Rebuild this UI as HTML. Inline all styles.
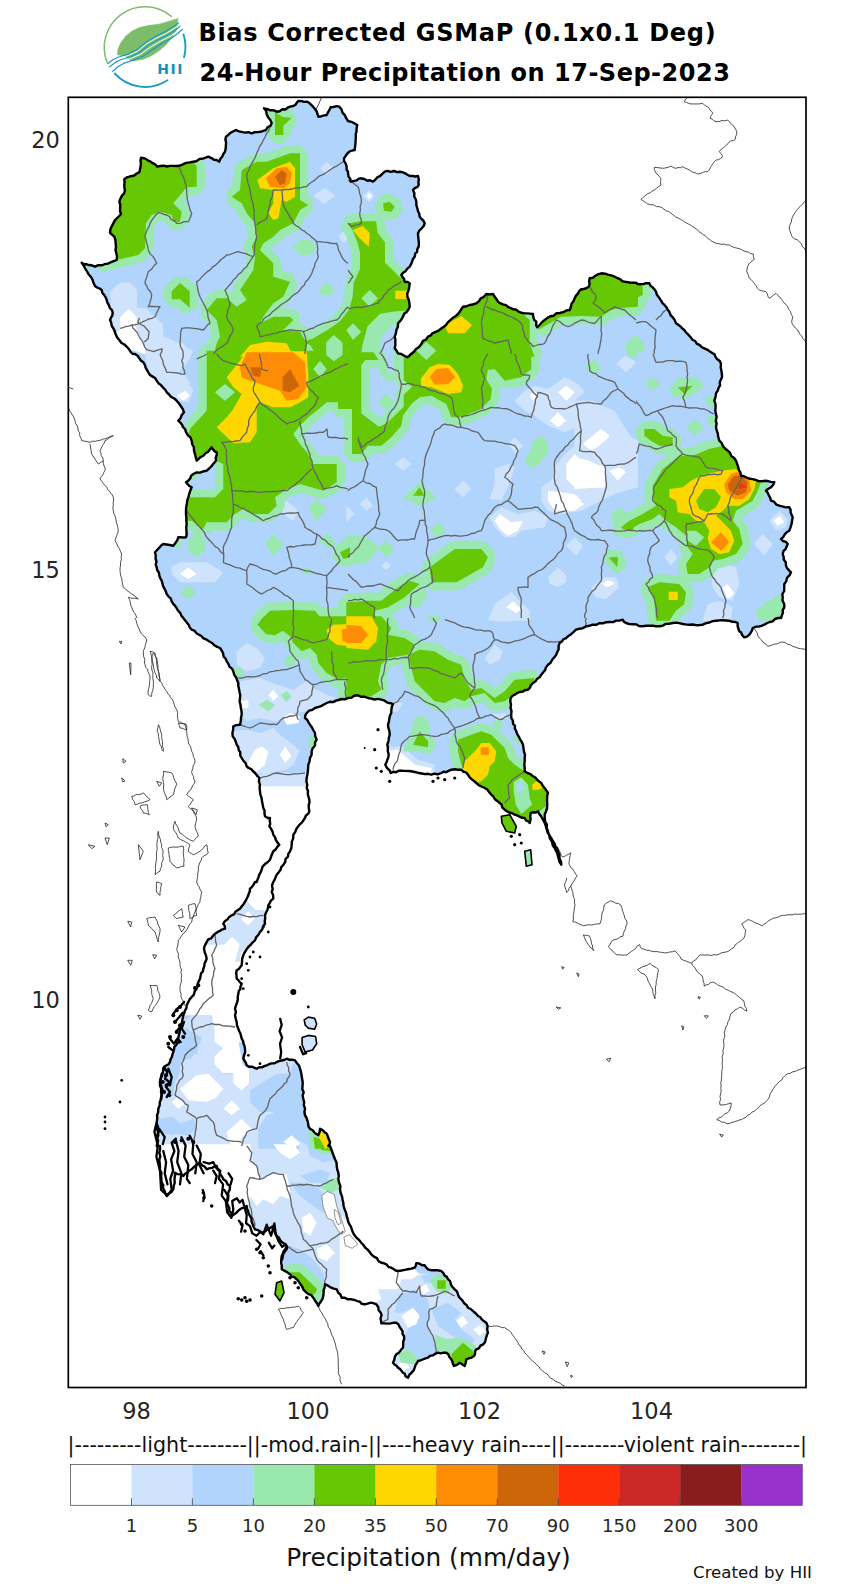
<!DOCTYPE html>
<html><head><meta charset="utf-8"><title>Bias Corrected GSMaP 24-Hour Precipitation</title>
<style>html,body{margin:0;padding:0;background:#fff}svg{display:block}</style></head>
<body>
<svg width="864" height="1584" viewBox="0 0 864 1584" font-family="'DejaVu Sans','Liberation Sans',sans-serif">
<rect width="864" height="1584" fill="#fff"/>
<g id="logo" fill="none" stroke-linecap="round" stroke-linejoin="round">
<path d="M 107.1 62.4 A 40.7 40.7 0 0 1 171.4 16.5" stroke="#7cbd6a" stroke-width="1.5"/>
<path d="M 114.8 73.5 A 40.7 40.7 0 0 0 167.5 80.2" stroke="#1d9cc4" stroke-width="1.9"/>
<path d="M 183.5 34.4 A 40.7 40.7 0 0 1 184.1 57.3" stroke="#1d9cc4" stroke-width="1.9"/>
<polygon points="177.7,18.5 170.1,21.0 158.7,24.2 148.5,25.5 139.6,27.4 131.9,31.2 125.6,36.3 120.5,43.3 117.9,49.6 117.3,54.7 124.3,56.0 129.4,59.6 133.2,60.9 143.4,59.2 151.0,56.0 158.7,50.9 166.3,44.6 170.1,39.7 171.4,38.2 176.5,29.9 177.5,24.2" fill="#7cbd6a" stroke="#7cbd6a" stroke-width="0.6"/>
<polyline points="117.3,58.6 128.1,55.5 137.6,51.2 146.6,43.8 156.1,38.2 166.3,33.4 175.2,27.8 179.0,24.8" stroke="#fff" stroke-width="1.0"/>
<polyline points="120.5,61.7 131.3,58.3 140.8,54.1 150.0,47.4 159.9,41.5 170.1,36.3 177.7,31.2 180.9,28.0" stroke="#fff" stroke-width="1.0"/>
<polyline points="107.7,63.7 112.8,59.8 117.9,57.3 128.1,54.1 137.0,49.6 145.9,42.0 154.8,36.9 165.0,31.8 173.9,26.1 178.4,22.9" stroke="#1d9cc4" stroke-width="1.2"/>
<polyline points="109.6,66.8 115.4,62.4 120.5,59.8 130.6,56.7 139.6,52.2 148.5,45.2 158.7,39.5 168.8,34.4 176.5,29.3 180.0,26.1" stroke="#1d9cc4" stroke-width="1.2"/>
<polyline points="112.8,71.3 117.9,66.8 123.0,63.7 133.2,60.1 143.4,56.0 152.3,49.9 161.2,43.9 171.4,38.2 177.7,33.4 182.2,29.5" stroke="#1d9cc4" stroke-width="1.3"/>
<text x="157.2" y="73.8" font-size="14" font-weight="bold" fill="#1d8fb5" stroke="none" style="letter-spacing:1.6px" font-family="'DejaVu Sans','Liberation Sans',sans-serif">HII</text>
</g>
<text x="198.4" y="40.6" font-size="24" font-weight="bold" fill="#000" style="letter-spacing:0.7px">Bias Corrected GSMaP (0.1x0.1 Deg)</text>
<text x="199.5" y="80.7" font-size="24" font-weight="bold" fill="#000" style="letter-spacing:0.5px">24-Hour Precipitation on 17-Sep-2023</text>
<defs><clipPath id="thai"><path d="M132.7 354.0 L126.7 346.7 L119.3 340.0 L113.3 328.3 L110.0 320.0 L112.7 312.7 L106.7 300.0 L101.7 290.0 L95.0 286.0 L90.7 276.7 L85.0 268.3 L81.7 262.7 L88.3 265.0 L95.0 266.7 L105.0 264.0 L116.7 260.0 L116.0 246.7 L114.3 236.7 L110.0 232.7 L113.3 223.3 L121.0 214.0 L119.3 201.7 L125.0 190.0 L124.3 179.3 L139.3 172.3 L141.0 157.7 L148.3 160.7 L157.3 166.7 L176.7 166.0 L193.3 161.7 L208.3 156.7 L219.3 161.7 L225.0 151.7 L226.0 136.7 L236.0 130.0 L251.7 133.3 L266.0 130.0 L271.7 123.3 L264.0 108.3 L276.7 111.7 L293.3 106.0 L298.3 101.0 L307.3 101.7 L315.0 109.0 L318.3 116.7 L326.7 115.0 L330.7 107.3 L339.3 106.7 L348.0 121.0 L348.0 121.0 L357.3 125.0 L354.7 150.0 L348.0 152.7 L344.0 158.3 L346.7 170.0 L348.0 173.3 L348.0 173.3 L350.7 181.7 L361.3 178.3 L373.0 181.7 L384.7 171.7 L399.7 171.7 L409.7 176.0 L418.0 176.0 L418.7 185.0 L413.0 190.0 L416.3 205.0 L419.7 216.7 L424.7 223.3 L418.0 233.3 L418.7 246.7 L414.7 256.7 L409.7 266.7 L401.3 275.0 L404.7 281.7 L409.7 283.3 L407.3 293.3 L409.7 306.7 L403.0 316.7 L398.0 323.3 L394.7 336.7 L394.7 348.3 L398.0 353.3 L401.3 354.0 L407.3 357.3 L410.7 354.0 L411.3 354.0 L428.0 336.7 L443.0 327.3 L458.0 314.0 L463.0 306.7 L476.3 303.3 L486.3 294.0 L493.0 294.0 L498.0 301.7 L511.3 308.3 L521.3 312.7 L533.0 314.0 L537.3 327.3 L544.7 320.0 L556.3 313.3 L569.7 310.0 L574.7 298.3 L581.3 289.3 L588.7 286.7 L589.7 278.3 L601.3 273.3 L614.7 276.7 L624.7 281.7 L636.0 282.7 L637.7 284.0 L649.3 283.3 L656.0 291.7 L662.7 303.3 L669.3 311.7 L676.0 323.3 L684.3 330.0 L692.7 340.0 L704.3 348.3 L712.7 353.3 L714.3 354.0 L721.0 364.0 L722.0 377.3 L717.7 390.7 L714.3 400.7 L716.0 414.0 L716.0 427.3 L719.3 440.7 L727.7 450.7 L736.0 460.7 L741.0 475.7 L756.0 480.0 L774.3 482.3 L771.0 487.3 L766.0 490.7 L771.0 500.7 L779.3 505.7 L789.3 507.3 L792.7 517.3 L789.3 530.7 L781.0 539.0 L787.7 544.0 L782.7 554.0 L786.0 565.7 L791.0 572.3 L784.3 584.0 L782.7 597.3 L784.3 607.3 L781.0 618.0 L777.7 618.0 L772.7 621.3 L762.7 625.3 L752.7 628.0 L749.3 634.7 L744.3 637.3 L739.3 631.3 L737.7 623.0 L729.3 620.7 L716.0 620.7 L702.7 624.7 L689.3 624.7 L672.7 623.0 L656.0 626.3 L642.7 626.3 L626.0 623.0 L622.7 619.7 L609.3 622.0 L592.7 624.7 L576.0 629.7 L568.0 636.3 L559.7 643.0 L556.3 654.7 L548.0 664.7 L541.3 674.7 L533.0 683.0 L528.0 689.7 L514.7 694.7 L510.7 698.0 L511.3 718.0 L516.3 731.3 L523.0 744.7 L524.7 758.0 L524.7 771.3 L533.0 776.3 L541.3 783.0 L548.0 793.0 L547.3 804.7 L544.7 818.0 L548.0 831.3 L553.0 841.3 L558.0 851.3 L561.3 864.7 L558.7 858.7 L554.7 848.0 L549.7 838.0 L546.3 828.0 L542.0 818.0 L538.0 811.3 L530.7 813.0 L529.7 823.0 L524.7 818.0 L514.7 814.7 L504.7 809.7 L499.7 803.0 L491.3 794.7 L484.7 788.0 L476.3 783.0 L468.0 774.7 L461.3 769.7 L451.3 769.7 L441.3 773.0 L431.3 774.7 L414.7 772.0 L401.3 770.7 L390.7 773.0 L385.3 764.7 L388.7 754.7 L387.3 744.7 L389.7 734.7 L388.0 724.7 L391.3 713.0 L393.0 704.0 L381.3 699.7 L368.0 698.0 L358.0 695.3 L348.0 698.0 L348.0 698.0 L326.7 703.0 L315.0 708.0 L306.7 713.0 L305.0 718.0 L310.0 724.7 L315.0 733.0 L316.7 739.7 L311.7 751.3 L308.3 764.7 L306.7 778.0 L306.7 788.0 L309.3 799.7 L309.3 811.3 L305.0 818.0 L298.3 826.3 L293.3 834.7 L291.7 844.7 L290.0 851.3 L283.3 864.7 L276.7 874.7 L273.3 882.0 L273.3 882.0 L271.7 892.0 L273.3 898.7 L268.3 905.3 L265.0 915.3 L265.0 923.7 L260.0 932.0 L255.0 940.3 L248.3 947.0 L243.3 955.3 L241.7 965.3 L236.7 970.3 L236.7 978.7 L241.7 983.7 L238.3 993.7 L236.0 1005.3 L235.0 1015.3 L238.3 1028.7 L241.7 1038.7 L245.0 1048.7 L243.3 1058.7 L246.7 1065.3 L256.7 1068.7 L266.7 1065.3 L276.7 1062.0 L286.7 1058.7 L295.0 1060.3 L300.0 1068.7 L302.7 1082.0 L303.3 1098.7 L305.0 1115.3 L310.0 1128.7 L318.3 1135.3 L320.0 1128.7 L326.7 1133.7 L330.0 1142.0 L328.3 1146.0 L330.0 1146.0 L335.0 1159.3 L338.3 1172.7 L340.0 1189.3 L343.3 1202.7 L346.7 1216.0 L348.0 1221.0 L348.0 1221.0 L353.0 1232.7 L361.3 1242.7 L371.3 1254.3 L381.3 1262.7 L391.3 1267.7 L398.0 1271.0 L414.7 1267.7 L416.3 1263.3 L424.7 1265.3 L428.0 1269.3 L441.3 1271.0 L448.0 1279.3 L454.7 1289.3 L461.3 1299.3 L468.0 1307.7 L478.0 1316.0 L486.3 1322.7 L488.0 1332.7 L484.7 1342.7 L476.3 1349.3 L474.0 1356.0 L466.3 1359.3 L464.7 1366.0 L459.7 1362.7 L454.0 1366.0 L451.3 1359.3 L446.3 1352.7 L438.0 1352.7 L428.0 1357.7 L418.0 1361.0 L414.7 1367.7 L408.0 1377.7 L403.0 1372.7 L398.0 1367.7 L393.0 1362.7 L396.3 1354.3 L403.0 1347.7 L404.0 1336.0 L401.3 1329.3 L396.3 1322.7 L381.3 1323.3 L380.7 1312.7 L376.3 1304.3 L371.3 1302.7 L364.7 1304.3 L354.7 1300.0 L348.0 1299.3 L348.0 1299.3 L341.7 1297.7 L336.7 1289.3 L325.0 1284.3 L323.3 1296.0 L318.3 1306.0 L313.3 1297.7 L303.3 1289.3 L296.7 1279.3 L290.0 1274.3 L281.7 1269.3 L281.7 1256.0 L286.7 1246.0 L276.7 1236.0 L273.3 1226.0 L263.3 1232.7 L255.0 1229.3 L250.0 1216.0 L246.7 1206.0 L240.0 1209.3 L231.7 1216.0 L226.7 1202.7 L230.0 1186.0 L223.3 1179.3 L216.7 1166.0 L206.7 1169.3 L200.0 1162.7 L191.7 1169.3 L183.3 1176.0 L175.0 1172.7 L173.3 1189.3 L166.7 1196.0 L161.7 1182.7 L160.0 1166.0 L160.0 1146.0 L156.7 1146.0 L158.3 1135.3 L156.7 1122.0 L158.3 1108.7 L161.7 1095.3 L160.0 1082.0 L163.3 1068.7 L170.0 1062.0 L173.3 1052.0 L176.7 1042.0 L180.0 1028.7 L183.3 1015.3 L186.7 1005.3 L191.7 997.0 L196.7 988.7 L200.0 978.7 L203.3 968.7 L206.7 958.7 L204.0 948.7 L206.7 942.0 L215.0 933.7 L225.0 928.7 L223.3 923.7 L231.7 915.3 L240.0 908.7 L246.7 898.7 L250.0 888.7 L255.0 882.0 L256.7 882.0 L259.3 874.7 L262.7 866.3 L270.0 859.7 L273.3 851.3 L279.3 844.7 L273.3 834.7 L269.3 826.3 L270.0 818.0 L265.0 816.3 L263.3 808.0 L260.0 791.3 L259.3 778.0 L255.0 773.0 L246.7 766.3 L241.7 758.0 L236.7 744.7 L232.7 736.3 L233.3 726.3 L240.0 724.7 L241.7 714.7 L240.0 698.0 L238.3 683.0 L233.3 671.3 L226.7 661.3 L220.0 648.0 L206.7 639.7 L191.7 629.7 L183.3 618.0 L183.3 618.0 L175.0 605.7 L166.7 594.0 L161.7 580.7 L156.7 567.3 L155.0 552.3 L163.3 544.0 L173.3 545.7 L178.3 537.3 L186.0 537.3 L186.7 524.0 L186.0 510.7 L188.3 497.3 L191.7 487.3 L186.0 482.3 L193.3 474.0 L206.7 470.7 L216.0 460.7 L216.7 452.3 L211.7 447.3 L203.3 455.7 L196.7 460.7 L195.0 454.0 L191.7 440.7 L185.0 429.0 L178.3 420.7 L184.0 412.3 L176.7 400.7 L166.7 392.3 L156.7 380.7 L148.3 372.3 L143.3 362.3 L135.0 354.0 Z"/>
<path d="M501.3 816.3 L509.7 814.7 L516.3 826.3 L514.7 833.0 L506.3 831.3 L502.0 823.0 Z"/>
<path d="M524.7 851.3 L530.7 849.7 L532.0 864.7 L526.3 866.3 Z"/>
<path d="M276.7 1282.7 L281.7 1281.0 L284.0 1292.7 L280.0 1301.0 L275.0 1294.3 Z"/>
<path d="M304.2 1019.8 L308.3 1017.1 L314.6 1018.3 L316.7 1024.0 L314.6 1029.2 L308.3 1028.1 L305.2 1025.0 Z"/>
<path d="M302.1 1037.5 L308.3 1035.4 L315.6 1036.5 L316.7 1043.8 L312.5 1050.0 L305.2 1052.1 L302.1 1044.8 Z"/>
</clipPath><clipPath id="rightcol"><rect x="636" y="90" width="230" height="1300"/></clipPath><clipPath id="frame"><rect x="68.3" y="97.3" width="737.7" height="1290.2"/></clipPath></defs>
<g clip-path="url(#frame)">
<g clip-path="url(#thai)">
<rect x="68" y="97" width="740" height="1292" fill="#b0d4fc"/>
<g fill="#ffffff"><path d="M256.7 783.7 L313.3 783.7 L313.3 884.7 L253.3 884.7 Z"/><path d="M153.3 880.3 L293.3 880.3 L293.3 1042.0 L216.7 1042.0 L211.7 1015.3 L183.3 1015.3 L153.3 1048.7 Z"/></g>
<g fill="#cfe3fd"><path d="M320.0 168.3 L326.7 161.7 L333.3 168.3 L326.7 175.0 Z"/><path d="M313.3 195.0 L325.0 188.3 L335.0 195.0 L325.0 203.3 Z"/><path d="M338.3 236.7 L345.0 230.0 L348.0 236.7 L345.0 243.3 Z"/><path d="M363.0 196.0 L369.0 190.0 L375.3 196.0 L369.0 202.0 Z"/><path d="M145.0 344.0 L166.7 337.3 L193.3 350.7 L186.7 364.0 L176.7 374.0 L186.7 380.7 L193.3 390.7 L188.3 402.3 L176.7 400.7 L166.7 392.3 L156.7 380.7 L148.3 372.3 Z"/><path d="M171.7 567.3 L180.0 562.3 L206.7 562.3 L223.3 572.3 L215.0 582.3 L180.0 582.3 L171.7 574.0 Z"/><path d="M278.3 505.7 L286.7 500.7 L298.3 510.7 L293.3 520.7 L286.7 517.3 Z"/><path d="M514.7 400.7 L524.7 390.7 L534.7 385.7 L548.0 389.0 L564.7 377.3 L578.0 384.0 L584.7 392.3 L574.7 400.7 L581.3 409.0 L581.3 425.7 L564.7 432.3 L548.0 425.7 L534.7 415.7 L524.7 410.7 Z"/><path d="M581.3 410.7 L598.0 404.0 L614.7 410.7 L624.7 427.3 L631.3 437.3 L638.0 440.7 L638.0 487.3 L614.7 494.0 L601.3 500.7 L581.3 510.7 L561.3 514.0 L548.0 510.7 L541.3 500.7 L541.3 487.3 L551.3 480.7 L554.7 467.3 L564.7 454.0 L581.3 440.7 L581.3 425.7 Z"/><path d="M616.3 364.0 L624.7 355.7 L634.7 364.0 L626.3 372.3 Z"/><path d="M489.7 517.3 L501.3 507.3 L518.0 514.0 L534.7 510.7 L548.0 517.3 L544.7 527.3 L521.3 530.7 L514.7 537.3 L504.7 537.3 L494.7 527.3 Z"/><path d="M489.7 499.0 L494.7 484.0 L494.7 469.0 L508.0 464.0 L514.7 467.3 L508.0 487.3 L501.3 500.7 Z"/><path d="M508.0 444.0 L514.7 437.3 L523.0 445.7 L516.3 454.0 Z"/><path d="M394.7 464.0 L403.0 457.3 L411.3 464.0 L403.0 470.7 Z"/><path d="M454.7 489.0 L463.0 480.7 L471.3 489.0 L463.0 497.3 Z"/><path d="M359.7 504.0 L366.3 497.3 L373.0 505.7 L366.3 510.7 Z"/><path d="M346.3 505.7 L354.7 514.0 L346.3 522.3 Z"/><path d="M381.3 565.7 L386.3 561.3 L390.7 565.7 L386.3 570.0 Z"/><path d="M548.0 577.3 L558.0 567.3 L566.3 575.7 L566.3 582.3 L558.0 587.3 L549.7 584.0 Z"/><path d="M566.3 545.7 L574.7 537.3 L583.0 545.7 L576.3 555.7 Z"/><path d="M591.3 587.3 L604.7 577.3 L618.0 580.7 L611.3 590.7 L598.0 597.3 Z"/><path d="M488.0 620.7 L494.7 604.0 L511.3 592.3 L521.3 602.3 L529.7 610.7 L529.7 620.7 Z"/><path d="M574.3 400.7 L592.7 400.7 L606.0 410.7 L616.0 420.7 L619.3 440.7 L626.0 454.0 L631.0 470.7 L626.0 487.3 L609.3 494.0 L592.7 500.7 L574.3 500.7 Z"/><path d="M617.7 362.3 L626.0 355.7 L636.0 362.3 L626.0 370.7 Z"/><path d="M574.3 385.7 L582.7 392.3 L574.3 399.0 Z"/><path d="M769.3 520.7 L779.3 510.7 L787.7 519.0 L786.0 527.3 L776.0 530.7 Z"/><path d="M754.3 544.0 L762.7 534.0 L772.7 544.0 L764.3 555.7 Z"/><path d="M664.3 557.3 L671.0 549.0 L677.7 557.3 L671.0 565.7 Z"/><path d="M711.0 570.7 L722.7 564.0 L736.0 567.3 L739.3 584.0 L732.7 600.7 L719.3 597.3 L712.7 587.3 Z"/><path d="M591.0 590.7 L602.7 577.3 L616.0 577.3 L619.3 587.3 L606.0 599.0 L596.0 597.3 Z"/><path d="M574.3 540.7 L582.7 547.3 L574.3 554.0 Z"/><path d="M702.7 620.7 L707.7 604.0 L719.3 600.7 L732.7 607.3 L731.0 620.7 Z"/><path d="M236.7 651.3 L246.7 643.0 L256.7 648.0 L265.0 658.0 L260.0 668.0 L246.7 671.3 L236.7 664.7 Z"/><path d="M240.0 681.3 L260.0 678.0 L276.7 684.7 L293.3 689.7 L306.7 681.3 L313.3 688.0 L326.7 694.7 L336.7 698.0 L323.3 703.0 L306.7 711.3 L293.3 713.0 L276.7 721.3 L260.0 718.0 L246.7 721.3 L241.7 714.7 L240.0 698.0 Z"/><path d="M231.7 731.3 L246.7 729.7 L260.0 733.0 L273.3 728.0 L280.0 734.7 L293.3 744.7 L300.0 751.3 L293.3 764.7 L286.7 769.7 L276.7 771.3 L266.7 774.7 L256.7 773.0 L246.7 766.3 L241.7 758.0 L236.7 744.7 Z"/><path d="M259.3 774.7 L276.7 772.0 L290.0 773.3 L308.3 771.3 L308.3 786.3 L259.3 786.3 Z"/><path d="M484.7 658.0 L494.7 644.7 L503.0 651.3 L499.7 659.7 L489.7 664.7 Z"/><path d="M381.3 748.0 L401.3 746.3 L418.0 759.7 L434.7 764.7 L434.7 776.3 L381.3 776.3 Z"/><path d="M391.3 701.3 L403.0 703.0 L398.0 711.3 L391.3 713.0 Z"/><path d="M491.3 714.7 L504.7 713.0 L508.0 718.0 L498.0 721.3 Z"/><path d="M491.3 616.3 L514.7 616.3 L511.3 621.3 L494.7 621.3 Z"/><path d="M246.7 900.7 L255.7 910.0 L266.7 910.0 L266.7 921.7 L257.7 935.7 L249.3 945.3 L241.0 952.3 L239.7 962.0 L235.0 962.0 L239.7 944.0 L232.0 937.0 L224.3 944.7 L201.7 944.7 L201.7 941.0 L214.7 932.7 L224.3 925.7 L235.7 913.3 L241.0 907.7 Z"/><path d="M191.7 1015.3 L210.0 1015.3 L215.0 1028.7 L215.0 1038.7 L223.3 1045.3 L216.7 1055.3 L216.7 1063.7 L223.3 1073.7 L241.7 1073.7 L241.7 1067.0 L246.7 1065.3 L256.7 1068.7 L276.7 1062.0 L286.7 1058.7 L295.0 1060.3 L302.7 1082.0 L305.0 1115.3 L310.0 1128.7 L306.7 1148.7 L153.3 1148.7 L158.3 1108.7 L160.0 1082.0 L170.0 1062.0 L176.7 1042.0 L183.3 1022.0 Z"/><path d="M156.7 1144.3 L331.7 1144.3 L346.7 1217.7 L343.3 1232.7 L343.3 1282.7 L338.3 1292.7 L341.7 1300.0 L325.0 1286.0 L318.3 1307.7 L280.0 1271.0 L286.7 1246.0 L255.0 1229.3 L246.7 1206.0 L226.7 1202.7 L220.0 1172.7 L193.3 1166.0 L173.3 1192.7 L160.0 1186.0 Z"/><path d="M346.3 1219.3 L398.0 1269.3 L448.0 1277.7 L489.7 1322.7 L489.7 1346.0 L464.7 1367.7 L408.0 1379.3 L391.3 1362.7 L403.0 1346.0 L403.0 1331.0 L396.3 1324.3 L381.3 1324.3 L379.7 1312.7 L371.3 1303.3 L346.3 1301.0 Z"/><path d="M313.8 196.2 L323.8 188.8 L335.0 196.2 L323.8 203.8 Z"/><path d="M340.0 238.8 L343.8 235.0 L347.5 238.8 L343.8 242.5 Z"/><path d="M110.2 291.3 L120.0 282.4 L129.7 282.4 L137.0 289.7 L137.0 307.5 L145.9 308.3 L162.9 324.5 L163.7 336.7 L171.8 342.3 L183.2 343.2 L189.6 351.3 L179.9 365.8 L171.8 375.6 L163.7 380.4 L150.7 369.1 L145.9 362.6 L145.9 352.9 L141.0 339.9 L128.1 331.8 L118.3 331.8 L111.9 323.7 Z"/><path d="M171.8 375.6 L183.2 372.3 L189.6 382.0 L189.6 391.8 L179.9 400.0 L171.8 400.0 Z"/></g>
<g fill="#b0d4fc"><path d="M183.3 1028.7 L193.3 1032.0 L200.0 1038.7 L196.7 1055.3 L186.7 1048.7 L178.3 1045.3 Z"/><path d="M166.7 1063.7 L180.0 1058.7 L180.0 1072.0 L175.0 1082.0 L173.3 1095.3 L160.0 1095.3 L158.3 1082.0 Z"/><path d="M250.0 1090.3 L263.3 1082.0 L276.7 1073.7 L290.0 1073.7 L293.3 1063.7 L300.0 1068.7 L305.0 1082.0 L308.3 1115.3 L313.3 1128.7 L313.3 1148.7 L290.0 1135.3 L280.0 1123.7 L273.3 1112.0 L260.0 1112.0 L250.0 1102.0 Z"/><path d="M156.7 1118.7 L173.3 1117.0 L180.0 1123.7 L193.3 1118.7 L196.7 1128.7 L180.0 1130.3 L173.3 1135.3 L156.7 1132.0 Z"/><path d="M258.3 1148.7 L258.3 1128.7 L266.7 1115.3 L276.7 1112.0 L293.3 1135.3 L300.0 1148.7 Z"/><path d="M290.0 1182.7 L306.7 1182.7 L320.0 1189.3 L326.7 1199.3 L323.3 1212.7 L313.3 1206.0 L300.0 1196.0 Z"/><path d="M300.0 1176.0 L320.0 1169.3 L330.0 1172.7 L326.7 1182.7 L310.0 1182.7 Z"/><path d="M280.0 1256.0 L290.0 1246.0 L300.0 1249.3 L313.3 1259.3 L323.3 1272.7 L325.0 1284.3 L318.3 1307.7 L303.3 1291.0 L290.0 1276.0 L280.0 1271.0 Z"/><path d="M306.7 1144.3 L331.7 1144.3 L336.7 1159.3 L323.3 1162.7 L310.0 1156.0 Z"/><path d="M398.0 1296.0 L414.7 1289.3 L428.0 1299.3 L429.7 1312.7 L428.0 1326.0 L434.7 1342.7 L436.3 1352.7 L418.0 1361.0 L404.7 1349.3 L404.0 1336.0 L408.0 1329.3 L419.7 1316.0 L413.0 1307.7 L401.3 1312.7 L394.7 1312.7 Z"/><path d="M431.3 1309.3 L448.0 1302.7 L461.3 1312.7 L454.7 1319.3 L461.3 1329.3 L474.7 1339.3 L471.3 1346.0 L458.0 1339.3 L448.0 1332.7 L438.0 1326.0 Z"/><path d="M421.3 1276.0 L434.7 1272.7 L431.3 1282.7 L424.7 1282.7 Z"/><path d="M186.5 1027.1 L191.7 1033.3 L202.1 1037.5 L197.9 1047.9 L191.7 1058.3 L181.2 1060.4 L177.1 1079.2 L170.8 1081.2 L170.8 1060.4 L172.9 1058.3 L177.1 1041.7 Z"/><path d="M160.4 1118.8 L170.8 1116.7 L179.2 1125.0 L193.8 1118.8 L195.8 1129.2 L187.5 1135.4 L172.9 1133.3 L162.5 1127.1 Z"/></g>
<g fill="#ffffff"><path d="M366.3 196.0 L369.0 193.3 L372.0 196.0 L369.0 199.0 Z"/><path d="M176.7 395.7 L185.0 390.7 L190.0 395.7 L183.3 400.7 Z"/><path d="M180.0 574.0 L188.3 567.3 L196.7 574.0 L188.3 579.0 Z"/><path d="M529.7 395.7 L534.7 390.7 L538.0 395.7 L533.0 400.7 Z"/><path d="M558.0 392.3 L566.3 385.7 L574.7 392.3 L566.3 400.7 Z"/><path d="M549.7 420.7 L558.0 412.3 L566.3 420.7 L558.0 427.3 Z"/><path d="M583.0 444.0 L601.3 429.0 L609.7 435.7 L591.3 450.7 Z"/><path d="M566.3 464.0 L574.7 454.0 L584.7 464.0 L604.7 465.7 L604.7 487.3 L574.7 487.3 L566.3 479.0 Z"/><path d="M548.0 490.7 L574.7 494.0 L581.3 500.7 L574.7 510.7 L554.7 510.7 L548.0 500.7 Z"/><path d="M609.7 470.7 L624.7 469.0 L618.0 480.7 Z"/><path d="M494.7 520.7 L499.7 514.0 L511.3 522.3 L523.0 520.7 L518.0 530.7 L508.0 535.7 L499.7 529.0 Z"/><path d="M602.0 584.0 L608.0 580.0 L614.7 583.3 L608.7 586.7 Z"/><path d="M506.3 607.3 L513.0 601.3 L521.3 609.0 L516.3 613.3 Z"/><path d="M584.3 442.3 L601.0 429.0 L609.3 437.3 L592.7 450.7 Z"/><path d="M574.3 457.3 L589.3 460.7 L606.0 469.0 L604.3 487.3 L574.3 489.0 Z"/><path d="M609.3 470.7 L619.3 467.3 L626.0 472.3 L617.7 480.0 Z"/><path d="M574.3 499.0 L584.3 504.0 L574.3 510.7 Z"/><path d="M773.3 520.7 L780.0 515.7 L784.3 522.3 L777.7 525.7 Z"/><path d="M722.7 587.3 L727.7 584.0 L734.3 594.0 L727.7 599.0 Z"/><path d="M602.7 584.0 L611.0 580.7 L614.3 584.0 L606.0 587.3 Z"/><path d="M268.3 695.3 L273.3 689.7 L278.3 696.3 L273.3 700.7 Z"/><path d="M241.7 701.3 L248.3 699.7 L248.3 708.0 L242.7 708.0 Z"/><path d="M283.3 718.0 L290.0 713.0 L300.0 716.3 L298.3 723.0 L286.7 724.7 Z"/><path d="M246.7 764.7 L255.0 749.7 L261.7 746.3 L268.3 751.3 L265.0 764.7 L256.7 771.3 Z"/><path d="M280.0 754.7 L285.0 746.3 L291.7 756.3 L285.0 763.0 Z"/><path d="M384.7 751.3 L398.0 749.7 L414.7 764.7 L431.3 768.0 L431.3 774.7 L414.7 772.0 L390.7 773.0 L385.3 764.7 Z"/><path d="M248.0 911.3 L255.0 918.3 L248.0 925.7 L241.0 919.0 Z"/><path d="M180.0 1088.7 L196.7 1075.3 L208.3 1073.7 L223.3 1088.7 L216.7 1097.0 L206.7 1102.0 L188.3 1100.3 Z"/><path d="M171.7 1102.0 L178.3 1097.0 L185.0 1103.7 L178.3 1108.7 Z"/><path d="M223.3 1108.7 L231.7 1100.3 L240.0 1108.7 L231.7 1115.3 Z"/><path d="M226.7 1132.0 L241.7 1118.7 L251.7 1128.7 L241.7 1137.0 L241.7 1148.7 L231.7 1148.7 Z"/><path d="M283.3 1142.0 L291.7 1135.3 L300.0 1143.7 L293.3 1148.7 Z"/><path d="M153.3 1144.3 L250.0 1144.3 L251.7 1152.7 L250.0 1161.0 L256.7 1166.0 L260.0 1179.3 L273.3 1172.7 L286.7 1174.3 L290.0 1189.3 L290.0 1199.3 L280.0 1196.0 L273.3 1204.3 L263.3 1199.3 L256.7 1206.0 L250.0 1196.0 L246.7 1212.7 L226.7 1219.3 L153.3 1212.7 Z"/><path d="M301.7 1217.7 L310.0 1212.7 L316.7 1222.7 L310.0 1236.0 L303.3 1231.0 Z"/><path d="M316.7 1249.3 L326.7 1244.3 L335.0 1252.7 L326.7 1261.0 L318.3 1257.7 Z"/><path d="M340.0 1246.0 L350.0 1242.7 L350.0 1259.3 L341.7 1256.0 Z"/><path d="M273.3 1144.3 L293.3 1144.3 L300.0 1152.7 L290.0 1159.3 L280.0 1152.7 Z"/><path d="M339.7 1214.3 L398.0 1271.0 L414.7 1269.3 L419.7 1274.3 L411.3 1279.3 L401.3 1279.3 L398.0 1289.3 L378.0 1289.3 L381.3 1299.3 L371.3 1304.3 L346.3 1301.0 L339.7 1292.7 Z"/><path d="M419.7 1287.7 L426.3 1284.3 L429.7 1291.0 L423.0 1294.3 Z"/><path d="M401.3 1316.0 L413.0 1307.7 L419.7 1316.0 L416.3 1324.3 L408.0 1327.7 Z"/><path d="M456.3 1321.0 L463.0 1316.0 L468.0 1322.7 L461.3 1327.7 Z"/><path d="M473.0 1329.3 L481.3 1324.3 L485.3 1331.0 L479.7 1336.0 Z"/><path d="M398.0 1364.3 L404.7 1361.0 L409.7 1367.7 L403.0 1371.0 Z"/><path d="M214.6 1022.9 L236.5 1026.0 L239.6 1047.9 L242.7 1064.6 L249.0 1069.8 L249.0 1083.3 L241.7 1090.6 L233.3 1083.3 L233.3 1072.9 L222.9 1072.9 L214.6 1064.6 L214.6 1056.2 L222.9 1047.9 L214.6 1041.7 Z"/><path d="M120.0 317.2 L128.9 308.8 L136.2 316.4 L137.8 325.3 L131.3 323.7 L124.8 331.8 L120.0 331.8 Z"/><path d="M108.6 323.7 L116.7 331.8 L134.5 323.7 L141.0 339.9 L145.9 349.6 L145.1 354.5 L131.3 349.6 L121.6 343.2 L113.5 333.4 Z"/></g>
<g fill="#99e8ad"><path d="M293.3 246.7 L301.7 239.3 L315.0 243.3 L315.0 250.0 L306.7 255.0 L298.3 253.3 Z"/><path d="M320.0 290.0 L326.7 283.3 L333.3 290.0 L326.7 294.0 Z"/><path d="M378.0 206.7 L388.0 196.7 L398.0 200.0 L403.0 208.3 L398.0 218.3 L384.7 220.0 Z"/><path d="M626.3 343.3 L636.0 336.7 L638.0 356.7 L628.0 356.7 Z"/><path d="M626.0 343.3 L636.0 335.0 L644.3 343.3 L644.3 351.7 L626.0 351.7 Z"/><path d="M188.3 540.7 L196.7 530.7 L205.0 540.7 L205.0 550.7 L196.7 557.3 L188.3 550.7 Z"/><path d="M173.3 540.7 L183.3 542.3 L176.7 549.0 Z"/><path d="M265.0 544.0 L273.3 534.0 L283.3 544.0 L273.3 555.7 Z"/><path d="M308.3 509.0 L316.7 499.0 L326.7 509.0 L316.7 520.7 Z"/><path d="M180.0 592.3 L188.3 585.7 L196.7 592.3 L188.3 599.0 Z"/><path d="M301.7 574.0 L308.3 567.3 L315.0 574.0 Z"/><path d="M318.3 540.7 L326.7 534.0 L336.7 544.0 L330.0 549.0 Z"/><path d="M336.7 547.3 L350.0 534.0 L350.0 560.7 L341.7 560.7 Z"/><path d="M524.7 462.3 L531.3 449.0 L533.0 440.7 L541.3 435.7 L548.0 442.3 L548.0 454.0 L533.0 469.0 Z"/><path d="M403.0 497.3 L419.7 482.3 L436.3 497.3 L419.7 505.7 Z"/><path d="M611.3 514.0 L619.7 507.3 L636.0 520.7 L636.0 534.0 L614.7 535.7 Z"/><path d="M604.7 554.0 L614.7 549.0 L626.3 559.0 L624.7 569.0 L616.3 574.0 L606.3 564.0 Z"/><path d="M584.7 367.3 L594.7 359.0 L601.3 369.0 L594.7 374.0 Z"/><path d="M429.7 530.7 L438.0 522.3 L446.3 530.7 L438.0 537.3 Z"/><path d="M378.0 547.3 L386.3 540.7 L394.7 549.0 L386.3 557.3 Z"/><path d="M346.3 535.7 L364.7 535.7 L379.7 547.3 L368.0 562.3 L346.3 565.7 Z"/><path d="M408.0 597.3 L419.7 587.3 L428.0 594.0 L419.7 607.3 L411.3 607.3 Z"/><path d="M669.3 389.0 L679.3 377.3 L696.0 377.3 L704.3 385.7 L692.7 395.7 L682.7 399.0 L672.7 395.7 Z"/><path d="M602.7 557.3 L609.3 549.0 L621.0 550.7 L626.0 560.7 L619.3 570.7 L609.3 567.3 Z"/><path d="M756.0 610.7 L766.0 602.3 L781.0 594.0 L789.3 607.3 L786.0 620.7 L759.3 620.7 Z"/><path d="M584.3 367.3 L592.7 360.7 L601.0 367.3 L592.7 374.0 Z"/><path d="M644.3 384.0 L652.7 377.3 L661.0 384.0 L652.7 390.0 Z"/><path d="M686.0 427.3 L694.3 419.0 L704.3 427.3 L694.3 435.7 Z"/><path d="M706.0 417.3 L717.7 414.0 L719.3 427.3 L709.3 425.7 Z"/><path d="M704.3 397.3 L716.0 395.7 L716.0 407.3 L707.7 405.7 Z"/><path d="M284.0 659.7 L290.7 653.0 L297.3 659.7 L293.3 666.3 L286.7 666.3 Z"/><path d="M233.3 668.0 L241.7 668.0 L243.3 676.3 L236.7 678.0 Z"/><path d="M258.3 704.7 L266.7 699.7 L275.0 705.3 L268.3 711.3 Z"/><path d="M280.7 695.3 L286.7 690.7 L291.7 697.3 L286.0 702.0 Z"/><path d="M308.3 738.0 L316.7 734.7 L316.7 746.3 L309.3 748.0 Z"/><path d="M342.7 678.0 L350.0 676.3 L350.0 698.0 L343.3 696.3 Z"/><path d="M403.0 751.3 L411.3 731.3 L414.7 718.0 L423.0 714.7 L429.7 724.7 L429.7 734.7 L436.3 744.7 L431.3 753.0 Z"/><path d="M493.0 721.3 L501.3 719.7 L503.0 726.3 L496.3 729.7 Z"/><path d="M511.3 736.3 L519.7 738.0 L518.0 746.3 Z"/><path d="M428.0 616.3 L441.3 616.3 L438.0 622.0 L429.7 622.0 Z"/><path d="M656.0 616.3 L670.0 616.3 L668.7 624.0 L656.7 625.3 Z"/><path d="M308.3 1128.7 L318.3 1133.7 L330.0 1148.7 L310.0 1148.7 Z"/><path d="M320.0 1187.7 L326.7 1181.0 L336.7 1177.7 L340.0 1189.3 L330.0 1192.7 Z"/><path d="M311.7 1144.3 L331.7 1144.3 L333.3 1154.3 L320.0 1152.7 Z"/><path d="M429.7 1281.0 L436.3 1274.3 L444.7 1276.0 L451.3 1287.7 L446.3 1294.3 L436.3 1291.0 Z"/><path d="M434.7 1334.3 L446.3 1339.3 L458.0 1337.7 L464.7 1339.3 L476.3 1346.0 L474.0 1357.7 L454.0 1367.7 L446.3 1352.7 L436.3 1351.0 Z"/><path d="M398.0 1354.3 L408.0 1349.3 L418.0 1357.7 L414.7 1364.3 L401.3 1362.7 Z"/><path d="M292.5 247.5 L300.0 240.0 L310.0 240.0 L316.2 247.5 L310.0 255.0 L300.0 255.0 Z"/><path d="M318.8 290.0 L326.2 282.5 L335.0 290.0 L330.0 295.0 L322.5 295.0 Z"/><path d="M80.3 262.9 L85.9 265.0 L89.5 271.0 L86.7 272.2 L82.7 268.6 Z"/></g>
<g fill="#99e8ad" stroke="#99e8ad" stroke-width="16.5" stroke-linejoin="bevel"><path d="M141.0 157.7 L148.3 160.7 L157.3 166.7 L176.7 166.0 L193.3 162.7 L196.7 166.0 L196.7 186.7 L186.7 187.3 L181.7 193.3 L173.3 203.3 L181.7 211.7 L180.0 221.7 L173.3 221.7 L171.7 215.0 L160.0 211.7 L151.7 215.0 L146.0 223.3 L145.0 248.3 L138.3 255.0 L116.7 260.0 L100.0 263.3 L93.3 223.3 L110.0 173.3 L126.7 156.7 Z"/><path d="M275.0 112.3 L282.7 117.0 L291.7 117.7 L283.3 126.0 L283.3 135.0 L275.0 135.0 Z"/><path d="M256.7 161.7 L266.7 161.7 L290.0 153.3 L300.0 153.3 L300.0 200.0 L308.3 205.0 L300.0 210.0 L293.3 223.3 L280.0 230.0 L273.3 236.7 L263.3 243.3 L260.0 250.0 L273.3 263.3 L273.3 276.7 L290.0 281.7 L283.3 296.7 L273.3 303.3 L263.3 316.7 L260.0 323.3 L273.3 316.7 L290.0 316.7 L293.3 320.0 L283.3 330.0 L300.0 331.7 L306.7 343.3 L306.7 356.7 L213.3 356.7 L216.7 343.3 L220.0 336.7 L216.7 320.0 L206.7 310.0 L216.7 298.3 L226.7 298.3 L236.7 306.7 L246.7 300.0 L240.0 290.0 L246.7 280.0 L253.3 270.0 L255.0 256.7 L251.7 246.7 L256.7 236.7 L255.0 223.3 L246.7 213.3 L241.7 203.3 L231.7 196.7 L240.0 190.0 L241.7 170.0 Z"/><path d="M171.7 291.3 L180.0 283.0 L189.7 291.3 L189.7 307.7 L180.0 299.3 L171.7 299.3 Z"/><path d="M383.0 203.3 L389.7 201.7 L394.7 206.7 L391.3 211.7 L384.0 210.7 Z"/><path d="M411.3 356.7 L428.0 336.7 L443.0 327.3 L458.0 314.0 L463.0 306.7 L476.3 303.3 L486.3 294.0 L493.0 294.0 L498.0 301.7 L511.3 308.3 L521.3 312.7 L529.7 320.0 L529.7 343.3 L534.7 356.7 Z"/><path d="M538.0 330.0 L544.7 320.0 L556.3 313.3 L569.7 310.0 L574.7 298.3 L581.3 289.3 L588.7 286.7 L589.7 278.3 L601.3 273.3 L614.7 276.7 L624.7 281.7 L638.0 282.7 L638.0 306.7 L624.7 306.7 L611.3 310.0 L601.3 316.7 L581.3 316.0 L561.3 316.7 Z"/><path d="M576.0 290.0 L587.7 280.0 L601.0 273.3 L626.0 280.7 L637.7 284.0 L642.7 286.7 L642.7 295.0 L636.0 298.3 L636.0 306.7 L619.3 308.3 L609.3 306.7 L601.0 313.3 L576.0 314.0 Z"/><path d="M206.7 350.7 L206.7 410.7 L190.0 429.0 L183.3 454.0 L183.3 520.7 L191.7 520.7 L203.3 529.0 L206.7 522.3 L226.7 522.3 L235.0 514.0 L243.3 509.0 L253.3 514.0 L268.3 514.0 L276.7 505.7 L275.0 497.3 L286.7 489.0 L300.0 484.0 L323.3 490.7 L336.7 482.3 L336.7 464.0 L313.3 464.0 L308.3 454.0 L300.0 444.0 L293.3 434.0 L300.0 425.7 L308.3 417.3 L316.7 410.7 L326.7 402.3 L360.0 402.3 L360.0 350.7 Z"/><path d="M340.0 552.3 L350.0 547.3 L350.0 557.3 L343.3 559.0 Z"/><path d="M260.0 620.7 L270.0 610.7 L293.3 610.0 L315.0 610.7 L323.3 620.7 Z"/><path d="M338.0 352.3 L383.0 352.3 L382.0 360.0 L365.3 360.0 L361.3 365.0 L361.3 413.3 L378.7 426.7 L387.0 423.3 L395.3 415.0 L403.7 406.7 L403.7 395.0 L412.0 386.7 L403.7 380.0 L403.7 358.3 L403.7 352.3 L531.3 352.3 L531.3 369.0 L521.3 377.3 L504.7 380.7 L494.7 369.0 L488.0 370.0 L486.3 379.0 L492.0 389.0 L490.7 399.0 L481.3 409.0 L461.3 417.3 L451.3 417.3 L446.3 404.0 L431.3 395.7 L419.7 397.3 L411.3 404.0 L403.0 415.7 L401.3 425.7 L391.3 437.3 L381.3 445.7 L368.0 445.7 L361.3 454.0 L352.0 454.0 L352.0 409.0 L338.0 409.0 Z"/><path d="M429.7 567.3 L454.7 549.0 L481.3 549.0 L488.0 557.3 L483.0 567.3 L468.0 575.7 L456.3 582.3 L431.3 582.3 Z"/><path d="M346.3 620.7 L346.3 602.3 L368.0 600.7 L381.3 600.7 L398.0 587.3 L409.7 580.7 L419.7 584.0 L404.7 597.3 L388.0 607.3 L374.7 610.7 L374.7 620.7 Z"/><path d="M652.7 485.7 L662.7 469.0 L679.3 455.7 L692.7 455.7 L709.3 449.0 L722.7 445.7 L727.7 450.7 L736.0 460.7 L741.0 475.7 L756.0 480.0 L761.0 482.3 L757.7 490.7 L752.7 500.7 L736.0 510.7 L732.7 520.7 L739.3 529.0 L742.7 544.0 L736.0 554.0 L722.7 559.0 L712.7 560.7 L709.3 567.3 L699.3 574.0 L687.7 574.0 L686.0 564.0 L692.7 554.0 L687.7 547.3 L686.0 535.7 L676.0 527.3 L666.0 520.7 L659.3 514.0 L652.7 519.0 L639.3 524.0 L627.7 530.7 L621.0 527.3 L629.3 520.7 L642.7 514.0 L656.0 505.7 L652.7 497.3 Z"/><path d="M644.3 429.0 L654.3 429.0 L662.7 435.7 L672.7 437.3 L672.7 445.7 L659.3 445.7 L651.0 440.7 L644.3 435.7 Z"/><path d="M647.7 587.3 L659.3 582.3 L679.3 584.0 L686.0 592.3 L684.3 604.0 L676.0 610.7 L669.3 620.7 L656.0 620.7 L654.3 600.7 Z"/><path d="M257.3 624.7 L264.0 616.3 L350.0 616.3 L350.0 676.3 L338.3 679.7 L326.7 673.0 L318.3 663.0 L316.7 654.7 L310.0 648.0 L301.7 651.3 L293.3 643.0 L290.0 636.3 L282.7 630.7 L275.0 635.3 L266.0 634.0 Z"/><path d="M346.3 616.3 L381.3 616.3 L391.3 628.0 L388.0 634.7 L404.7 638.0 L414.7 644.7 L408.0 654.7 L388.0 658.0 L381.3 664.7 L378.0 681.3 L381.3 689.7 L371.3 696.3 L346.3 699.7 Z"/><path d="M408.0 654.7 L419.7 649.7 L434.7 651.3 L448.0 659.7 L461.3 664.7 L464.7 679.7 L471.3 689.7 L481.3 688.0 L494.7 698.0 L504.7 691.3 L514.7 679.7 L534.7 678.0 L529.7 688.0 L514.7 694.0 L504.7 701.3 L494.7 703.0 L484.7 693.0 L471.3 696.3 L464.7 701.3 L454.7 698.0 L444.7 703.0 L434.7 701.3 L424.7 691.3 L414.7 681.3 L411.3 668.0 Z"/><path d="M458.0 739.7 L471.3 734.7 L481.3 731.3 L491.3 734.7 L504.7 748.0 L508.0 758.0 L514.7 764.7 L524.7 771.3 L533.0 776.3 L541.3 783.0 L548.0 793.0 L547.3 804.7 L539.7 811.3 L530.7 813.0 L529.7 823.0 L514.7 814.7 L504.7 809.7 L491.3 794.7 L476.3 783.0 L468.0 774.7 L461.3 764.7 L458.0 751.3 Z"/><path d="M286.7 1274.3 L291.3 1272.3 L299.7 1272.3 L317.0 1289.0 L316.3 1291.7 L312.3 1295.7 L308.3 1299.3 L300.0 1292.7 Z"/><path d="M347.5 223.8 L360.0 221.2 L376.2 221.2 L377.5 232.5 L385.0 242.5 L385.0 262.5 L392.5 270.0 L400.0 277.5 L420.0 280.0 L420.0 310.0 L396.2 311.2 L380.0 313.8 L367.5 326.2 L362.5 345.0 L360.0 360.0 L360.0 375.0 L320.0 375.0 L320.0 360.0 L310.0 345.0 L302.5 341.2 L312.5 338.8 L327.5 330.0 L340.0 321.2 L348.8 310.0 L352.5 297.5 L353.8 282.5 L360.0 268.8 L360.0 252.5 L357.5 242.5 L352.5 230.0 Z"/></g>
<g fill="#66c804"><path d="M141.0 157.7 L148.3 160.7 L157.3 166.7 L176.7 166.0 L193.3 162.7 L196.7 166.0 L196.7 186.7 L186.7 187.3 L181.7 193.3 L173.3 203.3 L181.7 211.7 L180.0 221.7 L173.3 221.7 L171.7 215.0 L160.0 211.7 L151.7 215.0 L146.0 223.3 L145.0 248.3 L138.3 255.0 L116.7 260.0 L100.0 263.3 L93.3 223.3 L110.0 173.3 L126.7 156.7 Z"/><path d="M275.0 112.3 L282.7 117.0 L291.7 117.7 L283.3 126.0 L283.3 135.0 L275.0 135.0 Z"/><path d="M256.7 161.7 L266.7 161.7 L290.0 153.3 L300.0 153.3 L300.0 200.0 L308.3 205.0 L300.0 210.0 L293.3 223.3 L280.0 230.0 L273.3 236.7 L263.3 243.3 L260.0 250.0 L273.3 263.3 L273.3 276.7 L290.0 281.7 L283.3 296.7 L273.3 303.3 L263.3 316.7 L260.0 323.3 L273.3 316.7 L290.0 316.7 L293.3 320.0 L283.3 330.0 L300.0 331.7 L306.7 343.3 L306.7 356.7 L213.3 356.7 L216.7 343.3 L220.0 336.7 L216.7 320.0 L206.7 310.0 L216.7 298.3 L226.7 298.3 L236.7 306.7 L246.7 300.0 L240.0 290.0 L246.7 280.0 L253.3 270.0 L255.0 256.7 L251.7 246.7 L256.7 236.7 L255.0 223.3 L246.7 213.3 L241.7 203.3 L231.7 196.7 L240.0 190.0 L241.7 170.0 Z"/><path d="M171.7 291.3 L180.0 283.0 L189.7 291.3 L189.7 307.7 L180.0 299.3 L171.7 299.3 Z"/><path d="M383.0 203.3 L389.7 201.7 L394.7 206.7 L391.3 211.7 L384.0 210.7 Z"/><path d="M411.3 356.7 L428.0 336.7 L443.0 327.3 L458.0 314.0 L463.0 306.7 L476.3 303.3 L486.3 294.0 L493.0 294.0 L498.0 301.7 L511.3 308.3 L521.3 312.7 L529.7 320.0 L529.7 343.3 L534.7 356.7 Z"/><path d="M538.0 330.0 L544.7 320.0 L556.3 313.3 L569.7 310.0 L574.7 298.3 L581.3 289.3 L588.7 286.7 L589.7 278.3 L601.3 273.3 L614.7 276.7 L624.7 281.7 L638.0 282.7 L638.0 306.7 L624.7 306.7 L611.3 310.0 L601.3 316.7 L581.3 316.0 L561.3 316.7 Z"/><path d="M576.0 290.0 L587.7 280.0 L601.0 273.3 L626.0 280.7 L637.7 284.0 L642.7 286.7 L642.7 295.0 L636.0 298.3 L636.0 306.7 L619.3 308.3 L609.3 306.7 L601.0 313.3 L576.0 314.0 Z"/><path d="M206.7 350.7 L206.7 410.7 L190.0 429.0 L183.3 454.0 L183.3 520.7 L191.7 520.7 L203.3 529.0 L206.7 522.3 L226.7 522.3 L235.0 514.0 L243.3 509.0 L253.3 514.0 L268.3 514.0 L276.7 505.7 L275.0 497.3 L286.7 489.0 L300.0 484.0 L323.3 490.7 L336.7 482.3 L336.7 464.0 L313.3 464.0 L308.3 454.0 L300.0 444.0 L293.3 434.0 L300.0 425.7 L308.3 417.3 L316.7 410.7 L326.7 402.3 L360.0 402.3 L360.0 350.7 Z"/><path d="M340.0 552.3 L350.0 547.3 L350.0 557.3 L343.3 559.0 Z"/><path d="M260.0 620.7 L270.0 610.7 L293.3 610.0 L315.0 610.7 L323.3 620.7 Z"/><path d="M338.0 352.3 L383.0 352.3 L382.0 360.0 L365.3 360.0 L361.3 365.0 L361.3 413.3 L378.7 426.7 L387.0 423.3 L395.3 415.0 L403.7 406.7 L403.7 395.0 L412.0 386.7 L403.7 380.0 L403.7 358.3 L403.7 352.3 L531.3 352.3 L531.3 369.0 L521.3 377.3 L504.7 380.7 L494.7 369.0 L488.0 370.0 L486.3 379.0 L492.0 389.0 L490.7 399.0 L481.3 409.0 L461.3 417.3 L451.3 417.3 L446.3 404.0 L431.3 395.7 L419.7 397.3 L411.3 404.0 L403.0 415.7 L401.3 425.7 L391.3 437.3 L381.3 445.7 L368.0 445.7 L361.3 454.0 L352.0 454.0 L352.0 409.0 L338.0 409.0 Z"/><path d="M429.7 567.3 L454.7 549.0 L481.3 549.0 L488.0 557.3 L483.0 567.3 L468.0 575.7 L456.3 582.3 L431.3 582.3 Z"/><path d="M346.3 620.7 L346.3 602.3 L368.0 600.7 L381.3 600.7 L398.0 587.3 L409.7 580.7 L419.7 584.0 L404.7 597.3 L388.0 607.3 L374.7 610.7 L374.7 620.7 Z"/><path d="M652.7 485.7 L662.7 469.0 L679.3 455.7 L692.7 455.7 L709.3 449.0 L722.7 445.7 L727.7 450.7 L736.0 460.7 L741.0 475.7 L756.0 480.0 L761.0 482.3 L757.7 490.7 L752.7 500.7 L736.0 510.7 L732.7 520.7 L739.3 529.0 L742.7 544.0 L736.0 554.0 L722.7 559.0 L712.7 560.7 L709.3 567.3 L699.3 574.0 L687.7 574.0 L686.0 564.0 L692.7 554.0 L687.7 547.3 L686.0 535.7 L676.0 527.3 L666.0 520.7 L659.3 514.0 L652.7 519.0 L639.3 524.0 L627.7 530.7 L621.0 527.3 L629.3 520.7 L642.7 514.0 L656.0 505.7 L652.7 497.3 Z"/><path d="M644.3 429.0 L654.3 429.0 L662.7 435.7 L672.7 437.3 L672.7 445.7 L659.3 445.7 L651.0 440.7 L644.3 435.7 Z"/><path d="M647.7 587.3 L659.3 582.3 L679.3 584.0 L686.0 592.3 L684.3 604.0 L676.0 610.7 L669.3 620.7 L656.0 620.7 L654.3 600.7 Z"/><path d="M257.3 624.7 L264.0 616.3 L350.0 616.3 L350.0 676.3 L338.3 679.7 L326.7 673.0 L318.3 663.0 L316.7 654.7 L310.0 648.0 L301.7 651.3 L293.3 643.0 L290.0 636.3 L282.7 630.7 L275.0 635.3 L266.0 634.0 Z"/><path d="M346.3 616.3 L381.3 616.3 L391.3 628.0 L388.0 634.7 L404.7 638.0 L414.7 644.7 L408.0 654.7 L388.0 658.0 L381.3 664.7 L378.0 681.3 L381.3 689.7 L371.3 696.3 L346.3 699.7 Z"/><path d="M408.0 654.7 L419.7 649.7 L434.7 651.3 L448.0 659.7 L461.3 664.7 L464.7 679.7 L471.3 689.7 L481.3 688.0 L494.7 698.0 L504.7 691.3 L514.7 679.7 L534.7 678.0 L529.7 688.0 L514.7 694.0 L504.7 701.3 L494.7 703.0 L484.7 693.0 L471.3 696.3 L464.7 701.3 L454.7 698.0 L444.7 703.0 L434.7 701.3 L424.7 691.3 L414.7 681.3 L411.3 668.0 Z"/><path d="M458.0 739.7 L471.3 734.7 L481.3 731.3 L491.3 734.7 L504.7 748.0 L508.0 758.0 L514.7 764.7 L524.7 771.3 L533.0 776.3 L541.3 783.0 L548.0 793.0 L547.3 804.7 L539.7 811.3 L530.7 813.0 L529.7 823.0 L514.7 814.7 L504.7 809.7 L491.3 794.7 L476.3 783.0 L468.0 774.7 L461.3 764.7 L458.0 751.3 Z"/><path d="M286.7 1274.3 L291.3 1272.3 L299.7 1272.3 L317.0 1289.0 L316.3 1291.7 L312.3 1295.7 L308.3 1299.3 L300.0 1292.7 Z"/><path d="M347.5 223.8 L360.0 221.2 L376.2 221.2 L377.5 232.5 L385.0 242.5 L385.0 262.5 L392.5 270.0 L400.0 277.5 L420.0 280.0 L420.0 310.0 L396.2 311.2 L380.0 313.8 L367.5 326.2 L362.5 345.0 L360.0 360.0 L360.0 375.0 L320.0 375.0 L320.0 360.0 L310.0 345.0 L302.5 341.2 L312.5 338.8 L327.5 330.0 L340.0 321.2 L348.8 310.0 L352.5 297.5 L353.8 282.5 L360.0 268.8 L360.0 252.5 L357.5 242.5 L352.5 230.0 Z"/></g>
<g fill="#66c804"><path d="M413.0 495.7 L419.7 487.3 L424.7 495.7 Z"/><path d="M621.3 529.0 L634.7 522.3 L633.0 530.7 Z"/><path d="M609.7 557.3 L618.0 557.3 L617.3 567.3 Z"/><path d="M677.7 387.3 L692.7 385.7 L684.3 394.0 Z"/><path d="M608.7 558.0 L617.7 557.3 L616.7 565.7 Z"/><path d="M413.0 744.7 L419.7 731.3 L428.0 741.3 L428.0 747.3 Z"/><path d="M313.3 1137.0 L320.0 1138.7 L326.7 1148.7 L315.0 1148.7 Z"/><path d="M316.7 1144.3 L330.0 1144.3 L330.7 1151.0 L321.7 1150.0 Z"/><path d="M437.3 1280.3 L445.7 1280.3 L445.7 1288.7 L437.3 1288.7 Z"/><path d="M451.3 1354.3 L463.0 1342.7 L473.0 1351.0 L474.7 1357.7 L466.3 1361.0 L464.7 1367.7 L459.7 1364.3 L454.0 1367.7 Z"/></g>
<g fill="#b0d4fc" stroke="#99e8ad" stroke-width="16.5" stroke-linejoin="bevel"><path d="M381.3 336.7 L394.7 323.3 L398.0 330.0 L394.7 343.3 L394.0 356.7 L394.0 373.3 L388.0 373.3 L386.3 356.7 L379.7 346.7 Z"/><path d="M188.3 482.3 L206.7 470.7 L215.0 464.0 L215.0 489.0 L190.0 489.0 Z"/></g>
<g fill="#b0d4fc"><path d="M381.3 336.7 L394.7 323.3 L398.0 330.0 L394.7 343.3 L394.0 356.7 L394.0 373.3 L388.0 373.3 L386.3 356.7 L379.7 346.7 Z"/><path d="M188.3 482.3 L206.7 470.7 L215.0 464.0 L215.0 489.0 L190.0 489.0 Z"/></g>
<g fill="#99e8ad"><path d="M513.7 782.0 L521.3 777.3 L528.0 784.7 L529.7 798.0 L532.0 804.7 L521.3 814.0 L515.7 804.7 L513.7 791.3 Z"/></g>
<g fill="#b0d4fc"><path d="M517.3 784.0 L522.0 781.3 L524.0 788.0 L519.7 793.0 L516.7 789.7 Z"/></g>
<g fill="#99e8ad"><path d="M361.3 298.3 L369.7 290.0 L378.0 298.3 L369.7 306.7 Z"/><path d="M346.3 330.0 L353.0 323.3 L361.3 331.7 L353.0 340.0 Z"/><path d="M416.3 350.7 L426.3 341.7 L436.3 350.7 L426.3 360.0 Z"/><path d="M313.3 369.0 L320.0 360.7 L326.7 369.0 L320.0 377.3 Z"/><path d="M215.0 392.3 L225.0 384.0 L235.0 392.3 L225.0 400.7 Z"/><path d="M378.0 402.3 L386.3 394.0 L394.7 402.3 L386.3 410.7 Z"/><path d="M686.0 530.7 L696.0 530.7 L704.3 537.3 L696.0 545.7 L687.7 540.7 Z"/><path d="M326.2 342.5 L333.8 335.0 L342.5 342.5 L342.5 355.0 L333.8 361.2 L326.2 355.0 Z"/></g>
<g fill="#fed700"><path d="M257.3 180.0 L273.3 168.3 L290.0 161.7 L295.0 168.3 L295.0 196.7 L286.7 201.7 L281.7 200.0 L278.3 218.3 L273.3 220.0 L268.3 213.3 L273.3 203.3 L273.3 190.0 L260.0 188.3 Z"/><path d="M240.0 356.7 L250.0 345.0 L266.7 341.7 L286.7 343.3 L293.3 356.7 Z"/><path d="M353.0 230.0 L363.0 226.0 L369.7 233.3 L368.7 246.7 L359.7 238.3 Z"/><path d="M395.3 290.7 L408.0 290.7 L408.0 299.0 L395.3 299.0 Z"/><path d="M444.7 325.0 L461.3 316.0 L472.0 325.0 L464.7 333.3 L448.0 333.3 Z"/><path d="M226.7 377.3 L240.0 360.7 L246.7 351.3 L306.7 351.3 L308.3 374.0 L308.3 397.3 L300.0 402.3 L290.0 407.3 L273.3 407.3 L260.0 402.3 L256.7 407.3 L256.7 432.3 L250.0 442.3 L233.3 443.3 L216.7 427.3 L226.7 417.3 L233.3 409.0 L241.7 394.0 L233.3 387.3 Z"/><path d="M420.7 379.0 L429.7 367.3 L438.0 364.0 L449.7 364.7 L458.0 374.0 L463.0 385.7 L461.3 392.3 L448.0 394.0 L431.3 387.3 L421.3 385.7 Z"/><path d="M668.7 591.7 L677.7 591.7 L677.7 600.0 L668.7 600.0 Z"/><path d="M669.3 489.0 L682.7 487.3 L691.0 480.7 L701.0 475.7 L721.0 470.7 L736.0 469.0 L742.7 475.7 L756.0 480.7 L754.3 489.0 L749.3 499.0 L739.3 505.7 L727.7 505.7 L722.7 510.7 L716.0 515.7 L722.7 522.3 L731.0 530.7 L734.3 540.7 L729.3 552.3 L719.3 554.0 L711.0 549.0 L707.7 539.0 L709.3 530.7 L704.3 522.3 L696.0 520.7 L689.3 514.0 L677.7 512.3 L676.0 500.7 L669.3 497.3 Z"/><path d="M326.7 629.7 L333.3 624.7 L350.0 624.0 L350.0 646.3 L336.7 644.7 L328.3 638.0 Z"/><path d="M346.3 616.3 L371.3 616.3 L378.0 628.0 L376.3 641.3 L368.0 649.7 L346.3 648.0 Z"/><path d="M464.7 761.3 L476.3 749.7 L481.3 743.0 L489.7 743.0 L496.3 751.3 L494.7 761.3 L489.7 766.3 L488.0 774.7 L481.3 781.3 L476.3 783.0 L468.0 774.7 L463.0 768.0 Z"/><path d="M532.3 784.7 L538.0 779.7 L543.0 788.0 L538.0 789.7 L532.3 789.7 Z"/><path d="M318.3 1135.3 L324.0 1131.3 L330.7 1147.0 L325.0 1148.7 Z"/><path d="M324.0 1144.3 L330.0 1144.3 L330.0 1149.3 Z"/></g>
<g fill="#66c804"><path d="M696.0 500.7 L704.3 489.0 L714.3 489.0 L721.0 497.3 L716.0 507.3 L707.7 512.3 L699.3 509.0 Z"/></g>
<g fill="#fe8c05"><path d="M266.0 178.3 L276.7 168.3 L286.7 166.7 L291.7 173.3 L290.0 183.3 L283.3 188.3 L270.0 186.7 Z"/><path d="M240.0 367.3 L246.7 352.3 L293.3 352.3 L305.0 362.3 L306.7 387.3 L298.3 399.0 L286.7 400.7 L280.0 390.7 L260.0 384.0 L250.0 380.7 L241.7 377.3 Z"/><path d="M429.7 377.3 L436.3 369.0 L448.0 368.0 L455.3 377.3 L448.0 384.0 L434.7 384.7 Z"/><path d="M724.3 484.0 L731.0 474.0 L741.0 470.7 L749.3 479.0 L751.0 490.7 L742.7 499.0 L734.3 499.0 L726.0 492.3 Z"/><path d="M711.0 542.3 L721.0 532.3 L729.3 542.3 L721.0 550.7 Z"/><path d="M341.7 629.7 L350.0 628.0 L350.0 642.0 L342.7 641.3 Z"/><path d="M346.3 624.7 L361.3 626.3 L368.0 634.7 L361.3 643.0 L346.3 643.0 Z"/><path d="M480.7 747.3 L488.7 747.3 L488.7 754.7 L480.7 754.7 Z"/></g>
<g fill="#cc6608"><path d="M275.0 176.7 L281.7 170.0 L286.7 173.3 L285.0 183.3 L280.0 185.0 Z"/><path d="M250.0 367.3 L261.7 367.3 L260.0 377.3 L253.3 375.7 Z"/><path d="M282.7 377.3 L290.0 369.0 L299.3 385.7 L290.0 392.3 L282.7 390.7 Z"/><path d="M727.7 484.0 L734.3 475.7 L741.0 475.7 L747.7 482.3 L746.0 492.3 L737.7 495.7 L729.3 490.7 Z"/></g>
<g fill="#fe2f08"><path d="M739.3 482.3 L747.7 487.3 L738.7 489.0 Z"/></g>
</g>
<path d="M321.7 1195.6 L327.2 1191.4 L334.2 1194.2 L336.9 1206.7 L341.1 1217.8 L345.3 1231.7 L341.1 1234.4 L336.9 1228.9 L332.8 1220.6 L327.2 1217.8 L323.1 1206.7 Z M343.9 1237.2 L349.4 1234.4 L357.8 1244.2 L352.2 1248.3 L345.3 1245.6 Z M334.2 1209.4 L338.3 1212.2 L341.1 1223.3 L337.8 1224.7 L335.0 1217.8 Z" fill="#fff" stroke="#777" stroke-width="0.8" stroke-linejoin="round"/>
<g clip-path="url(#thai)" fill="none" stroke="#636363" stroke-width="1.3" stroke-linejoin="round">
<path d="M178.3 166.7 L180.4 169.8 L181.3 173.5 L183.3 176.7 L184.6 179.9 L185.2 183.3 L186.2 186.6 L186.7 190.0 L186.6 193.4 L187.2 196.7 L187.4 200.1 L188.3 203.3 L189.3 206.7 L190.1 210.1 L191.7 213.3 L190.8 216.2 L189.7 219.0 L188.3 221.7 L184.4 221.7 L180.6 223.2 L176.7 223.3 L174.5 220.8 L171.3 219.6 L169.5 216.6 L166.7 215.0 L163.8 214.4 L161.2 213.1 L158.3 212.7 L155.8 215.0 L153.7 217.6 L151.7 220.4 L150.0 223.3 L149.0 226.7 L147.1 229.8 L145.9 233.2 L145.0 236.7 L146.0 240.0 L146.8 243.3 L147.7 246.6 L148.3 250.0 L150.0 253.6 L152.9 256.4 L155.0 259.7 L156.7 263.3 L153.7 266.0 L151.5 269.3 L148.3 271.7 L147.4 274.6 L146.6 277.5 L145.5 280.3 L145.0 283.3 L146.8 286.2 L148.2 289.2 L150.5 291.8 L151.7 295.0 L151.3 298.1 L150.4 300.9 L149.6 303.9 L148.3 306.7 L152.2 306.4 L156.1 306.7 L160.0 306.7 L158.0 309.9 L156.5 313.3 L155.0 316.7 L152.1 318.3 L148.8 318.9 L145.9 320.5 L142.9 321.7 L140.0 323.3 L137.3 324.2 L134.5 324.8 L131.7 325.0 L128.9 326.2 L125.8 326.5 L123.0 327.7 L120.0 328.3 M131.7 325.0 L132.9 327.8 L134.8 330.1 L137.1 332.2 L138.3 335.0 L139.9 337.8 L141.8 340.5 L143.3 343.3 L144.6 346.8 L146.7 350.0 M271.7 125.0 L269.6 127.8 L268.6 131.1 L266.3 133.8 L265.1 137.1 L263.3 140.0 L261.8 143.4 L259.6 146.5 L258.2 149.9 L256.7 153.3 L255.4 156.9 L253.7 160.2 L251.8 163.4 L250.0 166.7 L248.9 170.0 L247.2 173.2 L246.7 176.7 L247.5 180.0 L248.0 183.4 L249.2 186.7 L250.0 190.0 L250.4 193.4 L251.1 196.7 L251.7 200.1 L253.1 203.2 L253.3 206.7 L254.1 210.3 L254.0 214.0 L254.2 217.7 L254.6 221.3 L255.0 225.0 L255.8 228.9 L255.8 232.8 L256.7 236.7 L256.1 240.0 L255.0 243.2 L254.6 246.6 L254.4 250.0 L254.4 253.4 L253.3 256.7 L251.4 259.0 L249.9 261.6 L248.1 264.0 L246.7 266.7 L243.7 269.1 L241.5 272.2 L238.4 274.4 L236.1 277.4 L233.3 280.0 L231.6 282.8 L229.4 285.2 L227.3 287.7 L225.0 290.0 L226.3 293.3 L227.8 296.5 L228.6 300.1 L230.0 303.3 L229.5 306.8 L227.9 309.9 L227.2 313.3 L226.7 316.7 L227.8 320.3 L230.1 323.3 L232.1 326.4 L233.3 330.0 L231.8 333.4 L229.6 336.5 L228.6 340.1 L226.7 343.3 L224.3 345.1 L221.8 346.8 L219.1 348.3 L216.7 350.0 L215.1 352.1 L213.3 354.0 M256.7 225.0 L259.0 223.0 L261.5 221.4 L264.4 220.4 L266.7 218.3 L267.7 214.8 L268.2 211.2 L268.9 207.6 L270.2 204.2 L270.4 200.5 L272.2 197.2 L272.8 193.6 L273.3 190.0 L276.1 189.8 L278.9 190.1 L281.7 190.0 L282.3 193.7 L282.6 197.5 L282.6 201.3 L283.3 205.0 L284.8 208.2 L286.6 211.1 L288.4 214.1 L289.9 217.3 L292.2 220.0 L293.3 223.3 L295.8 225.5 L298.8 227.1 L301.2 229.5 L304.2 231.1 L306.7 233.3 L309.5 235.0 L311.8 237.4 L314.5 239.2 L316.7 241.7 L317.4 245.4 L317.7 249.1 L317.4 253.0 L318.3 256.7 L316.9 260.0 L315.1 263.2 L314.4 266.8 L312.9 270.1 L311.7 273.5 L310.0 276.7 L308.1 279.4 L305.6 281.7 L304.4 285.0 L301.8 287.2 L300.0 290.0 L297.5 292.6 L294.4 294.4 L291.6 296.6 L289.2 299.2 L286.4 301.5 L283.3 303.3 L280.3 305.2 L277.8 307.8 L274.9 309.9 L272.2 312.1 L269.8 314.9 L266.7 316.7 L263.8 318.8 L262.0 322.0 L258.8 323.8 L256.7 326.7 L258.3 329.8 L259.4 333.2 L260.0 336.7 L263.4 336.0 L266.7 335.0 L270.1 334.7 L273.3 333.3 L276.8 333.1 L279.9 331.6 L283.3 331.3 L286.6 330.3 L290.0 330.0 L293.4 330.2 L296.7 330.6 L300.1 330.7 L303.3 331.7 L304.4 334.5 L305.5 337.4 L305.7 340.5 L306.7 343.3 L305.7 346.8 L305.0 350.4 L305.0 354.0 M281.7 190.0 L285.2 189.5 L288.9 189.5 L292.4 189.0 L295.9 187.7 L299.6 188.2 L303.1 187.0 L306.7 186.7 L308.8 184.2 L311.4 182.2 L314.3 180.6 L316.7 178.3 L319.7 175.8 L323.5 174.4 L326.8 172.3 L330.0 170.0 L333.2 167.7 L336.8 166.1 L340.0 163.7 L343.3 161.7 M316.7 241.7 L320.0 241.6 L323.3 242.1 L326.7 242.3 L330.0 243.0 L333.3 243.6 L336.7 243.3 L337.8 246.7 L338.6 250.2 L340.3 253.4 L341.7 256.7 L343.4 259.3 L345.5 261.5 L348.0 263.3 M253.3 256.7 L249.6 255.5 L246.0 253.7 L242.1 252.9 L238.3 251.7 L235.4 252.4 L232.5 253.5 L229.7 254.7 L226.7 255.0 L223.8 257.4 L220.9 259.8 L218.4 262.5 L215.6 265.1 L212.4 267.1 L210.0 270.0 L207.0 271.9 L204.4 274.3 L201.9 276.9 L199.6 279.7 L196.7 281.7 L197.1 285.5 L197.9 289.3 L198.6 293.0 L200.0 296.7 L201.7 300.0 L203.4 303.3 L205.2 306.6 L206.7 310.0 L207.7 313.3 L207.9 316.8 L209.1 320.0 L210.0 323.3 L207.4 325.1 L205.5 327.7 L203.3 330.0 L200.0 329.3 L196.7 328.7 L193.3 328.3 L189.4 327.9 L185.6 327.9 L181.7 328.3 L180.8 332.0 L180.5 335.8 L180.4 339.6 L180.0 343.3 L180.6 347.0 L182.7 350.3 L183.3 354.0 M303.3 331.7 L306.8 330.5 L310.0 328.9 L313.5 328.0 L316.6 326.0 L320.0 324.6 L323.3 323.3 L326.7 322.6 L330.0 321.7 L333.3 320.6 L336.7 320.0 L339.4 317.7 L341.1 314.6 L343.5 312.0 L345.6 309.2 L348.0 306.7 M348.0 180.0 L350.6 181.4 L353.2 183.0 L355.6 184.9 L358.0 186.7 L359.2 189.9 L359.6 193.4 L360.8 196.6 L361.3 200.0 L361.2 203.4 L360.1 206.6 L360.4 210.0 L359.7 213.3 L360.1 216.7 L361.3 219.9 L361.3 223.3 L358.1 224.8 L354.6 225.3 L351.3 226.7 L350.0 224.6 L348.0 223.3 M348.0 270.0 L349.5 272.3 L351.3 274.5 L353.0 276.7 L351.1 278.7 L350.0 281.3 L348.0 283.3 M348.0 308.3 L351.4 308.2 L354.6 307.4 L358.0 307.1 L361.4 307.5 L364.7 306.7 L368.1 306.1 L371.4 305.2 L374.6 303.9 L378.0 303.3 L379.7 300.4 L382.4 298.3 L383.8 295.2 L386.4 293.0 L388.0 290.0 L391.5 288.1 L394.6 285.7 L398.1 283.9 L401.3 281.7 M394.7 336.7 L392.3 338.6 L390.0 340.5 L387.2 341.7 L384.7 343.3 L383.4 347.1 L381.8 350.7 L379.7 354.0 M488.0 295.0 L487.1 297.9 L486.9 301.0 L485.4 303.7 L484.7 306.7 L483.7 309.9 L483.9 313.4 L482.5 316.6 L481.8 320.0 L481.3 323.3 L482.1 327.0 L482.2 330.8 L482.4 334.6 L483.0 338.3 L485.8 339.7 L488.8 341.0 L492.0 341.6 L494.7 343.3 L497.9 342.1 L501.3 341.5 L504.7 340.9 L508.0 340.0 L509.0 343.5 L509.6 347.0 L511.0 350.4 L511.3 354.0 M486.3 306.7 L489.2 308.1 L492.0 309.5 L495.2 310.1 L498.0 311.7 L501.5 312.4 L504.8 313.9 L507.8 315.9 L511.3 316.7 L514.0 318.1 L516.6 319.6 L519.0 321.5 L521.3 323.3 L522.6 326.6 L522.8 330.1 L524.3 333.2 L524.7 336.7 L526.9 339.1 L528.4 342.0 L531.3 343.9 L533.0 346.7 L535.8 345.5 L538.7 344.5 L541.8 344.5 L544.7 343.3 L546.4 340.0 L547.6 336.5 L550.0 333.5 L551.3 330.0 L552.5 326.4 L554.4 323.2 L556.3 320.0 L559.4 321.3 L562.0 323.6 L564.8 325.5 L568.0 326.7 L571.6 325.5 L574.6 323.2 L578.0 321.7 L581.3 320.0 L584.7 320.5 L587.9 322.0 L591.2 323.0 L594.7 323.3 L596.9 321.2 L598.8 318.5 L601.3 316.7 L601.3 320.0 L601.2 323.3 L601.4 326.7 L600.9 330.0 L601.7 333.3 L601.3 336.7 L600.9 340.2 L600.2 343.6 L599.7 347.1 L598.6 350.5 L598.0 354.0 M589.7 286.7 L591.3 289.2 L592.5 292.0 L595.0 294.0 L596.3 296.7 L595.2 300.3 L593.0 303.3 L596.2 305.3 L599.2 307.6 L602.1 309.9 L604.7 312.7 L607.9 310.5 L611.5 308.9 L614.7 306.7 L617.9 308.2 L621.3 309.1 L624.7 310.0 L627.3 312.7 L630.1 315.3 L633.1 317.6 L636.0 320.0 M160.0 354.0 L161.1 357.3 L162.8 360.5 L163.3 364.0 L164.5 366.7 L165.8 369.5 L166.7 372.3 L170.4 372.4 L174.0 372.7 L177.7 373.0 L181.3 374.2 L185.0 374.0 L184.3 370.6 L182.9 367.4 L183.0 363.9 L181.7 360.7 L183.0 357.5 L183.3 354.0 M196.7 359.0 L200.0 357.4 L203.5 356.0 L206.7 354.0 M216.7 354.0 L218.8 356.3 L220.8 358.8 L223.3 360.7 L226.9 361.9 L230.5 363.2 L234.3 363.9 L237.9 364.9 L241.7 365.7 L245.0 364.0 L246.6 367.4 L248.5 370.6 L250.5 373.8 L251.7 377.3 L253.2 379.2 L255.0 380.7 L254.6 384.0 L253.4 387.2 L253.3 390.7 L254.8 393.7 L256.6 396.5 L258.4 399.4 L260.0 402.3 L257.8 404.8 L256.2 407.6 L255.0 410.7 L253.1 412.7 L251.8 415.2 L250.0 417.3 L248.7 421.0 L248.8 424.9 L247.2 428.5 L246.7 432.3 L244.2 434.9 L241.9 437.6 L240.0 440.7 L236.3 441.0 L232.7 441.6 L229.0 441.3 L225.4 442.3 L221.7 442.3 L223.8 444.8 L225.2 447.8 L226.7 450.7 L226.1 454.0 L226.7 457.3 L226.6 460.7 L226.7 464.0 L227.9 467.2 L227.9 470.8 L228.8 474.1 L230.0 477.3 L230.5 480.7 L231.2 484.0 L231.7 487.3 L231.7 490.7 L232.6 493.9 L232.5 497.3 L233.0 500.7 L233.3 504.0 L233.2 507.9 L233.3 511.8 L232.2 515.6 L231.7 519.5 L231.5 523.4 L231.7 527.3 L230.4 530.0 L229.4 532.9 L228.3 535.7 L227.3 538.7 L226.0 541.6 L224.4 544.3 L223.3 547.3 L223.4 551.1 L223.7 554.8 L223.7 558.6 L223.3 562.3 L226.6 563.8 L229.9 564.9 L233.2 566.3 L236.5 567.6 L240.0 568.2 L243.2 569.7 L246.7 570.7 L246.8 574.0 L247.1 577.3 L246.8 580.7 L246.7 584.0 L249.8 585.7 L252.8 587.8 L255.5 590.2 L258.4 592.3 L261.7 594.0 L264.6 592.3 L267.4 590.5 L270.7 589.4 L273.3 587.3 L276.5 588.8 L279.3 590.7 L282.1 592.8 L284.6 595.2 L288.0 596.4 L290.6 598.6 L293.3 600.7 L293.3 604.1 L293.2 607.6 L293.6 611.1 L293.4 614.5 L293.3 618.0 M259.3 354.0 L260.1 357.7 L261.0 361.4 L261.5 365.2 L261.7 369.0 L264.9 370.3 L268.3 370.7 M260.0 402.3 L262.3 404.8 L265.3 406.4 L268.0 408.3 L270.6 410.4 L273.3 412.3 L276.0 414.6 L278.5 417.2 L281.2 419.5 L284.1 421.6 L286.7 424.0 L289.8 422.3 L293.5 421.9 L296.7 420.2 L300.0 419.0 L302.4 416.4 L305.7 414.7 L308.4 412.4 L310.5 409.5 L313.3 407.3 L315.4 404.2 L316.7 400.7 L318.3 397.3 L315.5 395.2 L313.3 392.3 L310.6 390.1 L308.3 387.3 L307.3 384.9 L306.7 382.3 L310.3 381.3 L313.7 379.6 L317.1 378.0 L320.3 376.0 L323.8 374.5 L327.3 373.1 L330.9 371.9 L334.0 369.6 L337.5 368.2 L340.9 366.5 L344.3 365.0 L348.0 364.0 M300.0 420.7 L299.9 424.1 L301.0 427.3 L301.6 430.6 L301.7 434.0 L305.2 433.3 L308.9 433.1 L312.5 433.4 L316.1 433.0 L319.7 432.1 L323.3 432.3 L325.2 430.8 L326.7 429.0 L327.5 431.7 L327.3 434.7 L328.3 437.3 L332.3 437.5 L336.2 437.5 L340.1 438.3 L344.1 438.2 L348.0 439.0 M301.7 434.0 L303.4 437.2 L304.8 440.5 L305.4 444.2 L307.3 447.3 L308.2 450.8 L310.0 454.0 L310.3 457.9 L312.1 461.4 L312.3 465.3 L313.3 469.0 L314.9 472.4 L317.0 475.5 L318.1 479.1 L320.4 482.1 L321.9 485.5 L323.3 489.0 L326.7 488.3 L330.1 487.6 L333.5 487.1 L336.7 485.7 L340.3 487.3 L344.2 487.9 L348.0 489.0 M231.7 490.7 L235.2 490.6 L238.8 491.1 L242.3 491.0 L245.8 492.0 L249.4 491.5 L252.9 491.4 L256.5 492.2 L260.0 492.3 L263.8 491.8 L267.6 491.7 L271.4 491.7 L275.3 491.6 L279.0 491.1 L282.8 490.4 L286.7 490.7 L289.3 488.7 L292.0 486.7 L294.9 485.0 L297.2 482.5 L300.0 480.7 L302.2 478.2 L304.5 475.9 L306.8 473.5 L309.1 471.1 L311.7 469.0 M186.0 510.7 L188.6 513.2 L190.6 516.3 L193.1 518.9 L195.2 521.9 L197.3 524.8 L200.0 527.3 L202.3 529.8 L204.4 532.3 L205.6 535.6 L207.6 538.3 L210.0 540.7 L212.6 543.4 L214.9 546.4 L218.4 548.3 L220.4 551.6 L223.3 554.0 M233.3 504.0 L236.9 505.3 L239.9 507.5 L243.5 508.6 L246.7 510.7 L250.2 512.4 L253.5 514.4 L256.8 516.4 L260.1 518.4 L263.3 520.7 L266.5 519.0 L270.0 518.1 L273.2 516.3 L276.8 515.7 L280.0 514.0 L283.7 513.9 L287.3 513.2 L291.0 512.9 L294.7 513.1 L298.3 512.3 L299.1 515.6 L300.9 518.4 L302.7 521.2 L304.1 524.1 L305.0 527.3 L307.8 529.2 L310.8 530.6 L313.5 532.8 L316.7 534.0 L316.6 537.4 L315.7 540.7 L315.0 544.0 L311.5 544.9 L307.9 544.9 L304.3 545.0 L300.8 545.7 L297.3 545.9 L293.8 547.0 L290.2 546.5 L286.7 547.3 L287.8 550.6 L288.7 553.9 L289.2 557.3 L290.3 560.6 L291.4 563.9 L291.7 567.3 L288.5 568.2 L285.9 570.4 L282.5 571.0 L279.5 572.3 L276.7 574.0 L273.1 573.3 L270.1 571.1 L266.7 570.1 L263.2 569.3 L260.0 567.8 L256.8 566.0 L253.5 564.8 L250.0 564.0 L247.9 567.1 L246.7 570.7 M316.7 534.0 L319.6 536.0 L322.0 538.7 L325.3 540.2 L327.7 543.0 L330.6 545.1 L333.3 547.3 L334.9 550.7 L336.3 554.2 L338.6 557.2 L340.0 560.7 L338.0 563.3 L335.7 565.8 L333.3 568.1 L331.5 571.1 L329.0 573.3 L326.7 575.7 L323.2 575.2 L320.0 574.1 L316.6 573.5 L313.3 572.3 L309.8 571.1 L306.1 570.9 L302.5 569.8 L299.0 568.7 L295.4 567.8 L291.7 567.3 M326.7 575.7 L326.7 579.2 L327.2 582.8 L326.5 586.4 L326.8 590.0 L327.0 593.5 L326.6 597.1 L326.7 600.7 L327.9 604.0 L328.1 607.6 L328.2 611.2 L328.8 614.6 L330.0 618.0 M326.7 587.3 L330.2 587.8 L333.8 588.4 L337.4 588.8 L340.9 589.3 L344.5 589.9 L348.0 590.7 M381.3 354.0 L383.5 357.1 L385.2 360.4 L386.8 363.8 L388.0 367.3 L391.5 368.0 L394.6 369.9 L398.0 370.7 L399.3 373.9 L399.2 377.5 L400.3 380.7 L401.3 384.0 L401.1 387.4 L400.3 390.7 L399.6 394.1 L399.0 397.4 L398.0 400.7 L396.4 404.2 L394.4 407.6 L391.7 410.5 L389.5 413.7 L388.0 417.3 L387.6 420.8 L386.1 423.9 L384.9 427.2 L384.7 430.7 L382.3 433.1 L379.5 434.9 L377.0 437.0 L373.9 438.6 L371.3 440.7 L368.5 441.9 L366.1 443.7 L364.1 446.1 L361.3 447.3 L360.6 443.9 L358.8 440.8 L358.0 437.3 L358.5 440.8 L359.7 444.0 L360.7 447.4 L362.4 450.5 L363.0 454.0 L365.1 457.1 L366.4 460.6 L368.0 464.0 L366.9 467.3 L365.5 470.5 L364.9 474.0 L364.0 477.3 L363.0 480.7 L360.1 482.7 L357.1 484.9 L354.2 487.0 L350.8 488.3 L348.0 490.7 M363.0 480.7 L366.1 482.8 L369.9 483.5 L372.9 485.8 L376.3 487.3 L376.7 490.7 L377.1 494.0 L377.4 497.4 L378.0 500.7 L378.4 504.0 L378.8 507.3 L378.7 510.7 L379.7 514.0 L378.5 517.4 L376.7 520.5 L376.2 524.1 L374.7 527.3 L377.9 528.4 L381.2 529.4 L384.8 529.4 L388.0 530.7 L390.9 532.8 L393.0 535.7 L395.3 538.3 L398.0 540.7 L401.3 539.9 L404.7 539.9 L408.0 540.0 L411.3 538.8 L414.7 539.0 L415.4 535.3 L416.3 531.6 L417.8 528.0 L419.1 524.4 L419.7 520.7 L422.5 520.2 L425.3 520.7 M374.7 527.3 L372.1 529.4 L369.8 531.6 L367.3 533.8 L364.7 535.7 L363.0 538.6 L361.3 541.5 L359.7 544.4 L358.0 547.3 L355.2 549.6 L353.2 552.5 L350.1 554.5 L348.0 557.3 M425.3 520.7 L424.7 517.3 L424.5 513.9 L424.2 510.6 L423.0 507.3 L422.9 503.9 L423.3 500.6 L424.2 497.3 L424.7 494.0 L424.5 490.6 L423.4 487.3 L422.6 484.0 L422.0 480.7 L422.8 476.9 L423.1 473.0 L423.3 469.1 L424.5 465.4 L424.6 461.5 L425.2 457.7 L426.3 454.0 L427.7 450.7 L429.0 447.4 L430.5 444.2 L431.4 440.8 L432.3 437.3 L433.8 434.1 L434.7 430.7 L437.3 429.2 L440.0 427.8 L441.9 425.3 L444.7 424.0 L448.0 424.8 L451.4 425.0 L454.6 426.2 L457.9 427.3 L461.3 427.3 L460.0 424.1 L459.6 420.5 L458.0 417.3 L456.3 415.7 L454.7 414.0 L453.8 410.7 L453.4 407.3 L453.1 403.9 L452.5 400.6 L451.3 397.3 L447.8 396.0 L444.7 394.0 L441.3 393.4 L437.9 392.6 L434.8 391.0 L431.3 390.7 L427.9 389.2 L424.7 387.3 L421.3 386.8 L418.1 385.4 L414.6 385.1 L411.3 384.0 L408.0 383.4 L404.7 384.4 L401.3 384.0 M461.3 427.3 L464.7 428.2 L468.1 428.8 L471.3 430.6 L474.6 431.7 L478.0 432.3 L480.1 435.2 L482.1 438.2 L484.7 440.7 L488.0 440.9 L491.3 441.2 L494.7 441.2 L498.0 442.2 L501.3 442.3 L504.6 443.5 L508.0 443.9 L511.4 444.5 L514.7 445.7 L516.5 448.1 L518.0 450.7 L516.8 454.0 L515.8 457.5 L513.8 460.5 L513.0 464.0 L510.8 467.2 L509.3 470.9 L506.4 473.8 L504.7 477.3 L507.7 479.2 L510.0 482.0 L513.0 484.0 L512.0 487.3 L511.7 490.6 L511.3 494.0 L510.1 497.6 L508.0 500.7 L504.6 502.2 L501.6 504.5 L497.8 505.2 L494.7 507.3 L492.6 510.0 L490.9 512.9 L488.4 515.1 L486.4 517.8 L484.7 520.7 L483.7 524.1 L482.8 527.5 L481.3 530.7 L477.9 531.3 L474.8 533.2 L471.3 533.5 L468.1 535.1 L464.7 535.7 L461.3 536.1 L458.0 536.0 L454.7 535.3 L451.3 536.0 L448.0 535.4 L444.7 535.7 L441.3 536.6 L438.0 537.7 L434.7 538.9 L431.2 539.4 L428.0 540.7 L427.8 537.3 L427.3 534.0 L426.5 530.7 L426.7 527.3 L425.2 524.1 L425.3 520.7 M461.3 417.3 L464.6 415.9 L468.1 415.5 L471.5 414.5 L474.8 413.3 L478.0 411.8 L481.3 410.7 L484.8 410.0 L488.1 408.6 L491.3 407.3 L494.6 407.9 L498.0 407.7 L501.3 408.4 L504.7 408.7 L508.0 409.0 L511.3 410.7 L514.6 412.5 L518.0 414.0 L521.4 414.7 L524.6 416.1 L528.1 416.2 L531.3 417.3 L532.2 413.7 L533.7 410.3 L534.3 406.6 L535.2 403.1 L535.6 399.4 L537.3 396.0 L538.0 392.3 L541.5 393.0 L544.8 394.2 L548.0 395.7 L548.4 398.7 L549.9 401.4 L550.1 404.5 L551.3 407.3 L554.6 408.3 L558.0 408.6 L561.3 408.6 L564.7 409.0 L567.7 408.0 L570.6 406.7 L573.5 405.5 L576.3 404.0 L580.2 403.4 L584.1 402.8 L588.0 402.3 L591.3 402.9 L594.6 403.7 L598.0 403.8 L601.3 404.0 L603.4 400.7 L606.6 398.4 L609.0 395.4 L611.3 392.3 L614.6 390.5 L618.0 389.0 L620.8 391.2 L623.7 393.3 L625.7 396.4 L628.6 398.4 L631.3 400.7 L634.0 401.9 L636.0 404.0 M483.0 409.0 L482.3 405.4 L483.0 401.7 L482.6 398.1 L482.2 394.5 L481.9 390.9 L481.3 387.3 L482.9 384.7 L483.4 381.7 L484.7 379.0 L483.9 376.1 L482.9 373.3 L481.3 370.7 L481.9 367.7 L483.5 365.0 L483.3 361.8 L484.7 359.0 L486.2 356.4 L488.0 354.0 M514.7 354.0 L516.0 357.3 L516.4 360.8 L518.0 364.0 L519.6 367.2 L520.3 370.6 L521.3 374.0 L524.0 375.1 L527.0 374.8 L529.7 375.7 L529.1 378.7 L527.0 381.0 L526.3 384.0 L528.5 386.8 L531.0 389.4 L533.1 392.2 L535.7 394.6 L538.0 397.3 M588.0 354.0 L587.8 357.4 L588.6 360.7 L588.7 364.0 L589.7 367.3 L589.7 370.7 L592.3 372.8 L595.8 373.6 L598.2 376.1 L601.3 377.3 L604.6 378.8 L607.9 380.0 L611.5 380.8 L614.7 382.3 L616.4 385.7 L618.0 389.0 M576.3 404.0 L577.4 407.7 L578.2 411.5 L578.2 415.5 L578.8 419.3 L579.9 423.1 L580.3 426.9 L581.3 430.7 L580.8 434.0 L580.4 437.3 L580.7 440.7 L580.4 444.0 L579.9 447.3 L579.7 450.7 L583.4 451.6 L587.2 451.6 L591.0 451.5 L594.7 452.3 L596.5 455.1 L599.1 457.4 L601.1 460.0 L602.4 463.2 L604.7 465.7 L608.0 465.4 L611.4 465.4 L614.7 465.4 L618.0 464.4 L621.3 464.2 L624.7 464.0 L627.7 462.7 L630.5 461.0 L633.1 458.9 L636.0 457.3 M581.3 430.7 L578.4 433.3 L575.7 436.1 L573.3 439.3 L570.1 441.7 L567.8 444.9 L564.7 447.3 L563.0 450.2 L560.2 452.3 L558.3 455.0 L556.3 457.7 L554.7 460.7 L554.3 464.0 L554.4 467.3 L554.6 470.7 L554.5 474.0 L554.1 477.3 L554.7 480.7 L555.2 484.2 L557.2 487.2 L558.4 490.5 L559.5 493.9 L560.7 497.2 L561.3 500.7 L563.5 503.7 L564.6 507.3 L566.3 510.7 L563.4 511.3 L560.4 512.1 L557.5 513.0 L554.7 514.0 L554.7 510.6 L555.9 507.4 L556.3 504.0 M604.7 465.7 L605.5 469.2 L605.3 472.9 L605.7 476.5 L605.9 480.1 L606.5 483.7 L606.3 487.3 L605.3 490.7 L604.3 494.1 L603.2 497.5 L602.0 500.8 L600.1 503.9 L598.7 507.1 L598.0 510.7 L596.0 513.1 L593.3 514.8 L591.3 517.3 L593.8 519.7 L595.2 522.8 L597.0 525.6 L599.8 527.7 L601.3 530.7 L605.2 530.7 L609.0 530.2 L612.9 530.5 L616.7 531.2 L620.6 531.2 L624.4 530.9 L628.3 530.2 L632.1 530.5 L636.0 530.7 M508.0 500.7 L510.6 502.6 L513.1 504.7 L515.6 506.8 L518.0 509.0 L521.4 509.2 L524.7 508.6 L528.0 508.4 L531.4 508.3 L534.6 507.2 L538.0 507.3 L540.3 510.1 L543.0 512.3 L545.5 514.8 L548.0 517.3 L551.0 519.8 L554.7 521.3 L558.1 523.1 L561.2 525.6 L564.7 527.3 L565.1 530.1 L565.8 532.9 L566.3 535.7 L565.1 539.4 L563.3 543.0 L563.1 547.1 L561.3 550.7 L558.2 553.0 L556.0 556.5 L553.4 559.4 L550.1 561.7 L547.2 564.3 L544.7 567.3 L541.6 569.8 L537.8 571.0 L534.7 573.4 L531.2 575.1 L528.0 577.3 L528.0 580.7 L528.0 584.0 L528.0 587.3 L524.7 586.8 L521.3 587.3 L518.0 587.3 L518.3 590.8 L519.3 594.1 L520.9 597.2 L521.3 600.7 L521.0 604.1 L520.8 607.6 L521.5 611.1 L521.2 614.5 L521.3 618.0 M566.3 510.7 L567.2 514.2 L569.1 517.3 L570.6 520.6 L572.2 523.9 L573.1 527.4 L574.7 530.7 L577.9 532.9 L581.2 535.1 L584.8 536.7 L588.0 539.0 L591.3 539.8 L594.6 539.9 L598.1 539.5 L601.3 540.4 L604.7 540.7 L606.4 543.1 L608.0 545.7 L606.6 549.2 L606.3 553.0 L604.2 556.4 L603.3 560.0 L602.7 563.8 L601.3 567.3 L601.8 570.7 L601.2 574.0 L601.7 577.3 L601.3 580.7 L599.1 583.4 L596.9 586.2 L595.0 589.3 L592.0 591.4 L590.1 594.5 L588.0 597.3 L588.0 600.9 L586.5 604.2 L585.9 607.6 L586.3 611.2 L584.7 614.5 L584.7 618.0 M428.0 540.7 L427.9 544.0 L427.0 547.3 L426.5 550.6 L426.3 554.0 L427.5 557.3 L428.8 560.5 L429.8 563.8 L429.8 567.5 L431.3 570.7 L431.9 574.6 L432.3 578.5 L433.0 582.3 L429.9 584.0 L427.1 586.2 L423.7 587.4 L420.3 588.5 L417.5 590.6 L414.3 592.1 L411.3 594.0 L410.9 597.3 L410.7 600.7 L410.6 604.1 L409.7 607.3 L411.2 611.0 L413.2 614.4 L414.7 618.0 M348.0 574.0 L350.6 576.7 L353.2 579.5 L356.4 581.6 L358.8 584.6 L361.3 587.3 L364.7 586.7 L368.0 586.0 L371.4 586.0 L374.7 585.5 L378.0 584.4 L381.3 584.0 L384.5 585.6 L387.9 586.9 L391.3 588.1 L394.5 589.8 L398.0 590.7 L400.5 588.1 L402.6 585.3 L405.5 583.2 L408.0 580.7 L410.8 578.7 L413.9 577.4 L416.7 575.7 L419.7 574.0 L422.0 572.1 L424.7 570.7 L427.4 569.3 L429.7 567.3 M348.0 600.7 L351.4 600.6 L354.6 599.3 L358.1 599.9 L361.3 599.0 L364.8 600.9 L367.8 603.5 L371.1 605.7 L374.7 607.3 L374.4 610.9 L374.1 614.4 L374.7 618.0 M293.3 618.0 L292.9 621.7 L293.2 625.3 L293.9 629.0 L292.9 632.7 L293.3 636.3 L290.7 638.7 L288.3 641.3 L289.3 644.6 L289.7 648.0 L290.0 651.3 L292.0 653.9 L293.9 656.6 L296.0 659.1 L298.3 661.3 L299.1 664.6 L299.6 668.0 L300.0 671.3 L301.8 674.0 L303.5 676.8 L305.0 679.7 L308.0 681.0 L310.3 683.4 L313.3 684.7 L312.8 688.0 L311.9 691.3 L311.7 694.7 L309.4 697.4 L306.7 699.7 L303.3 700.4 L300.0 701.3 L299.4 704.7 L297.8 707.9 L297.7 711.4 L296.7 714.7 L297.2 717.3 L298.3 719.7 M238.3 678.0 L242.0 678.2 L245.6 676.8 L249.3 676.6 L253.0 676.9 L256.7 676.3 L260.1 675.5 L263.2 673.9 L266.8 673.7 L269.9 671.8 L273.3 671.3 L276.6 670.7 L280.0 670.3 L283.3 669.6 L286.7 669.7 L290.0 668.4 L293.4 667.4 L296.7 666.0 L300.0 664.7 M293.3 636.3 L296.8 637.2 L300.0 638.5 L303.3 639.9 L306.9 640.2 L310.0 641.9 L313.3 643.0 L316.6 641.8 L320.0 641.4 L323.3 640.4 L326.7 639.7 L328.1 637.0 L328.5 634.0 L330.0 631.3 L329.9 627.9 L330.4 624.6 L331.3 621.3 L331.7 618.0 M331.7 651.3 L331.6 654.7 L332.0 658.0 L332.0 661.4 L333.2 664.6 L333.5 668.0 L333.3 671.3 L334.3 674.2 L336.1 676.7 L336.7 679.7 L340.4 679.7 L344.2 679.3 L348.0 679.7 M313.3 684.7 L316.7 684.2 L319.9 682.5 L323.3 681.9 L326.7 681.3 L330.1 681.2 L333.3 680.2 L336.7 679.7 M345.0 681.3 L344.6 684.7 L345.9 688.0 L345.2 691.4 L345.5 694.7 L346.0 698.0 M240.0 724.7 L243.3 725.9 L246.6 727.0 L250.0 728.0 L253.5 726.6 L256.7 724.8 L260.0 723.0 L263.3 723.3 L266.6 723.9 L270.0 724.5 L273.4 724.1 L276.7 724.7 L279.0 722.5 L280.8 719.9 L283.3 718.0 L286.7 717.4 L289.9 715.9 L293.5 716.0 L296.7 714.7 M260.0 778.0 L263.3 776.8 L266.8 776.4 L270.0 775.1 L273.2 773.7 L276.7 773.0 L280.0 773.5 L283.3 774.2 L286.6 774.7 L290.0 774.7 L293.7 773.8 L297.5 773.9 L301.2 773.3 L305.0 773.0 M388.0 618.0 L387.5 621.3 L387.8 624.7 L387.5 628.0 L387.9 631.3 L387.2 634.7 L387.3 638.0 L387.8 641.9 L386.5 645.8 L386.4 649.6 L386.1 653.5 L386.2 657.4 L386.3 661.3 L385.1 664.6 L384.6 668.0 L384.1 671.4 L383.4 674.8 L381.7 677.9 L381.3 681.3 L382.3 684.0 L382.0 687.0 L383.0 689.7 M348.0 663.0 L351.3 662.6 L354.6 661.7 L358.0 661.8 L361.4 661.6 L364.6 660.8 L368.0 660.7 L371.9 660.8 L375.8 660.8 L379.6 659.7 L383.5 659.7 L387.3 659.7 L390.8 659.6 L394.2 658.3 L397.7 659.0 L401.1 657.9 L404.5 657.5 L408.0 657.3 L409.7 654.2 L411.4 651.1 L413.2 647.9 L414.7 644.7 L418.1 642.8 L421.1 640.3 L424.9 639.1 L428.3 637.2 L431.3 634.7 L432.6 631.7 L434.1 628.9 L435.4 626.1 L436.3 623.0 L434.4 620.7 L433.0 618.0 M408.0 657.3 L409.1 660.8 L409.4 664.4 L409.7 668.0 L413.3 668.5 L417.0 667.6 L420.7 667.5 L424.3 667.8 L428.0 668.0 L431.4 669.1 L434.7 670.7 L438.1 671.6 L441.2 673.7 L444.7 674.7 L448.0 675.7 L451.3 676.8 L454.7 678.0 L456.8 676.3 L458.9 674.4 L461.3 673.0 L463.2 675.3 L464.7 678.0 L466.3 680.5 L468.0 683.0 L470.3 684.5 L472.4 686.4 L474.7 688.0 L475.0 684.6 L474.4 681.3 L474.3 678.0 L474.0 674.6 L473.3 671.3 L473.0 668.0 L473.1 664.6 L474.2 661.4 L474.8 658.1 L474.7 654.7 L477.8 652.6 L481.5 651.7 L484.8 650.0 L488.0 648.0 L490.7 645.6 L492.4 642.4 L494.7 639.7 L493.4 637.0 L493.0 633.9 L491.3 631.3 L488.0 630.7 L484.6 631.2 L481.4 630.1 L478.0 630.1 L474.7 629.7 L471.4 628.4 L468.1 627.5 L464.5 627.2 L461.2 626.2 L458.0 624.7 L454.9 622.9 L451.5 621.8 L448.1 620.7 L444.7 619.7 M494.7 639.7 L498.1 640.1 L501.2 641.9 L504.6 642.3 L508.0 643.0 L511.4 642.4 L514.6 641.0 L518.0 640.6 L521.3 639.7 L524.6 638.3 L527.9 636.8 L531.2 635.5 L534.7 634.7 L533.4 631.7 L531.7 628.9 L529.7 626.3 L528.6 623.7 L528.7 620.8 L528.0 618.0 M534.7 634.7 L537.9 636.7 L541.1 638.8 L544.6 640.4 L548.0 642.0 L551.3 641.6 L554.7 642.2 L558.0 641.6 L561.3 641.3 M586.3 618.0 L585.4 620.7 L586.1 623.6 L585.3 626.3 M474.7 688.0 L472.8 690.7 L470.9 693.3 L469.7 696.3 L471.7 698.9 L473.4 701.6 L474.7 704.7 L476.1 707.9 L476.7 711.5 L478.2 714.8 L479.7 718.0 L476.5 718.9 L473.8 721.0 L470.7 722.1 L467.8 723.6 L464.7 724.7 L461.4 726.0 L458.0 726.9 L454.7 728.0 L452.8 725.6 L451.1 723.2 L449.3 720.8 L448.0 718.0 L445.3 715.7 L443.3 712.7 L440.5 710.5 L438.0 708.0 L434.9 705.8 L431.5 704.3 L428.0 703.0 L425.2 701.7 L422.8 699.9 L420.4 698.1 L418.0 696.3 L414.5 695.6 L411.3 693.8 L408.1 692.4 L404.7 691.3 L403.5 694.2 L401.8 696.7 L399.4 698.7 L398.0 701.3 L395.4 702.5 L393.0 704.0 M454.7 728.0 L452.7 730.0 L449.9 730.9 L448.0 733.0 L444.7 733.8 L441.3 734.4 L438.1 736.1 L434.7 736.3 L430.8 735.9 L426.9 735.2 L423.0 734.7 L419.7 735.0 L416.3 735.3 L413.0 736.2 L409.7 736.3 L406.9 739.1 L403.7 741.5 L401.3 744.7 L400.8 748.1 L400.1 751.4 L398.7 754.6 L398.0 758.0 L397.2 761.1 L395.0 763.6 L393.7 766.5 L393.0 769.7 M454.7 728.0 L455.5 731.3 L454.9 734.7 L455.9 738.0 L456.3 741.3 L457.7 744.3 L460.2 746.6 L461.3 749.7 L462.6 752.4 L463.5 755.2 L464.7 758.0 L464.0 761.3 L463.4 764.6 L463.0 768.0 M479.7 718.0 L482.7 717.7 L485.4 716.1 L488.5 715.7 L491.3 714.7 L494.0 716.6 L496.8 718.1 L499.7 719.7 L502.7 719.0 L505.1 716.9 L507.9 715.9 L510.7 714.7 M524.7 771.3 L522.3 773.1 L519.6 774.5 L517.2 776.4 L514.7 778.0 L512.2 780.0 L510.2 782.5 L508.0 784.7 L508.2 788.0 L508.6 791.4 L508.7 794.7 L509.7 798.0 L506.9 800.2 L504.7 803.0 M236.7 913.7 L240.0 914.4 L243.3 915.4 L246.6 916.3 L250.0 917.0 L253.3 916.5 L256.7 916.7 L260.0 915.7 L263.3 915.3 M215.0 933.7 L215.3 937.6 L215.6 941.5 L216.7 945.3 L215.0 948.7 L213.5 952.1 L211.7 955.3 L212.8 958.6 L212.8 962.1 L213.8 965.4 L215.0 968.7 L213.6 971.9 L213.5 975.4 L212.4 978.7 L211.7 982.0 L211.9 985.4 L212.6 988.7 L212.5 992.1 L213.3 995.3 L210.7 997.3 L208.2 999.3 L205.8 1001.5 L203.3 1003.7 L201.8 1006.5 L199.7 1009.0 L198.3 1012.0 L196.3 1014.9 L193.9 1017.6 L191.7 1020.3 L191.9 1023.7 L192.2 1027.1 L193.3 1030.3 L196.6 1028.5 L200.0 1027.0 L203.1 1026.7 L205.8 1025.2 L208.8 1024.6 L211.7 1023.7 L215.4 1024.5 L219.2 1024.3 L222.8 1025.9 L226.7 1026.0 L229.5 1026.1 L232.2 1026.5 L235.0 1027.0 M193.3 1030.3 L194.6 1034.0 L195.0 1037.8 L195.7 1041.6 L196.7 1045.3 L193.8 1047.9 L190.5 1049.9 L187.6 1052.5 L185.0 1055.3 L184.2 1058.2 L183.2 1061.0 L181.7 1063.7 L182.8 1067.5 L182.2 1071.5 L183.3 1075.3 L182.1 1078.2 L179.5 1080.0 L178.4 1082.9 L176.7 1085.3 L176.7 1088.8 L175.8 1092.0 L175.0 1095.3 L177.8 1097.1 L180.7 1098.9 L183.2 1101.0 L185.3 1103.8 L188.3 1105.3 L187.7 1108.7 L186.7 1112.0 L189.3 1113.5 L191.8 1115.1 L194.4 1116.6 L196.7 1118.7 L196.5 1122.0 L196.3 1125.4 L196.2 1128.7 L195.3 1132.0 L195.0 1135.3 L194.1 1138.8 L193.7 1142.4 L193.3 1146.0 M196.7 1118.7 L199.8 1117.0 L203.4 1116.6 L206.7 1115.3 L208.9 1117.5 L210.9 1120.0 L213.3 1122.0 L214.5 1125.2 L214.7 1128.7 L215.5 1132.1 L216.7 1135.3 L220.2 1136.6 L223.5 1138.3 L226.7 1140.3 L230.4 1140.8 L234.1 1141.4 L237.9 1141.3 L241.7 1142.0 M241.7 1146.0 L242.7 1142.4 L243.6 1138.8 L245.7 1135.6 L246.7 1132.0 L249.9 1130.5 L253.2 1129.3 L256.7 1128.7 L257.3 1125.3 L257.9 1121.9 L258.7 1118.6 L260.0 1115.3 L262.5 1113.3 L264.8 1111.2 L266.7 1108.7 L268.0 1105.4 L268.9 1102.0 L270.0 1098.7 L272.6 1096.2 L275.3 1093.9 L277.3 1091.0 L280.0 1088.7 L282.4 1086.6 L284.1 1083.9 L286.7 1082.0 L287.3 1079.0 L289.2 1076.6 L290.0 1073.7 L288.6 1070.9 L288.7 1067.7 L287.2 1065.0 L286.7 1062.0 M246.7 1146.0 L248.6 1148.0 L249.9 1150.5 L251.7 1152.7 L251.3 1155.5 L250.6 1158.2 L250.0 1161.0 L252.5 1162.3 L254.6 1164.1 L256.7 1166.0 L257.7 1169.3 L258.0 1172.7 L259.5 1175.9 L260.0 1179.3 L256.6 1178.9 L253.4 1178.0 L250.0 1177.7 L248.7 1180.4 L248.0 1183.3 L246.7 1186.0 L247.5 1189.3 L247.2 1192.7 L247.8 1196.0 L248.3 1199.3 L249.5 1202.6 L249.7 1206.1 L251.2 1209.2 L251.7 1212.7 L251.9 1216.1 L253.4 1219.3 L254.6 1222.6 L255.0 1226.0 M260.0 1179.3 L263.6 1178.2 L266.7 1176.0 L270.0 1174.4 L273.3 1172.7 L276.6 1173.6 L279.9 1174.4 L283.3 1174.3 L283.9 1177.3 L285.1 1180.1 L285.9 1183.1 L286.7 1186.0 L287.2 1189.5 L288.8 1192.7 L290.0 1196.0 L290.7 1199.3 L291.2 1202.7 L291.5 1206.1 L292.8 1209.3 L293.3 1212.7 L294.6 1216.2 L296.3 1219.5 L298.0 1222.9 L300.0 1226.0 L301.0 1229.3 L301.3 1232.8 L302.7 1236.0 L303.3 1239.3 L305.9 1241.2 L308.0 1243.6 L310.0 1246.0 L313.3 1245.0 L316.7 1244.7 L319.9 1243.5 L323.3 1243.1 L326.7 1242.7 L329.4 1241.4 L331.5 1239.1 L334.2 1237.8 L336.7 1236.0 L339.0 1234.4 L341.4 1233.0 L343.3 1231.0 M286.7 1186.0 L290.0 1186.0 L293.3 1185.1 L296.7 1185.2 L300.0 1184.5 L303.4 1185.0 L306.7 1184.3 L310.0 1184.6 L313.3 1185.7 L316.6 1185.8 L320.0 1186.0 L323.2 1184.1 L326.7 1182.8 L329.9 1180.8 L333.3 1179.3 M286.7 1246.0 L289.4 1247.3 L291.6 1249.4 L294.3 1250.8 L296.7 1252.7 L300.1 1252.3 L303.3 1251.4 L306.7 1250.6 L310.0 1249.9 L313.3 1249.3 L311.9 1247.4 L310.0 1246.0 M313.3 1249.3 L314.3 1252.7 L315.3 1256.1 L316.7 1259.3 L318.8 1262.2 L321.7 1264.3 L323.9 1267.1 L326.7 1269.3 L326.3 1273.1 L326.4 1276.9 L324.8 1280.5 L325.0 1284.3 M398.0 1271.0 L397.8 1274.9 L396.9 1278.8 L396.3 1282.7 L398.5 1285.5 L400.5 1288.5 L403.0 1291.0 L406.4 1290.9 L409.7 1291.9 L413.1 1291.7 L416.3 1292.7 L417.9 1289.3 L419.7 1286.0 L419.9 1289.4 L420.3 1292.7 L421.3 1296.0 L424.7 1295.8 L428.0 1296.3 L431.3 1296.0 L434.7 1295.5 L438.0 1294.3 L441.5 1292.9 L444.7 1291.0 L448.1 1292.4 L451.3 1294.3 L454.7 1296.0 M403.0 1292.7 L400.8 1295.1 L399.0 1297.8 L396.7 1300.1 L394.7 1302.7 L392.1 1304.5 L390.1 1307.0 L388.0 1309.3 L388.3 1312.7 L387.9 1316.0 L388.0 1319.3 L384.6 1321.0 L381.3 1322.7 M438.0 1296.0 L437.1 1299.3 L436.6 1302.6 L436.3 1306.0 L433.3 1308.2 L429.7 1309.3 L428.6 1312.6 L429.3 1316.1 L428.7 1319.4 L427.3 1322.6 L427.3 1326.0 L429.1 1329.4 L430.9 1332.8 L433.0 1336.0 L433.8 1339.3 L435.0 1342.6 L435.3 1346.0 L436.1 1349.3 L436.3 1352.7 M146.7 349.6 L150.3 350.7 L154.0 351.6 L156.6 350.4 L159.4 349.7 L162.1 348.8 L161.7 351.8 L160.1 354.5 M139.4 318.0 L138.7 320.1 L137.8 322.1 L140.8 324.5 L144.3 326.1 L146.7 329.0 L149.1 331.8 L148.6 335.0 L148.3 338.3 L146.4 340.2 L144.3 341.9"/>
<path d="M587.7 288.3 L589.3 291.2 L591.9 293.3 L593.5 296.2 L596.0 298.3 L593.9 301.2 L591.0 303.3 L593.4 305.4 L595.2 308.0 L596.9 310.6 L599.3 312.7 L602.8 310.9 L606.1 308.8 L609.3 306.7 L612.7 307.6 L616.0 308.8 L619.3 310.0 L621.7 312.4 L624.6 314.1 L626.7 316.9 L629.1 319.1 L631.5 321.5 L634.3 323.3 L638.2 322.5 L642.0 321.6 L646.0 321.7 L648.5 323.7 L650.9 326.0 L653.5 327.9 L656.0 330.0 L655.6 333.4 L655.1 336.8 L655.0 340.3 L654.7 343.7 L655.2 347.2 L654.2 350.5 L654.3 354.0 M599.3 312.7 L599.1 316.2 L599.4 319.7 L599.7 323.1 L601.1 326.5 L601.0 330.0 L599.9 333.2 L599.3 336.6 L599.3 340.1 L598.0 343.3 L597.7 346.7 L598.6 350.3 L599.3 354.0 M656.0 320.0 L658.4 317.4 L661.3 315.3 L663.1 312.1 L666.0 310.0 M652.7 354.0 L654.1 356.6 L654.8 359.6 L656.0 362.3 L659.3 362.1 L662.7 362.2 L665.9 360.8 L669.3 360.6 L672.7 360.7 L675.9 361.5 L679.4 361.2 L682.7 361.4 L686.0 362.3 L686.9 366.2 L687.0 370.1 L687.7 374.0 L687.0 377.3 L687.6 380.7 L687.1 384.0 L686.6 387.4 L686.0 390.7 L684.7 394.2 L682.7 397.3 L684.2 400.5 L685.2 403.9 L686.0 407.3 L689.6 408.0 L693.4 407.8 L697.0 407.9 L700.7 408.8 L704.3 409.0 L707.7 410.5 L710.9 412.6 L714.3 414.0 M636.0 400.7 L637.9 403.8 L640.4 406.4 L642.2 409.5 L643.8 412.8 L646.0 415.7 L649.0 414.7 L651.7 412.9 L654.7 411.8 L657.7 410.7 L659.1 413.3 L661.3 415.5 L663.1 417.9 L664.3 420.7 L665.5 424.0 L666.7 427.3 L667.7 430.7 L670.7 432.6 L673.0 435.4 L676.0 437.3 L676.5 440.1 L676.2 442.9 L676.0 445.7 L677.8 448.8 L680.5 451.2 L682.7 454.0 M657.7 410.7 L661.4 409.3 L665.1 408.0 L668.9 406.8 L672.7 405.7 L676.0 406.4 L679.4 406.1 L682.7 406.7 L686.0 407.3 M636.0 454.0 L637.7 450.9 L638.3 447.4 L639.3 444.0 L642.9 445.2 L646.6 446.1 L650.4 446.7 L653.9 448.5 L657.7 449.0 L661.4 447.6 L665.0 446.1 L669.0 445.4 L672.7 444.0 M682.7 454.0 L679.5 456.1 L676.9 458.7 L674.3 461.5 L671.6 464.0 L669.1 466.8 L666.0 469.0 L664.2 471.9 L662.3 474.7 L660.0 477.2 L658.5 480.3 L656.7 483.2 L654.3 485.7 L653.5 489.4 L654.1 493.2 L652.6 496.9 L652.7 500.7 L655.2 502.9 L657.7 505.0 L661.0 506.2 L663.0 509.1 L666.0 510.7 L665.4 514.0 L665.3 517.4 L664.3 520.7 L661.7 523.5 L658.8 526.0 L655.2 527.8 L652.7 530.7 L649.3 530.4 L646.0 530.9 L642.7 531.0 L639.3 530.6 L636.0 531.3 M682.7 454.0 L685.9 455.2 L689.3 455.7 L692.7 456.0 L696.0 456.7 L699.3 457.3 L701.4 459.6 L702.9 462.2 L704.5 464.7 L706.0 467.3 L709.3 468.2 L712.7 468.3 L716.1 468.8 L719.3 470.4 L722.7 470.7 L721.0 474.0 L717.7 474.9 L714.3 474.1 L711.0 474.6 L707.6 474.6 L704.4 475.9 L701.0 475.7 L698.8 478.3 L697.6 481.5 L696.3 484.6 L694.3 487.3 L693.5 490.8 L692.3 494.2 L690.1 497.1 L689.3 500.7 L689.8 504.1 L691.0 507.3 L691.7 510.7 L692.7 514.0 L695.3 516.1 L698.7 517.1 L701.4 519.0 L704.3 520.7 L706.1 517.4 L707.7 514.0 L711.4 514.0 L715.2 513.7 L718.9 513.7 L722.7 514.0 L725.3 516.3 L728.3 518.4 L731.0 520.7 L730.6 516.8 L728.8 513.3 L729.0 509.3 L727.7 505.7 L729.2 502.9 L729.8 499.7 L730.9 496.7 L732.7 494.0 L734.2 491.0 L736.1 488.2 L737.5 485.2 L739.3 482.3 L741.1 479.1 L742.7 475.7 M664.3 520.7 L666.3 523.5 L667.7 526.6 L669.1 529.8 L670.9 532.7 L672.7 535.7 L675.2 537.8 L677.8 539.9 L680.6 541.7 L683.1 543.9 L686.0 545.7 L690.0 546.2 L693.9 546.9 L697.5 548.7 L701.5 549.3 L705.5 549.6 L709.3 550.7 L711.2 552.8 L712.9 554.9 L714.3 557.3 L712.6 560.6 L710.9 563.9 L709.3 567.3 L710.3 570.7 L711.2 574.1 L712.7 577.3 L714.9 579.7 L716.5 582.6 L719.0 584.8 L721.0 587.3 L721.9 590.8 L723.3 594.1 L724.7 597.3 L726.0 600.7 L725.0 604.1 L724.9 607.6 L723.4 611.0 L723.9 614.6 L722.7 618.0 M686.0 524.0 L689.7 523.5 L693.4 523.0 L697.0 521.9 L700.8 521.8 L704.3 520.7 M686.0 524.0 L686.1 527.6 L686.2 531.2 L686.9 534.8 L686.6 538.5 L687.4 542.1 L687.7 545.7 M652.7 530.7 L654.3 533.2 L656.2 535.6 L657.7 538.2 L659.3 540.7 L656.7 543.1 L653.7 545.0 L651.0 547.3 L649.8 550.6 L649.6 554.1 L648.1 557.2 L647.7 560.7 L648.7 564.0 L650.0 567.2 L650.1 570.8 L652.0 573.9 L652.7 577.3 L650.0 579.1 L648.6 582.1 L646.0 584.0 L648.2 587.2 L649.7 591.0 L651.9 594.2 L654.3 597.3 L654.7 600.8 L655.6 604.2 L656.2 607.6 L656.8 611.1 L656.6 614.6 L657.7 618.0" clip-path="url(#rightcol)"/>
</g>
<path d="M321.7 97.3 L318.3 105.0 L316.0 109.3 M687.7 97.3 L685.6 99.2 L684.3 101.7 L686.5 102.5 L688.7 103.3 L691.0 104.0 L693.9 103.9 L696.9 104.0 L699.8 103.8 L702.7 103.3 L704.7 105.3 L707.2 106.6 L709.3 108.3 L710.1 110.3 L711.8 111.5 L712.7 113.3 L711.1 115.7 L710.0 118.3 L712.2 119.1 L713.9 120.8 L716.0 121.7 L719.0 121.6 L721.8 120.5 L724.8 120.8 L727.7 120.0 L729.3 121.7 L730.8 123.6 L732.7 125.0 L734.3 127.0 L735.7 129.2 L736.7 131.7 L736.7 134.3 L735.6 136.7 L735.3 139.3 L733.5 140.6 L731.3 140.8 L729.3 141.7 L728.0 143.7 L726.2 145.2 L724.4 146.8 L722.7 148.3 L720.7 149.7 L719.3 151.7 L720.7 153.2 L721.9 154.8 L722.7 156.7 L720.8 158.3 L718.7 159.6 L716.2 160.0 L714.3 161.7 L712.9 163.6 L711.6 165.6 L710.3 167.6 L709.4 169.9 L707.7 171.7 L705.0 171.7 L702.6 172.5 L700.2 173.5 L697.7 174.0 L695.6 172.9 L693.3 172.5 L691.3 171.3 L689.3 170.0 L687.1 168.9 L684.8 167.9 L682.7 166.7 L680.6 167.7 L678.2 167.5 L676.0 168.3 L673.3 167.6 L671.0 166.0 L668.4 167.3 L665.5 167.9 L662.7 168.3 L659.9 167.9 L657.1 167.6 L654.3 167.3 L654.4 169.5 L655.2 171.4 L656.0 173.3 L657.9 174.7 L659.3 176.7 L661.0 178.3 L660.7 180.6 L660.5 182.8 L661.0 185.0 L658.7 186.6 L656.5 188.3 L654.3 190.0 L652.1 191.0 L650.4 192.8 L647.9 193.5 L646.0 195.0 L644.4 196.5 L642.5 197.8 L641.0 199.3 L643.2 200.9 L645.5 202.4 L647.7 204.0 L650.6 204.6 L653.6 204.9 L656.3 206.5 L659.3 206.7 L661.9 207.6 L664.0 209.3 L666.3 210.8 L668.9 211.6 L671.0 213.3 L672.7 214.6 L674.4 216.0 L676.0 217.3 L678.2 218.1 L680.3 219.2 L682.4 220.4 L684.3 221.7 L686.4 222.9 L688.6 224.0 L690.7 225.3 L692.7 226.7 L695.0 228.2 L697.3 229.8 L699.3 231.7 L701.5 233.2 L703.7 234.8 L705.9 236.3 L707.7 238.3 L709.7 239.6 L711.6 241.1 L713.8 242.2 L716.0 243.3 L718.7 243.7 L721.3 244.4 L724.0 244.0 L726.6 244.9 L729.3 245.0 L731.9 246.6 L734.7 247.6 L737.7 248.3 L740.6 249.1 L743.2 250.7 L746.0 251.7 L748.5 252.1 L750.7 253.7 L753.3 254.0 L753.4 256.8 L754.3 259.3 L752.2 260.6 L750.6 262.5 L748.7 264.0 L747.7 266.5 L747.0 269.0 L746.7 271.7 L747.7 273.8 L748.7 276.0 L749.3 278.3 L751.3 279.7 L752.8 281.5 L754.3 283.3 L755.9 285.6 L757.3 288.1 L759.3 290.0 L761.6 290.6 L763.8 291.2 L766.0 291.7 L767.4 293.8 L767.9 296.3 L769.3 298.3 L771.7 296.9 L773.7 294.9 L776.0 293.3 L777.7 295.0 L779.1 296.9 L781.0 298.3 L782.4 300.6 L783.9 302.8 L786.1 304.5 L787.7 306.7 L788.7 309.3 L790.6 311.5 L791.1 314.3 L792.7 316.7 L792.3 318.9 L791.7 321.1 L792.0 323.3 L793.6 325.8 L795.4 328.1 L797.7 330.0 L798.9 332.1 L800.0 334.3 L801.7 336.1 L802.7 338.3 L804.2 340.1 L806.0 341.7 M806.0 200.0 L804.0 202.2 L802.0 204.5 L800.0 206.7 L798.2 208.4 L796.6 210.4 L795.3 212.4 L793.8 214.4 L792.7 216.7 L791.7 219.1 L791.4 221.8 L790.2 224.2 L789.3 226.7 L789.5 229.3 L790.2 231.8 L791.1 234.2 L792.0 236.7 L794.2 238.7 L797.1 239.7 L799.3 241.7 L801.3 243.6 L802.2 246.4 L804.3 248.3 L805.6 250.7 L806.0 253.3 M68.3 387.3 L73.3 389.0 M68.3 407.3 L69.3 410.2 L71.0 412.7 L72.6 415.2 L74.0 417.8 L75.0 420.7 L75.5 423.3 L77.1 425.5 L77.9 428.0 L78.2 430.7 L79.7 433.0 L79.7 435.8 L81.0 438.1 L81.7 440.7 L84.5 441.1 L87.2 441.7 L90.0 442.3 L92.6 441.2 L95.4 441.3 L98.1 440.6 L100.8 440.1 L103.3 439.0 L106.0 438.6 L108.4 437.5 L110.7 436.2 L113.3 435.7 L111.2 436.8 L109.0 437.9 L107.2 439.6 L105.0 440.7 L104.0 443.3 L102.4 445.6 L101.3 448.2 L100.0 450.7 L100.9 453.1 L101.3 455.8 L102.9 458.0 L103.3 460.7 L103.3 463.2 L104.0 465.7 L105.1 468.1 L105.0 470.7 L103.6 472.7 L102.8 475.0 L101.1 476.8 L100.0 479.0 L101.6 481.1 L103.2 483.3 L104.9 485.3 L106.7 487.3 L107.8 489.5 L109.4 491.3 L110.8 493.3 L112.4 495.0 L113.3 497.3 L113.7 500.0 L113.2 502.7 L113.3 505.3 L112.9 508.0 L113.3 510.7 L113.9 513.6 L115.1 516.3 L115.9 519.1 L116.3 522.1 L117.2 524.9 L117.9 527.7 L118.3 530.7 L117.5 533.2 L116.7 535.7 L115.7 538.1 L115.0 540.7 L116.5 543.2 L117.7 546.0 L119.4 548.5 L120.4 551.3 L121.7 554.0 L121.2 556.8 L121.4 559.6 L120.5 562.3 L120.5 565.1 L120.1 567.9 L120.0 570.7 L120.4 573.5 L120.9 576.3 L121.9 579.0 L122.1 581.8 L122.7 584.6 L123.3 587.3 L125.5 588.9 L127.3 590.9 L129.6 592.3 L131.7 594.0 L134.0 595.5 L136.2 597.2 L138.3 599.0 L135.9 598.4 L133.3 598.2 L130.8 598.1 L128.3 597.3 L129.5 599.7 L130.3 602.2 L130.6 604.9 L131.7 607.3 L132.7 610.1 L134.2 612.6 L135.9 615.1 L136.7 618.0 M90.0 444.0 L91.7 454.0 L98.3 464.0 L103.3 460.7 M135.0 618.0 L136.2 620.6 L136.8 623.4 L137.8 626.1 L139.0 628.7 L140.0 631.3 L141.4 633.6 L143.2 635.6 L145.4 637.3 L146.7 639.7 L146.3 642.1 L145.5 644.4 L145.1 646.8 L144.2 649.1 L143.3 651.3 L143.4 654.0 L143.7 656.7 L144.8 659.3 L144.4 662.0 L145.0 664.7 L145.6 667.2 L147.5 669.1 L148.0 671.7 L149.1 674.0 L150.0 676.3 L150.0 679.0 L149.6 681.6 L149.6 684.2 L149.1 686.8 L148.4 689.4 L148.0 692.0 L148.3 694.7 L149.8 696.0 L151.7 696.3 L151.7 693.4 L152.7 690.5 L153.3 687.6 L153.3 684.7 L153.5 681.7 L152.9 678.8 L152.8 675.9 L153.0 673.0 L151.9 670.1 L151.6 667.2 L152.2 664.2 L151.7 661.3 L151.8 658.5 L152.3 655.7 L153.3 653.0 L154.6 654.6 L155.4 656.5 L156.7 658.0 L157.2 660.6 L157.5 663.3 L158.0 666.0 L157.9 668.7 L158.3 671.3 L159.1 673.8 L159.3 676.3 L159.9 678.8 L160.0 681.3 L161.8 683.1 L162.6 685.4 L164.0 687.3 L165.2 689.5 L166.7 691.3 L167.6 693.6 L169.6 695.2 L170.3 697.6 L172.2 699.2 L173.3 701.3 L174.1 704.3 L175.1 707.1 L176.7 709.7 L177.6 712.5 L177.4 715.5 L177.7 718.4 L178.3 721.3 L180.6 722.3 L182.8 723.5 L185.0 724.7 L185.5 726.9 L186.4 729.0 L186.7 731.3 L186.9 733.9 L187.1 736.4 L188.0 738.8 L188.3 741.3 L188.7 744.0 L190.5 746.2 L191.0 748.8 L191.7 751.3 L193.0 753.7 L193.3 756.3 L194.5 758.7 L195.0 761.3 L194.3 763.9 L193.0 766.2 L192.8 768.9 L191.7 771.3 L192.0 774.0 L193.6 776.2 L193.7 779.0 L195.0 781.3 L194.2 783.7 L192.5 785.6 L191.7 788.0 L190.2 790.4 L188.0 792.2 L186.7 794.7 L188.8 796.4 L191.1 798.0 L193.3 799.7 L191.7 801.9 L190.2 804.3 L188.3 806.3 L189.7 808.3 L191.8 809.5 L193.3 811.3 L194.4 813.6 L195.7 815.7 L196.7 818.0 L196.3 820.8 L195.6 823.6 L195.0 826.3 L195.5 828.9 L196.6 831.4 L197.8 833.7 L198.3 836.3 L196.3 837.6 L194.8 839.5 L193.3 841.3 L191.0 840.5 L188.8 839.2 L186.7 838.0 L184.5 836.2 L182.4 834.4 L180.0 833.0 L178.8 830.7 L178.4 828.2 L177.1 825.9 L175.6 823.8 L175.0 821.3 L174.1 823.5 L173.5 825.7 L173.3 828.0 L174.2 830.7 L176.0 832.9 L177.3 835.4 L178.3 838.0 L180.5 839.5 L183.0 840.6 L185.5 841.8 L187.8 843.2 L190.0 844.7 L189.3 846.9 L188.6 849.0 L188.3 851.3 L189.9 852.6 L191.6 853.7 L193.3 854.7 L195.7 853.8 L197.8 852.5 L200.0 851.3 L201.7 849.7 L203.5 848.1 L204.7 846.0 L206.7 844.7 L207.4 847.4 L207.4 850.3 L208.3 853.0 L206.2 854.8 L203.6 856.0 L201.7 858.0 L201.1 860.6 L199.6 862.9 L198.9 865.4 L198.3 868.0 L198.4 870.8 L197.7 873.6 L197.7 876.4 L197.2 879.2 L196.7 882.0 M158.3 724.7 L159.6 727.0 L160.2 729.6 L160.9 732.1 L161.7 734.7 L161.7 737.5 L162.2 740.2 L162.6 743.0 L162.3 745.8 L163.4 748.5 L163.3 751.3 L161.8 749.3 L161.5 746.7 L160.0 744.7 L159.4 742.0 L159.1 739.3 L158.5 736.6 L158.4 733.9 L157.3 731.3 L157.4 729.1 L158.1 726.9 L158.3 724.7 M163.3 771.3 L166.1 771.8 L168.9 772.2 L171.7 773.0 L173.1 775.2 L173.7 777.7 L174.5 780.1 L176.0 782.2 L176.7 784.7 L175.4 787.0 L174.6 789.5 L174.0 792.1 L173.3 794.7 L171.1 796.3 L168.9 798.0 L166.7 799.7 L166.4 797.2 L165.5 794.9 L164.3 792.8 L163.8 790.4 L163.3 788.0 L163.8 785.2 L163.4 782.4 L162.9 779.7 L162.9 776.9 L163.8 774.1 L163.3 771.3 M156.7 781.3 L161.7 783.0 L159.3 786.3 L156.7 781.3 M131.7 796.3 L134.1 796.0 L136.2 794.5 L138.7 794.6 L141.1 794.1 L143.3 793.0 L145.2 794.5 L146.5 796.5 L148.5 797.9 L150.0 799.7 L147.3 801.0 L144.5 801.9 L141.7 803.0 L139.4 803.2 L137.2 804.2 L135.0 804.7 L134.4 801.7 L132.6 799.2 L131.7 796.3 M140.0 806.3 L142.3 805.2 L144.8 804.9 L147.3 804.7 L147.7 807.2 L147.9 809.7 L148.3 812.3 L149.3 814.7 L147.4 813.9 L145.4 813.2 L143.3 813.0 L142.6 810.6 L140.8 808.7 L140.0 806.3 M168.3 848.0 L170.8 847.3 L173.3 847.0 L175.8 847.2 L178.3 847.0 L180.8 846.3 L183.3 846.3 L183.7 849.2 L183.2 852.1 L183.4 854.9 L183.8 857.8 L184.1 860.6 L183.7 863.5 L184.0 866.3 L181.5 866.4 L179.1 867.4 L176.7 868.0 L175.1 866.2 L173.0 865.0 L171.6 863.1 L170.0 861.3 L169.8 858.6 L169.1 856.0 L169.0 853.3 L168.4 850.7 L168.3 848.0 M158.3 831.3 L158.6 834.1 L159.3 836.8 L160.4 839.3 L160.7 842.1 L161.7 844.7 L161.5 847.4 L162.9 849.9 L163.0 852.6 L162.6 855.4 L163.3 858.0 L162.8 860.7 L161.5 863.2 L161.8 866.1 L160.4 868.6 L160.0 871.3 L158.2 872.2 L156.5 873.4 L155.0 874.7 L155.6 871.8 L155.4 868.8 L155.5 865.9 L155.9 863.0 L156.3 860.1 L156.6 857.2 L156.4 854.2 L156.7 851.3 L157.3 848.5 L156.8 845.6 L157.1 842.7 L157.5 839.9 L158.1 837.1 L157.7 834.2 L158.3 831.3 M138.3 844.7 L143.3 851.3 L140.0 859.7 L138.3 844.7 M119.3 641.3 L121.7 641.3 L121.0 644.0 L119.3 641.3 M129.3 663.0 L131.0 663.0 L130.7 674.7 L129.3 663.0 M122.7 758.7 L126.0 761.3 L123.3 763.0 L122.7 758.7 M121.7 778.0 L125.0 780.7 L122.7 782.0 L121.7 778.0 M105.0 823.0 L108.3 824.7 L106.0 826.7 L105.0 823.0 M105.0 838.0 L109.3 838.0 L107.3 844.7 L105.0 838.0 M88.3 844.7 L95.0 846.3 L91.7 848.7 L88.3 844.7 M150.0 651.3 L152.6 651.8 L155.0 653.0 L155.4 655.5 L156.0 658.0 L156.5 660.4 L156.6 663.0 L157.0 665.5 L157.3 668.0 L158.3 670.6 L158.9 673.2 L159.1 676.0 L159.7 678.6 L160.0 681.3 L158.5 679.5 L156.7 678.0 L156.4 675.2 L155.1 672.7 L154.3 670.1 L153.6 667.4 L153.3 664.7 L152.7 662.0 L152.3 659.3 L151.5 656.6 L151.0 653.9 L150.0 651.3 M178.3 723.0 L180.9 723.6 L183.5 723.6 L186.0 724.0 L186.8 726.8 L186.7 729.7 L184.4 729.2 L182.3 728.3 L180.0 728.0 L179.3 725.5 L178.3 723.0 M191.7 808.0 L197.3 809.7 L196.0 814.7 L191.7 808.0 M754.3 628.7 L755.8 630.9 L757.3 633.1 L757.8 635.8 L759.3 638.0 L761.5 640.0 L763.3 642.4 L765.8 644.0 L767.7 646.3 L770.2 645.7 L772.6 644.8 L775.1 644.0 L777.8 643.8 L780.0 642.3 L782.7 642.0 L785.4 642.6 L787.6 644.3 L790.4 644.8 L792.7 646.3 L795.3 647.1 L797.9 648.1 L800.6 648.8 L803.4 648.9 L806.0 649.7 M196.7 882.0 L197.5 884.7 L199.2 887.0 L200.2 889.6 L201.7 892.0 L201.1 894.5 L200.9 897.0 L200.1 899.5 L200.0 902.0 L198.4 904.3 L197.3 906.9 L196.0 909.4 L195.0 912.0 L194.0 914.4 L193.1 916.9 L192.1 919.4 L191.7 922.0 L190.0 923.7 L188.7 925.8 L187.8 928.1 L186.5 930.1 L185.0 932.0 L183.0 933.8 L181.4 936.0 L180.0 938.3 L178.3 940.3 L178.2 943.2 L177.7 946.0 L176.7 948.7 L177.3 951.3 L178.5 953.9 L178.2 956.8 L179.1 959.4 L180.0 962.0 L179.9 964.7 L180.5 967.4 L181.5 969.9 L180.9 972.7 L181.7 975.3 L181.2 978.0 L181.5 980.7 L180.8 983.4 L180.0 986.0 L180.0 988.7 L180.1 991.2 L181.0 993.6 L180.9 996.2 L181.7 998.7 L183.0 1000.8 L183.8 1003.2 L185.0 1005.3 M146.7 918.7 L149.4 917.7 L152.2 917.5 L155.0 917.0 L156.1 919.3 L157.4 921.5 L157.7 924.1 L159.0 926.4 L160.0 928.7 L160.0 931.4 L159.5 934.0 L158.8 936.6 L158.2 939.3 L158.3 942.0 L157.3 939.6 L156.7 937.0 L155.8 934.5 L155.0 932.0 L153.2 930.4 L151.9 928.5 L150.0 927.0 L148.3 925.3 L148.0 923.1 L147.6 920.8 L146.7 918.7 M127.7 921.3 L131.7 922.0 L130.7 927.0 L127.7 921.3 M173.3 915.3 L175.6 914.0 L177.4 911.9 L179.6 910.3 L181.7 908.7 L182.3 911.4 L182.5 914.3 L183.3 917.0 L181.1 917.7 L178.8 917.9 L176.7 918.7 L174.9 917.1 L173.3 915.3 M178.3 925.3 L185.0 927.0 L181.7 932.0 L178.3 925.3 M150.0 985.3 L152.2 985.6 L154.4 985.7 L156.7 985.3 L157.7 987.6 L157.6 990.1 L158.7 992.3 L159.5 994.6 L160.0 997.0 L158.9 999.6 L157.5 1002.1 L156.0 1004.6 L154.1 1006.8 L152.8 1009.3 L151.7 1012.0 L149.9 1011.4 L148.3 1010.3 L149.4 1008.0 L150.0 1005.5 L151.5 1003.4 L152.4 1001.0 L153.3 998.7 L152.3 996.1 L151.7 993.4 L151.7 990.6 L151.0 987.9 L150.0 985.3 M127.7 960.3 L132.3 960.3 L130.7 965.3 L127.7 960.3 M152.7 954.7 L156.7 955.3 L154.7 958.7 L152.7 954.7 M137.7 1015.3 L141.7 1016.0 L140.0 1019.3 L137.7 1015.3 M156.7 882.0 L159.3 882.6 L161.7 883.7 L160.9 886.5 L160.6 889.5 L160.0 892.4 L160.0 895.3 L158.1 893.9 L156.7 892.0 L156.3 889.5 L156.5 887.0 L156.4 884.5 L156.7 882.0 M188.3 905.3 L190.5 904.6 L192.7 903.9 L195.0 903.7 L195.8 906.5 L196.2 909.4 L196.0 912.4 L196.7 915.3 L194.2 916.0 L192.2 917.5 L190.0 918.7 L189.9 916.0 L189.8 913.3 L188.8 910.7 L188.7 908.0 L188.3 905.3 M318.3 1306.0 L319.3 1308.6 L320.4 1311.2 L322.2 1313.4 L323.3 1316.0 L325.1 1318.5 L326.3 1321.2 L327.8 1323.8 L328.2 1326.9 L330.0 1329.3 L330.9 1332.0 L331.7 1334.8 L333.2 1337.3 L334.0 1340.0 L335.0 1342.7 L335.7 1345.4 L336.2 1348.2 L337.2 1350.9 L337.8 1353.7 L337.9 1356.5 L338.3 1359.3 L338.1 1362.0 L338.4 1364.7 L338.3 1367.3 L338.5 1370.0 L338.3 1372.7 L339.1 1375.0 L340.2 1377.2 L339.9 1379.8 L340.7 1382.1 L341.7 1384.3 M278.3 1309.3 L281.2 1308.4 L284.2 1308.4 L287.0 1307.8 L290.0 1307.7 L292.8 1307.1 L295.6 1307.0 L298.3 1306.0 L300.3 1308.0 L301.3 1310.7 L303.3 1312.7 L301.6 1314.9 L300.3 1317.4 L298.3 1319.3 L297.1 1321.4 L295.6 1323.3 L294.5 1325.5 L293.3 1327.7 L291.0 1327.8 L288.9 1328.9 L286.7 1329.3 L285.5 1326.9 L285.1 1324.3 L284.0 1321.9 L283.3 1319.3 L282.1 1316.8 L280.9 1314.3 L279.9 1311.7 L278.3 1309.3 M488.0 1326.0 L490.8 1326.5 L493.6 1326.1 L496.3 1326.0 L499.1 1326.4 L501.8 1327.6 L504.7 1327.7 L507.0 1329.2 L509.4 1330.6 L511.3 1332.7 L512.3 1334.9 L513.9 1336.7 L515.3 1338.7 L516.8 1340.6 L518.0 1342.7 L518.9 1345.0 L521.0 1346.4 L521.6 1348.9 L523.7 1350.4 L524.7 1352.7 L526.6 1354.7 L528.5 1356.8 L530.4 1358.9 L532.5 1360.8 L534.7 1362.7 L536.6 1364.7 L538.8 1366.5 L540.4 1368.9 L542.4 1370.9 L544.7 1372.7 L547.0 1373.9 L548.8 1375.9 L550.3 1378.1 L552.9 1379.1 L554.7 1381.0 L557.3 1382.0 L559.9 1383.1 L562.1 1385.0 L564.7 1386.0 M542.0 1351.0 L545.3 1352.0 L544.0 1354.3 L542.0 1351.0 M565.3 1362.0 L568.7 1362.7 L567.3 1366.7 L565.3 1362.0 M570.7 1375.3 L572.7 1376.0 L571.3 1377.7 L570.7 1375.3 M558.3 848.8 L559.3 850.9 L560.6 852.8 L561.0 855.2 L562.5 857.1 L564.7 856.3 L566.7 855.1 L568.9 854.2 L570.8 852.9 L570.2 855.5 L569.6 858.1 L569.4 860.7 L568.8 863.3 L569.8 865.7 L571.1 867.8 L573.0 869.5 L574.3 871.6 L575.6 873.8 L577.1 875.8 L575.7 877.8 L574.5 880.0 L573.3 882.0 L571.8 884.0 L570.8 886.2 L569.1 888.1 L568.4 890.7 L566.7 892.5 L566.0 889.7 L564.9 887.0 L564.6 884.2 L565.5 882.2 L566.4 880.1 L566.7 877.9 M570.8 886.2 L571.5 888.3 L572.0 890.5 L572.9 892.5 L573.0 895.1 L573.7 897.5 L574.7 899.9 L574.4 902.5 L575.0 905.0 L574.4 907.8 L574.2 910.5 L573.7 913.3 L573.2 916.1 L573.5 918.9 L572.9 921.7 L575.7 922.2 L578.2 923.5 L580.8 924.6 L583.3 925.8 L586.1 925.2 L588.8 924.7 L591.7 925.1 L594.4 924.3 L597.2 923.9 L600.0 923.8 L600.8 921.1 L601.6 918.5 L601.6 915.7 L602.1 913.0 L603.4 910.4 L603.8 907.7 L604.2 905.0 L606.1 903.4 L608.2 902.1 L610.4 900.8 L613.1 901.6 L615.5 903.2 L618.4 903.5 L620.8 905.0 L621.8 907.7 L622.4 910.4 L623.4 913.1 L624.3 915.7 L624.9 918.5 L626.7 920.9 L627.1 923.8 L625.9 926.1 L625.6 928.8 L624.2 931.1 L623.4 933.6 L622.9 936.2 L620.1 936.8 L617.9 938.8 L615.2 939.5 L612.5 940.4 L611.0 942.5 L609.9 944.7 L608.3 946.7 L610.4 948.7 L612.3 951.0 L614.6 952.9 L616.7 955.0 L619.3 954.7 L621.9 955.1 L624.5 955.1 L627.1 955.0 L629.0 953.1 L631.3 951.6 L633.5 950.0 L635.7 948.4 L637.2 946.0 L639.6 944.6 L640.3 946.8 L641.7 948.8 L644.2 949.2 L646.6 950.3 L649.2 950.3 L651.6 951.3 L654.2 951.7 L656.7 951.5 L659.2 952.1 L661.7 952.3 L664.2 952.8 L666.7 952.9 L669.4 952.0 L672.3 951.8 L675.0 950.8 L676.7 952.8 L678.5 954.7 L680.1 956.8 L681.2 959.2 L683.8 960.3 L686.4 961.3 L689.1 962.3 L691.7 963.3 L693.5 961.0 L696.2 959.5 L697.8 957.0 L700.0 955.0 L702.8 954.9 L705.6 955.2 L708.3 954.9 L711.1 955.5 L713.9 954.6 L716.7 955.0 L719.1 954.1 L721.5 952.8 L724.1 952.3 L726.8 951.9 L729.2 950.8 L731.2 949.0 L733.7 947.7 L735.1 945.1 L737.2 943.3 L739.4 941.7 L741.6 940.1 L743.8 938.3 L744.9 935.7 L745.2 932.8 L745.8 930.0 L744.0 928.2 L742.9 925.9 L741.7 923.8 L743.8 922.4 L745.9 921.1 L747.9 919.6 L750.5 920.3 L752.9 921.5 L755.1 923.0 L757.8 923.5 L760.0 924.9 L762.5 925.8 L764.3 923.9 L766.7 922.7 L768.4 920.7 L770.8 919.6 L773.2 918.3 L775.8 917.8 L778.3 917.0 L780.7 915.8 L783.3 915.4 L786.2 915.2 L789.0 914.6 L792.0 914.9 L794.8 914.1 L797.7 914.3 L800.6 914.2 L803.4 913.9 L806.2 913.3 M691.7 963.3 L692.6 965.7 L694.7 967.3 L695.8 969.6 L697.5 972.1 L699.8 974.0 L702.1 975.8 L702.9 978.4 L703.2 981.0 L704.1 983.6 L704.2 986.2 L706.1 984.9 L708.5 984.5 L710.2 982.8 L712.5 982.1 L714.7 982.8 L716.7 984.1 L718.6 985.5 L720.8 986.2 L723.5 987.2 L725.6 989.2 L728.2 990.2 L730.7 991.6 L733.3 992.5 L735.5 994.1 L737.5 995.9 L739.7 997.4 L741.5 999.4 L743.8 1000.8 L744.4 1003.5 L744.8 1006.2 L746.4 1008.5 L746.7 1011.2 L744.3 1009.8 L742.2 1008.0 L739.6 1007.1 L737.6 1008.8 L735.1 1009.8 L733.5 1012.0 L731.2 1013.3 L730.0 1016.0 L729.5 1019.0 L728.0 1021.6 L727.4 1024.5 L725.8 1027.1 L725.0 1030.0 L724.2 1032.9 L724.9 1036.0 L723.9 1038.9 L723.5 1041.9 L724.0 1044.9 L723.7 1047.9 L722.9 1050.8 L723.2 1053.8 L722.1 1056.8 L722.6 1059.8 L722.1 1062.7 L722.4 1065.7 L722.3 1068.7 L721.7 1071.7 L721.8 1074.5 L721.5 1077.2 L721.4 1080.0 L720.8 1082.8 L721.1 1085.6 L720.8 1088.3 L721.2 1091.1 L720.6 1093.9 L720.0 1096.6 L720.6 1099.5 L719.6 1102.2 L720.0 1105.0 L722.9 1104.9 L725.7 1104.5 L728.5 1103.8 L731.2 1102.9 L731.0 1105.8 L730.4 1108.6 L729.2 1111.2 L727.3 1112.9 L724.8 1113.7 L723.1 1115.6 L721.1 1117.2 L718.6 1118.0 L716.7 1119.6 L719.3 1120.5 L721.7 1122.1 L724.6 1122.4 L727.1 1123.8 L729.6 1123.4 L732.0 1122.4 L734.4 1121.7 L736.8 1121.0 L739.2 1120.0 L741.7 1119.6 L743.8 1118.3 L746.1 1117.2 L747.7 1115.1 L750.1 1114.2 L751.8 1112.2 L754.2 1111.2 L756.3 1109.6 L758.3 1107.7 L760.1 1105.6 L762.4 1104.2 L764.7 1102.8 L766.7 1100.8 L768.5 1098.7 L769.6 1096.0 L770.4 1093.3 L772.0 1091.0 L773.5 1088.6 L775.0 1086.2 L777.0 1084.1 L778.9 1081.8 L781.5 1080.2 L783.0 1077.6 L785.1 1075.5 L787.5 1073.8 L790.3 1073.3 L792.8 1071.8 L795.6 1071.2 L798.2 1070.0 L800.8 1069.1 L803.4 1068.0 L806.2 1067.5 M637.5 969.6 L639.9 968.2 L642.4 966.9 L645.1 966.0 L647.7 965.0 L650.0 963.3 L651.9 965.1 L654.0 966.6 L656.5 967.7 L658.3 969.6 L658.0 972.5 L657.3 975.4 L657.2 978.4 L656.2 981.2 L656.2 984.2 L655.5 987.0 L655.4 990.0 L655.8 992.9 L654.9 995.8 L655.0 998.8 L654.2 996.2 L653.0 993.7 L652.8 990.9 L652.1 988.3 L650.7 985.9 L649.4 983.4 L648.0 981.0 L647.4 978.2 L645.8 975.8 L644.0 974.0 L641.3 973.1 L639.5 971.3 L637.5 969.6 M583.3 935.0 L585.4 935.4 L587.6 935.3 L589.6 936.2 L590.5 938.6 L591.2 941.0 L591.5 943.6 L592.5 945.9 L592.7 948.5 L593.8 950.8 L592.0 948.7 L589.9 946.9 L588.3 944.6 L586.7 942.4 L585.4 940.0 L584.5 937.4 L583.3 935.0 M561.7 966.7 L564.2 967.5 L562.5 969.2 L561.7 966.7 M576.7 972.9 L579.2 974.2 L578.3 976.7 L576.7 972.9 M556.2 1007.1 L560.8 1007.9 L558.3 1009.2 L556.2 1007.1 M606.2 1059.2 L610.8 1058.3 L609.2 1061.7 L606.2 1059.2 M681.7 1025.8 L683.8 1026.7 L682.9 1030.0 L681.7 1025.8 M704.2 1015.8 L708.3 1015.8 L706.7 1018.3 L704.2 1015.8 M697.9 996.7 L700.4 997.1 L699.2 999.2 L697.9 996.7 M719.6 1134.2 L723.3 1135.0 L721.7 1137.1 L719.6 1134.2" fill="none" stroke="#222" stroke-width="0.8" stroke-linejoin="round"/>
<path d="M132.7 354.0 L130.7 352.0 L129.1 349.3 L126.7 346.7 L124.3 344.5 L121.3 342.7 L119.3 340.0 L117.2 337.5 L115.9 334.8 L114.6 331.0 L113.3 328.3 L111.8 326.0 L111.1 322.3 L110.0 320.0 L111.0 317.7 L112.3 315.7 L112.7 312.7 L112.0 310.1 L109.9 308.1 L108.7 304.9 L107.4 302.7 L106.7 300.0 L105.7 297.5 L104.4 295.3 L102.4 293.0 L101.7 290.0 L99.6 288.5 L97.0 287.5 L95.0 286.0 L93.6 283.1 L92.4 279.4 L90.7 276.7 L88.4 274.0 L86.7 270.8 L85.0 268.3 L83.7 265.5 L81.7 262.7 L83.3 264.0 L86.4 264.2 L88.3 265.0 L91.8 265.3 L95.0 266.7 L98.3 265.1 L101.8 265.3 L105.0 264.0 L107.9 263.6 L111.0 262.2 L113.8 261.1 L116.7 260.0 L117.0 256.2 L116.3 253.2 L115.5 249.9 L116.0 246.7 L115.6 242.9 L115.4 240.1 L114.3 236.7 L111.9 234.7 L110.0 232.7 L110.4 229.3 L111.6 226.6 L113.3 223.3 L114.9 220.4 L116.6 218.5 L119.2 216.0 L121.0 214.0 L120.0 211.0 L120.2 207.5 L120.2 204.4 L119.3 201.7 L120.4 198.7 L122.1 195.4 L124.1 193.5 L125.0 190.0 L124.4 187.6 L124.3 184.7 L124.6 182.2 L124.3 179.3 L127.0 177.3 L130.3 176.3 L133.8 175.7 L136.4 173.7 L139.3 172.3 L139.9 169.8 L140.6 166.3 L140.9 163.3 L140.5 160.7 L141.0 157.7 L143.8 158.2 L145.8 158.9 L148.3 160.7 L150.6 161.6 L152.6 163.2 L155.2 164.4 L157.3 166.7 L160.4 166.0 L164.1 165.7 L166.7 166.5 L170.1 165.9 L173.1 165.9 L176.7 166.0 L180.6 165.5 L183.3 164.2 L186.2 162.9 L189.7 162.4 L193.3 161.7 L196.2 161.2 L199.5 158.9 L202.0 158.8 L204.9 157.9 L208.3 156.7 L211.5 158.1 L213.8 159.7 L216.6 160.0 L219.3 161.7 L220.4 158.7 L222.3 156.5 L223.2 154.3 L225.0 151.7 L225.7 148.3 L225.9 145.4 L226.1 142.5 L225.4 139.6 L226.0 136.7 L228.0 135.1 L230.4 132.9 L233.4 131.3 L236.0 130.0 L238.9 131.3 L242.6 132.1 L245.1 132.6 L248.4 132.2 L251.7 133.3 L254.2 132.3 L257.8 132.1 L260.4 131.8 L263.4 130.8 L266.0 130.0 L267.5 127.3 L270.4 125.8 L271.7 123.3 L270.5 120.2 L268.1 117.3 L266.7 114.2 L266.2 111.1 L264.0 108.3 L267.6 109.1 L270.0 110.3 L273.3 110.2 L276.7 111.7 L279.9 111.2 L282.3 109.2 L285.4 109.5 L287.7 107.7 L290.0 106.6 L293.3 106.0 L295.6 104.7 L297.0 102.4 L298.3 101.0 L301.7 101.1 L304.0 101.9 L307.3 101.7 L309.4 103.1 L311.5 105.1 L313.3 106.9 L315.0 109.0 L316.8 111.7 L317.4 114.0 L318.3 116.7 L321.5 116.2 L324.2 115.4 L326.7 115.0 L328.0 112.4 L329.2 110.3 L330.7 107.3 L333.3 107.0 L336.7 106.1 L339.3 106.7 L341.5 109.3 L342.5 112.6 L344.8 115.1 L346.3 118.4 L348.0 121.0 L348.0 121.0 L351.4 121.8 L354.2 123.2 L357.3 125.0 L356.6 128.1 L356.5 131.5 L355.7 134.3 L355.8 137.5 L355.6 140.8 L355.4 143.8 L355.0 147.3 L354.7 150.0 L352.0 150.7 L350.2 151.1 L348.0 152.7 L345.7 155.8 L344.0 158.3 L344.1 161.0 L345.9 164.0 L346.6 166.7 L346.7 170.0 L348.0 171.6 L348.0 173.3 L348.0 173.3 L348.6 176.6 L350.3 178.9 L350.7 181.7 L353.1 181.2 L356.6 180.4 L358.9 178.6 L361.3 178.3 L364.3 179.0 L367.3 180.8 L370.2 180.3 L373.0 181.7 L375.2 179.8 L377.2 177.4 L379.9 176.2 L382.3 173.8 L384.7 171.7 L387.5 170.9 L390.7 171.9 L394.1 171.0 L397.1 172.1 L399.7 171.7 L402.2 172.1 L405.2 173.3 L407.0 174.5 L409.7 176.0 L412.8 175.9 L415.0 176.5 L418.0 176.0 L418.8 179.3 L418.4 182.2 L418.7 185.0 L417.5 186.9 L414.8 188.1 L413.0 190.0 L414.4 193.2 L414.2 196.3 L415.7 199.2 L416.4 202.2 L416.3 205.0 L417.2 207.8 L418.0 211.2 L419.1 213.3 L419.7 216.7 L421.2 218.7 L423.3 220.5 L424.7 223.3 L423.7 226.0 L421.7 228.3 L419.4 230.5 L418.0 233.3 L418.2 236.4 L418.5 239.6 L418.9 242.9 L418.7 246.7 L417.3 249.1 L417.1 251.8 L415.2 253.6 L414.7 256.7 L413.0 258.9 L412.0 261.9 L411.1 264.2 L409.7 266.7 L407.1 268.9 L405.5 271.2 L403.1 272.8 L401.3 275.0 L402.5 277.0 L404.0 278.8 L404.7 281.7 L407.6 282.0 L409.7 283.3 L409.3 286.5 L408.6 290.4 L407.3 293.3 L407.4 296.9 L408.8 299.7 L409.4 303.2 L409.7 306.7 L408.5 309.4 L406.4 312.2 L404.1 313.8 L403.0 316.7 L401.4 319.5 L400.0 321.2 L398.0 323.3 L397.9 326.7 L396.4 330.0 L395.9 333.4 L394.7 336.7 L395.4 339.4 L395.3 342.4 L395.4 345.0 L394.7 348.3 L396.4 350.5 L398.0 353.3 L401.3 354.0 L404.3 355.8 L407.3 357.3 L409.4 355.8 L410.7 354.0 L411.3 354.0 L414.2 351.5 L415.9 349.0 L418.8 347.3 L421.2 344.2 L423.0 340.9 L426.1 339.5 L428.0 336.7 L430.9 335.3 L432.7 333.1 L435.8 331.8 L438.5 330.7 L440.9 328.8 L443.0 327.3 L445.8 325.2 L447.4 322.9 L450.0 320.3 L452.8 317.8 L455.6 316.2 L458.0 314.0 L459.9 311.5 L461.1 309.5 L463.0 306.7 L466.7 306.2 L469.7 305.0 L472.7 304.5 L476.3 303.3 L478.9 301.4 L480.7 298.3 L483.9 296.8 L486.3 294.0 L490.1 294.4 L493.0 294.0 L494.6 296.5 L496.5 299.2 L498.0 301.7 L500.6 303.4 L502.9 304.4 L506.0 305.1 L508.3 307.2 L511.3 308.3 L513.4 309.3 L516.4 309.8 L518.9 311.9 L521.3 312.7 L524.0 313.2 L527.1 313.4 L529.7 313.6 L533.0 314.0 L533.2 316.6 L534.2 319.9 L536.3 321.7 L536.1 325.2 L537.3 327.3 L539.6 325.0 L542.2 321.9 L544.7 320.0 L547.4 317.9 L550.3 316.2 L553.5 315.8 L556.3 313.3 L559.8 313.0 L563.3 312.2 L566.6 310.4 L569.7 310.0 L570.7 307.5 L571.5 303.9 L573.3 301.4 L574.7 298.3 L575.8 295.9 L578.0 293.4 L579.2 291.0 L581.3 289.3 L583.6 289.0 L586.6 288.1 L588.7 286.7 L589.6 284.1 L589.1 281.2 L589.7 278.3 L593.0 277.7 L595.4 275.7 L597.9 274.4 L601.3 273.3 L605.1 273.7 L608.5 274.8 L611.2 275.4 L614.7 276.7 L616.9 277.8 L620.1 279.2 L622.2 281.1 L624.7 281.7 L627.9 282.1 L630.3 282.8 L632.7 282.7 L636.0 282.7 L637.7 284.0 L640.6 284.2 L643.7 284.0 L646.0 283.2 L649.3 283.3 L650.3 285.6 L652.6 287.4 L654.7 289.6 L656.0 291.7 L656.9 294.8 L659.0 297.5 L660.9 300.4 L662.7 303.3 L664.5 304.9 L666.6 307.5 L667.5 309.4 L669.3 311.7 L670.7 315.3 L672.6 317.2 L674.6 319.9 L676.0 323.3 L677.9 324.6 L680.2 326.2 L682.5 328.6 L684.3 330.0 L686.1 332.7 L688.6 334.9 L690.6 337.3 L692.7 340.0 L695.2 341.0 L696.7 343.7 L699.8 345.1 L701.5 347.0 L704.3 348.3 L707.1 349.6 L709.9 351.5 L712.7 353.3 L714.3 354.0 L715.6 357.1 L717.0 359.0 L720.0 361.3 L721.0 364.0 L720.7 367.4 L721.3 370.2 L721.9 374.4 L722.0 377.3 L720.6 380.2 L719.7 382.2 L720.1 385.2 L718.5 388.1 L717.7 390.7 L716.1 393.1 L715.7 395.8 L715.2 398.2 L714.3 400.7 L715.5 404.2 L715.6 407.7 L715.3 410.5 L716.0 414.0 L716.6 417.1 L715.8 420.8 L716.6 423.6 L716.0 427.3 L716.8 430.7 L717.8 433.7 L718.2 436.9 L719.3 440.7 L721.6 442.9 L723.1 446.2 L725.1 448.5 L727.7 450.7 L729.9 452.7 L731.4 456.3 L733.9 457.7 L736.0 460.7 L737.1 463.8 L738.0 466.4 L738.9 470.1 L740.3 472.1 L741.0 475.7 L744.0 476.3 L746.7 477.6 L750.1 478.8 L752.7 479.1 L756.0 480.0 L758.8 481.1 L761.8 481.2 L765.5 480.8 L768.7 481.3 L771.0 481.9 L774.3 482.3 L773.1 485.0 L771.0 487.3 L768.0 489.0 L766.0 490.7 L767.7 492.8 L769.1 495.9 L770.1 497.6 L771.0 500.7 L774.0 501.7 L776.5 504.7 L779.3 505.7 L783.1 506.6 L785.7 507.4 L789.3 507.3 L790.7 510.1 L790.5 512.1 L791.6 514.8 L792.7 517.3 L792.1 520.6 L791.6 523.7 L790.5 527.3 L789.3 530.7 L787.0 532.0 L784.9 534.2 L783.0 537.3 L781.0 539.0 L782.9 541.0 L785.8 541.8 L787.7 544.0 L786.4 546.9 L785.6 549.1 L783.6 550.9 L782.7 554.0 L783.7 557.1 L783.8 559.5 L785.7 562.2 L786.0 565.7 L787.0 568.1 L789.3 570.6 L791.0 572.3 L789.6 575.2 L787.0 577.9 L786.2 581.4 L784.3 584.0 L784.2 587.2 L784.2 591.0 L782.4 594.0 L782.7 597.3 L782.5 600.4 L784.2 603.9 L784.3 607.3 L782.7 610.2 L782.9 612.5 L781.9 615.4 L781.0 618.0 L777.7 618.0 L775.0 619.0 L772.7 621.3 L769.8 622.0 L767.3 623.0 L765.3 624.1 L762.7 625.3 L759.5 626.5 L756.3 626.6 L752.7 628.0 L751.9 630.6 L751.0 632.3 L749.3 634.7 L747.1 636.6 L744.3 637.3 L742.2 635.2 L741.2 632.6 L739.3 631.3 L738.5 629.0 L737.6 625.9 L737.7 623.0 L735.0 621.9 L732.1 621.8 L729.3 620.7 L725.8 620.5 L722.4 620.3 L719.7 620.4 L716.0 620.7 L712.7 621.1 L709.4 622.5 L706.2 623.2 L702.7 624.7 L699.6 625.0 L695.7 625.2 L692.8 624.5 L689.3 624.7 L685.5 624.4 L682.9 624.0 L679.2 623.2 L676.4 622.6 L672.7 623.0 L669.1 623.8 L665.5 623.9 L663.0 625.6 L659.7 626.2 L656.0 626.3 L652.6 625.6 L649.4 625.7 L646.0 625.8 L642.7 626.3 L639.0 626.0 L636.5 624.4 L632.6 624.2 L629.4 624.1 L626.0 623.0 L624.1 621.9 L622.7 619.7 L619.3 620.6 L616.2 620.6 L612.9 622.1 L609.3 622.0 L606.2 622.2 L603.0 623.3 L599.2 623.2 L596.5 624.7 L592.7 624.7 L589.3 625.8 L586.3 626.4 L582.6 628.2 L579.6 628.7 L576.0 629.7 L573.2 632.4 L570.8 634.4 L568.0 636.3 L566.1 638.1 L563.1 639.5 L562.1 641.3 L559.7 643.0 L558.6 645.6 L558.6 649.4 L557.2 652.1 L556.3 654.7 L554.1 657.5 L552.4 659.5 L550.6 662.7 L548.0 664.7 L546.0 667.4 L545.1 670.1 L543.2 672.3 L541.3 674.7 L539.8 677.0 L536.9 679.1 L535.5 681.3 L533.0 683.0 L530.7 685.3 L530.2 687.4 L528.0 689.7 L524.7 690.2 L523.1 691.5 L519.9 692.0 L517.0 693.1 L514.7 694.7 L512.6 695.8 L510.7 698.0 L510.3 701.1 L511.0 705.0 L510.5 707.7 L511.5 711.2 L511.2 714.6 L511.3 718.0 L512.8 720.3 L513.1 723.8 L515.0 725.8 L514.8 728.4 L516.3 731.3 L517.1 733.9 L518.9 736.8 L520.1 739.3 L521.8 742.0 L523.0 744.7 L523.5 748.1 L523.9 751.3 L525.0 754.7 L524.7 758.0 L524.7 761.1 L524.3 764.9 L524.7 767.7 L524.7 771.3 L527.2 772.8 L530.5 774.2 L533.0 776.3 L535.4 777.5 L536.8 779.4 L538.8 781.3 L541.3 783.0 L542.8 785.9 L544.4 787.7 L546.3 790.4 L548.0 793.0 L547.2 795.6 L547.1 799.2 L547.1 802.0 L547.3 804.7 L547.0 808.5 L545.9 811.7 L544.8 814.2 L544.7 818.0 L545.2 821.8 L546.9 824.4 L546.7 827.8 L548.0 831.3 L548.6 833.9 L549.9 836.3 L551.9 839.2 L553.0 841.3 L554.5 843.4 L555.4 846.2 L557.2 848.3 L558.0 851.3 L559.4 854.9 L559.5 858.4 L561.0 861.5 L561.3 864.7 L559.5 861.9 L558.7 858.7 L557.9 856.0 L557.2 853.1 L555.7 850.3 L554.7 848.0 L552.7 845.4 L552.4 843.0 L551.4 840.5 L549.7 838.0 L549.5 835.2 L547.7 832.8 L547.2 830.8 L546.3 828.0 L545.7 825.7 L544.7 823.0 L543.1 820.0 L542.0 818.0 L540.7 815.6 L539.3 814.1 L538.0 811.3 L536.0 812.5 L533.1 812.3 L530.7 813.0 L530.3 816.7 L530.6 819.5 L529.7 823.0 L528.5 821.5 L525.9 820.3 L524.7 818.0 L522.1 817.8 L519.5 816.7 L517.5 815.5 L514.7 814.7 L512.3 813.3 L509.1 812.5 L507.3 811.4 L504.7 809.7 L502.4 807.7 L501.6 804.7 L499.7 803.0 L497.6 801.2 L494.9 799.3 L493.6 796.8 L491.3 794.7 L489.3 792.3 L487.2 789.6 L484.7 788.0 L481.4 786.5 L478.7 785.2 L476.3 783.0 L474.3 781.2 L471.5 779.1 L469.5 777.2 L468.0 774.7 L466.4 772.7 L463.2 771.6 L461.3 769.7 L457.9 769.7 L455.0 769.2 L451.3 769.7 L449.1 770.7 L446.2 772.1 L443.5 771.8 L441.3 773.0 L437.8 774.3 L434.6 773.7 L431.3 774.7 L428.1 773.8 L425.0 774.1 L421.7 773.5 L417.7 772.7 L414.7 772.0 L411.1 771.3 L408.2 771.0 L404.7 770.9 L401.3 770.7 L398.6 770.8 L396.0 772.2 L393.4 771.7 L390.7 773.0 L389.6 770.3 L386.9 767.8 L385.3 764.7 L386.6 761.9 L387.3 759.9 L388.3 757.5 L388.7 754.7 L387.8 751.0 L387.9 747.8 L387.3 744.7 L388.5 741.0 L388.9 737.7 L389.7 734.7 L389.4 731.0 L388.4 727.8 L388.0 724.7 L388.9 721.9 L389.3 718.6 L390.0 715.4 L391.3 713.0 L391.3 710.3 L391.9 706.5 L393.0 704.0 L390.3 703.2 L387.3 702.6 L384.2 700.4 L381.3 699.7 L377.8 698.9 L374.5 699.5 L371.0 698.6 L368.0 698.0 L364.4 696.6 L360.8 696.8 L358.0 695.3 L354.1 695.7 L351.7 697.6 L348.0 698.0 L348.0 698.0 L345.5 699.2 L341.5 699.0 L338.5 700.0 L336.0 700.6 L333.3 702.1 L329.9 701.8 L326.7 703.0 L323.9 704.5 L321.3 706.1 L317.9 707.1 L315.0 708.0 L312.5 709.8 L309.1 710.7 L306.7 713.0 L305.3 715.4 L305.0 718.0 L307.2 719.7 L308.6 722.6 L310.0 724.7 L312.0 727.5 L313.2 730.0 L315.0 733.0 L315.2 736.1 L316.7 739.7 L315.1 742.1 L315.0 745.5 L312.4 748.7 L311.7 751.3 L311.6 754.8 L309.9 758.3 L309.6 761.4 L308.3 764.7 L308.1 768.3 L307.8 771.8 L307.4 774.5 L306.7 778.0 L306.4 781.3 L307.3 784.8 L306.7 788.0 L308.0 791.0 L307.8 794.2 L308.5 796.7 L309.3 799.7 L309.5 802.5 L308.7 805.1 L308.8 808.0 L309.3 811.3 L308.4 813.6 L305.9 815.5 L305.0 818.0 L303.3 820.5 L302.0 822.4 L299.8 824.4 L298.3 826.3 L296.3 829.0 L295.3 831.9 L293.3 834.7 L293.2 838.4 L291.9 841.5 L291.7 844.7 L291.3 848.1 L290.0 851.3 L288.3 853.9 L287.9 856.9 L285.6 858.9 L285.2 862.0 L283.3 864.7 L281.2 867.3 L280.6 869.7 L278.7 872.2 L276.7 874.7 L275.7 876.8 L274.8 879.4 L273.3 882.0 L273.3 882.0 L272.0 885.4 L272.7 889.2 L271.7 892.0 L273.1 895.1 L273.3 898.7 L270.9 900.7 L269.8 902.9 L268.3 905.3 L267.9 908.1 L267.3 910.3 L266.1 912.5 L265.0 915.3 L265.2 918.4 L264.7 920.9 L265.0 923.7 L263.2 926.3 L262.1 929.6 L260.0 932.0 L258.3 935.0 L256.2 937.2 L255.0 940.3 L252.5 942.6 L250.8 944.7 L248.3 947.0 L246.2 949.9 L244.6 952.5 L243.3 955.3 L242.2 958.7 L242.0 961.9 L241.7 965.3 L240.1 967.3 L238.8 969.0 L236.7 970.3 L236.2 973.3 L236.5 975.7 L236.7 978.7 L238.4 980.2 L239.8 982.1 L241.7 983.7 L240.5 986.5 L240.4 988.9 L238.8 990.9 L238.3 993.7 L237.7 997.0 L237.8 999.7 L237.0 1002.8 L236.0 1005.3 L235.0 1008.6 L235.9 1012.1 L235.0 1015.3 L235.8 1018.9 L236.7 1022.1 L237.0 1025.5 L238.3 1028.7 L239.4 1031.5 L240.5 1033.7 L241.1 1036.3 L241.7 1038.7 L243.2 1041.4 L243.4 1043.2 L244.5 1046.0 L245.0 1048.7 L245.2 1052.0 L244.0 1055.5 L243.3 1058.7 L244.5 1060.6 L246.0 1063.1 L246.7 1065.3 L249.0 1066.8 L252.1 1066.7 L254.0 1067.6 L256.7 1068.7 L259.2 1067.2 L261.9 1067.4 L264.2 1066.1 L266.7 1065.3 L269.4 1064.0 L271.7 1063.4 L274.6 1063.2 L276.7 1062.0 L279.0 1061.2 L281.4 1060.5 L284.2 1060.0 L286.7 1058.7 L289.1 1059.7 L292.0 1059.6 L295.0 1060.3 L296.6 1062.8 L299.1 1065.7 L300.0 1068.7 L300.9 1071.7 L301.6 1075.3 L302.1 1078.8 L302.7 1082.0 L302.6 1085.2 L302.3 1089.0 L303.7 1092.3 L302.6 1095.6 L303.3 1098.7 L304.2 1102.2 L303.8 1104.9 L305.1 1109.0 L304.4 1111.8 L305.0 1115.3 L306.4 1117.5 L307.5 1120.8 L308.1 1123.0 L308.5 1126.5 L310.0 1128.7 L312.7 1130.2 L314.3 1132.3 L316.4 1134.1 L318.3 1135.3 L319.7 1131.8 L320.0 1128.7 L322.6 1130.1 L324.6 1132.2 L326.7 1133.7 L328.0 1136.7 L328.7 1139.1 L330.0 1142.0 L329.7 1143.9 L328.3 1146.0 L330.0 1146.0 L330.9 1148.3 L331.9 1151.0 L333.0 1154.0 L334.1 1157.0 L335.0 1159.3 L336.6 1162.8 L336.7 1166.0 L337.3 1169.7 L338.3 1172.7 L338.8 1175.9 L338.3 1179.0 L339.1 1182.8 L340.4 1186.0 L340.0 1189.3 L340.7 1193.1 L342.0 1196.4 L342.5 1199.3 L343.3 1202.7 L343.5 1205.7 L344.7 1209.5 L346.1 1212.9 L346.7 1216.0 L347.5 1218.4 L348.0 1221.0 L348.0 1221.0 L349.3 1224.2 L350.9 1226.6 L351.9 1229.7 L353.0 1232.7 L354.6 1235.3 L356.7 1237.9 L359.1 1240.0 L361.3 1242.7 L363.6 1245.3 L365.3 1247.7 L367.4 1249.4 L369.6 1251.9 L371.3 1254.3 L373.9 1256.7 L376.9 1258.1 L378.5 1261.1 L381.3 1262.7 L384.0 1263.2 L386.4 1264.4 L388.6 1267.0 L391.3 1267.7 L393.7 1269.1 L395.6 1270.5 L398.0 1271.0 L401.5 1270.5 L404.8 1269.9 L407.8 1269.3 L411.3 1268.6 L414.7 1267.7 L415.7 1266.0 L416.3 1263.3 L418.8 1263.4 L422.2 1265.2 L424.7 1265.3 L426.1 1267.4 L428.0 1269.3 L431.5 1270.3 L434.4 1270.2 L438.0 1270.3 L441.3 1271.0 L443.2 1272.9 L444.7 1275.6 L446.9 1276.9 L448.0 1279.3 L450.1 1281.2 L451.0 1284.6 L452.5 1287.1 L454.7 1289.3 L456.9 1291.3 L458.1 1294.7 L459.1 1297.2 L461.3 1299.3 L462.9 1301.1 L464.3 1303.4 L466.5 1304.9 L468.0 1307.7 L471.1 1309.3 L473.7 1311.7 L476.2 1313.7 L478.0 1316.0 L480.1 1317.0 L481.8 1319.4 L483.8 1321.1 L486.3 1322.7 L487.6 1326.1 L487.2 1329.7 L488.0 1332.7 L487.0 1334.7 L486.1 1337.8 L485.4 1340.6 L484.7 1342.7 L482.5 1344.9 L480.6 1345.5 L478.8 1348.3 L476.3 1349.3 L475.2 1351.0 L475.0 1354.1 L474.0 1356.0 L471.3 1357.7 L469.3 1358.1 L466.3 1359.3 L465.7 1362.8 L464.7 1366.0 L462.0 1364.3 L459.7 1362.7 L456.9 1364.9 L454.0 1366.0 L452.9 1363.7 L452.4 1361.6 L451.3 1359.3 L449.4 1357.0 L448.4 1354.3 L446.3 1352.7 L443.7 1352.6 L440.4 1353.3 L438.0 1352.7 L435.1 1353.8 L433.0 1355.4 L429.9 1355.9 L428.0 1357.7 L425.6 1358.3 L422.7 1359.5 L420.4 1360.4 L418.0 1361.0 L416.6 1363.5 L415.5 1365.1 L414.7 1367.7 L413.7 1370.4 L411.4 1372.8 L409.1 1375.2 L408.0 1377.7 L405.6 1376.3 L404.8 1373.8 L403.0 1372.7 L401.6 1371.1 L399.8 1368.8 L398.0 1367.7 L396.3 1365.5 L394.8 1364.8 L393.0 1362.7 L394.3 1359.7 L394.9 1356.7 L396.3 1354.3 L398.8 1352.7 L401.0 1349.9 L403.0 1347.7 L403.2 1345.0 L403.2 1341.6 L404.2 1339.0 L404.0 1336.0 L402.4 1333.8 L402.7 1331.6 L401.3 1329.3 L399.5 1326.8 L398.5 1324.5 L396.3 1322.7 L393.3 1322.8 L390.6 1323.4 L387.2 1323.6 L384.3 1323.4 L381.3 1323.3 L381.0 1320.7 L380.5 1318.4 L381.6 1315.4 L380.7 1312.7 L378.6 1310.1 L378.3 1307.2 L376.3 1304.3 L374.0 1303.4 L371.3 1302.7 L368.4 1303.4 L364.7 1304.3 L361.5 1303.7 L359.9 1301.7 L357.4 1301.1 L354.7 1300.0 L351.4 1299.3 L348.0 1299.3 L348.0 1299.3 L344.8 1297.8 L341.7 1297.7 L340.2 1294.3 L338.2 1292.7 L336.7 1289.3 L333.8 1288.6 L331.0 1287.6 L327.6 1285.4 L325.0 1284.3 L324.6 1287.7 L323.6 1289.7 L323.6 1293.0 L323.3 1296.0 L322.4 1299.1 L321.1 1301.2 L319.2 1303.8 L318.3 1306.0 L316.9 1303.2 L315.1 1300.7 L313.3 1297.7 L310.9 1294.8 L308.4 1294.1 L305.7 1291.8 L303.3 1289.3 L302.0 1286.2 L300.6 1284.4 L298.6 1281.4 L296.7 1279.3 L294.2 1277.2 L292.1 1276.7 L290.0 1274.3 L287.1 1272.1 L284.7 1270.9 L281.7 1269.3 L281.8 1265.8 L281.1 1262.8 L281.3 1259.7 L281.7 1256.0 L282.8 1253.8 L283.7 1251.1 L285.5 1249.0 L286.7 1246.0 L285.1 1244.0 L281.9 1242.2 L280.1 1240.0 L278.8 1237.4 L276.7 1236.0 L275.3 1233.7 L274.3 1230.8 L274.6 1228.2 L273.3 1226.0 L271.0 1227.6 L268.1 1228.9 L266.0 1230.7 L263.3 1232.7 L260.8 1232.1 L257.9 1230.1 L255.0 1229.3 L253.4 1226.5 L252.7 1224.2 L251.6 1221.7 L251.5 1218.6 L250.0 1216.0 L248.7 1213.7 L248.0 1210.7 L246.8 1208.3 L246.7 1206.0 L244.4 1207.9 L242.3 1207.9 L240.0 1209.3 L238.1 1210.9 L236.3 1212.8 L233.5 1214.8 L231.7 1216.0 L231.2 1212.7 L229.2 1211.1 L229.4 1208.2 L228.0 1205.4 L226.7 1202.7 L228.0 1199.9 L228.4 1196.2 L228.0 1193.0 L229.8 1189.4 L230.0 1186.0 L227.5 1184.2 L226.2 1181.3 L223.3 1179.3 L222.2 1176.9 L220.1 1174.0 L219.7 1171.4 L217.6 1169.3 L216.7 1166.0 L214.1 1166.7 L212.0 1167.9 L208.9 1168.4 L206.7 1169.3 L204.7 1166.7 L202.2 1165.5 L200.0 1162.7 L197.8 1164.0 L195.9 1165.5 L193.6 1167.2 L191.7 1169.3 L189.0 1170.8 L187.8 1172.4 L185.0 1173.8 L183.3 1176.0 L181.0 1174.4 L177.3 1174.1 L175.0 1172.7 L174.9 1175.7 L174.5 1179.4 L174.7 1182.8 L173.7 1186.0 L173.3 1189.3 L171.4 1192.1 L168.3 1193.7 L166.7 1196.0 L165.3 1193.2 L164.4 1190.5 L162.9 1187.9 L163.3 1185.1 L161.7 1182.7 L161.4 1179.3 L161.1 1176.4 L161.4 1172.8 L159.9 1169.7 L160.0 1166.0 L159.6 1162.4 L159.3 1159.7 L160.3 1156.3 L159.3 1152.6 L160.1 1149.3 L160.0 1146.0 L156.7 1146.0 L157.3 1143.7 L158.1 1140.6 L157.2 1138.2 L158.3 1135.3 L157.9 1132.0 L157.2 1129.0 L157.0 1125.7 L156.7 1122.0 L157.3 1118.4 L157.0 1115.2 L158.2 1112.3 L158.3 1108.7 L159.7 1105.1 L159.8 1102.0 L161.3 1098.8 L161.7 1095.3 L161.0 1091.6 L161.3 1088.8 L160.0 1085.5 L160.0 1082.0 L160.8 1078.2 L162.2 1075.1 L163.0 1071.8 L163.3 1068.7 L165.1 1066.0 L168.5 1064.4 L170.0 1062.0 L170.5 1059.4 L171.8 1057.2 L172.4 1054.9 L173.3 1052.0 L174.1 1049.5 L174.2 1047.1 L176.6 1044.5 L176.7 1042.0 L178.2 1038.7 L178.9 1035.1 L179.6 1032.5 L180.0 1028.7 L181.0 1025.6 L181.9 1022.3 L182.7 1018.3 L183.3 1015.3 L184.3 1013.1 L185.0 1010.4 L186.4 1008.2 L186.7 1005.3 L188.2 1002.3 L189.6 999.4 L191.7 997.0 L193.9 994.6 L194.7 991.3 L196.7 988.7 L197.4 986.5 L197.7 983.8 L198.8 981.1 L200.0 978.7 L200.5 976.3 L201.1 973.4 L203.0 971.2 L203.3 968.7 L204.3 966.1 L204.6 963.3 L205.8 961.1 L206.7 958.7 L205.9 955.3 L204.7 952.3 L204.0 948.7 L204.5 946.3 L205.6 944.1 L206.7 942.0 L208.1 939.5 L211.1 938.4 L213.0 935.8 L215.0 933.7 L217.7 931.9 L220.1 930.8 L221.9 929.6 L225.0 928.7 L224.7 926.0 L223.3 923.7 L224.9 921.2 L227.6 919.3 L229.0 917.2 L231.7 915.3 L234.3 914.1 L235.4 911.7 L237.9 910.1 L240.0 908.7 L242.0 906.0 L243.7 903.9 L245.4 901.2 L246.7 898.7 L247.9 896.3 L248.8 893.6 L249.7 891.7 L250.0 888.7 L251.8 887.1 L253.7 884.4 L255.0 882.0 L256.7 882.0 L257.7 879.2 L258.5 877.2 L259.3 874.7 L261.0 871.7 L261.7 869.3 L262.7 866.3 L265.0 864.1 L267.6 862.3 L270.0 859.7 L271.0 856.8 L272.0 854.2 L273.3 851.3 L275.9 849.2 L277.3 846.9 L279.3 844.7 L277.5 842.6 L275.8 839.9 L275.1 837.4 L273.3 834.7 L272.6 831.8 L271.0 828.6 L269.3 826.3 L270.2 823.9 L269.7 820.4 L270.0 818.0 L267.7 818.0 L265.0 816.3 L264.5 813.5 L264.5 810.4 L263.3 808.0 L262.6 804.2 L262.0 801.3 L261.6 798.0 L260.4 794.6 L260.0 791.3 L259.6 787.6 L259.9 784.6 L258.9 781.5 L259.3 778.0 L257.0 775.6 L255.0 773.0 L252.7 771.0 L251.3 769.1 L248.6 768.0 L246.7 766.3 L245.7 763.3 L243.2 760.5 L241.7 758.0 L240.3 755.7 L240.2 752.1 L238.8 750.3 L238.2 747.0 L236.7 744.7 L235.6 741.3 L234.6 738.9 L232.7 736.3 L232.4 733.2 L233.1 729.7 L233.3 726.3 L236.3 725.1 L240.0 724.7 L240.8 721.3 L241.0 717.5 L241.7 714.7 L241.6 711.7 L240.8 707.8 L240.4 704.5 L239.6 701.6 L240.0 698.0 L240.2 694.9 L239.6 692.2 L239.0 689.0 L238.3 685.9 L238.3 683.0 L237.0 679.7 L236.0 677.2 L234.2 674.8 L233.3 671.3 L232.2 668.9 L229.7 666.9 L228.2 663.6 L226.7 661.3 L225.4 658.3 L223.6 656.7 L223.1 653.3 L221.7 650.6 L220.0 648.0 L217.2 646.9 L214.0 645.0 L212.2 643.0 L209.4 641.5 L206.7 639.7 L203.5 638.4 L201.4 636.0 L199.0 634.7 L196.8 633.5 L194.3 630.6 L191.7 629.7 L189.6 627.2 L188.8 624.9 L186.6 622.2 L184.8 620.0 L183.3 618.0 L183.3 618.0 L181.4 615.8 L180.4 613.1 L177.9 610.5 L176.5 607.9 L175.0 605.7 L173.2 603.8 L171.7 601.4 L170.7 598.4 L168.6 596.6 L166.7 594.0 L165.8 591.4 L164.7 589.1 L163.0 585.9 L162.5 583.6 L161.7 580.7 L160.3 578.3 L159.4 575.9 L158.9 572.7 L157.1 570.0 L156.7 567.3 L155.7 564.6 L156.5 561.6 L155.5 558.0 L155.8 555.6 L155.0 552.3 L157.1 550.0 L159.3 547.7 L161.2 545.5 L163.3 544.0 L166.4 544.5 L169.7 545.0 L173.3 545.7 L175.2 543.2 L177.2 540.4 L178.3 537.3 L180.7 537.1 L183.2 537.5 L186.0 537.3 L186.7 534.4 L186.4 530.6 L186.2 527.1 L186.7 524.0 L186.3 520.5 L186.4 517.5 L186.0 514.4 L186.0 510.7 L186.2 506.9 L186.9 503.8 L187.2 500.5 L188.3 497.3 L189.0 494.8 L189.6 492.6 L190.5 490.0 L191.7 487.3 L189.3 486.0 L187.7 484.3 L186.0 482.3 L188.5 480.5 L190.3 478.3 L191.0 475.9 L193.3 474.0 L196.7 472.4 L199.9 472.6 L203.4 471.3 L206.7 470.7 L209.1 468.5 L211.6 466.1 L213.6 463.5 L216.0 460.7 L215.7 457.5 L216.8 454.9 L216.7 452.3 L214.8 451.4 L213.2 449.6 L211.7 447.3 L209.9 449.5 L208.1 451.9 L205.5 453.2 L203.3 455.7 L200.8 457.0 L198.9 458.6 L196.7 460.7 L195.7 457.2 L195.0 454.0 L194.1 451.2 L193.8 447.0 L192.3 444.5 L191.7 440.7 L190.4 437.4 L187.9 435.4 L186.0 432.0 L185.0 429.0 L182.8 426.9 L182.2 424.9 L180.3 422.6 L178.3 420.7 L180.7 417.9 L181.6 415.2 L184.0 412.3 L182.8 409.1 L180.8 406.0 L178.6 403.1 L176.7 400.7 L174.3 398.5 L171.1 396.9 L169.1 394.5 L166.7 392.3 L165.4 389.8 L163.2 387.7 L160.7 384.9 L158.4 383.2 L156.7 380.7 L155.0 378.0 L152.7 376.6 L150.0 375.0 L148.3 372.3 L147.1 370.1 L145.7 367.8 L144.8 364.6 L143.3 362.3 L141.1 360.7 L139.2 358.2 L137.6 355.7 L135.0 354.0 Z" fill="none" stroke="#000" stroke-width="2.4" stroke-linejoin="round"/>
<path d="M501.3 816.3 L509.7 814.7 L516.3 826.3 L514.7 833.0 L506.3 831.3 L502.0 823.0 Z" fill="#66c804" stroke="#000" stroke-width="1.6" stroke-linejoin="round"/>
<path d="M524.7 851.3 L530.7 849.7 L532.0 864.7 L526.3 866.3 Z" fill="#99e8ad" stroke="#000" stroke-width="1.6" stroke-linejoin="round"/>
<path d="M276.7 1282.7 L281.7 1281.0 L284.0 1292.7 L280.0 1301.0 L275.0 1294.3 Z" fill="#66c804" stroke="#000" stroke-width="1.6" stroke-linejoin="round"/>
<path d="M304.2 1019.8 L308.3 1017.1 L314.6 1018.3 L316.7 1024.0 L314.6 1029.2 L308.3 1028.1 L305.2 1025.0 Z" fill="#cfe3fd" stroke="#000" stroke-width="1.6" stroke-linejoin="round"/>
<path d="M302.1 1037.5 L308.3 1035.4 L315.6 1036.5 L316.7 1043.8 L312.5 1050.0 L305.2 1052.1 L302.1 1044.8 Z" fill="#cfe3fd" stroke="#000" stroke-width="1.6" stroke-linejoin="round"/>
<path d="M173.3 1013.7 L177.3 1008.7 L180.7 1006.0 L184.0 1002.0 M175.0 1022.0 L179.3 1017.0 L182.7 1012.7 M176.0 1032.0 L180.0 1027.0 L184.0 1022.0 L181.7 1028.7 L185.0 1033.7 M170.0 1038.7 L174.0 1043.7 L177.3 1038.7 L180.7 1042.0 M168.3 1047.0 L172.7 1050.3 M164.0 1067.0 L167.3 1072.0 L165.0 1078.7 L169.3 1082.0 L166.0 1087.0 L170.0 1092.0 L166.7 1097.0 M161.7 1073.7 L160.0 1082.0 L162.7 1090.3 L160.7 1098.7 M168.3 1068.7 L171.7 1077.0 L170.0 1085.3 M156.7 1123.7 L159.3 1130.3 L157.3 1135.3 M156.4 1123.3 L154.4 1131.7 L157.8 1145.6 L156.4 1156.7 L160.0 1170.6 L161.1 1190.0 L167.5 1195.6 L171.7 1190.0 L170.3 1178.9 L173.1 1170.6 L171.1 1159.4 L174.4 1151.1 L171.7 1142.8 L175.8 1138.6 M163.3 1151.1 L166.1 1162.2 L164.7 1173.3 L167.5 1184.4 M161.1 1131.7 L164.7 1137.2 L162.8 1144.2 M175.8 1140.0 L178.6 1151.1 L177.2 1162.2 L181.4 1173.3 L180.0 1184.4 M181.4 1137.2 L185.6 1145.6 L184.2 1156.7 L188.3 1165.0 L186.9 1178.9 L189.7 1183.1 M189.7 1135.8 L193.3 1142.8 L192.5 1153.9 L196.7 1162.2 L195.3 1173.3 M196.7 1145.6 L200.8 1153.9 L199.4 1165.0 L203.6 1173.3 M203.6 1162.2 L209.2 1163.6 L213.3 1162.2 L216.1 1167.8 L220.3 1170.6 L218.9 1178.9 L223.1 1184.4 L221.7 1195.6 L225.8 1201.1 L227.2 1212.2 L231.4 1217.8 L233.3 1209.4 L232.2 1201.1 L236.9 1198.3 L239.7 1202.5 L242.5 1199.7 L244.4 1206.7 L246.7 1215.0 L246.1 1223.3 L250.0 1226.1 L252.2 1233.1 M224.4 1190.0 L227.8 1195.6 L226.7 1203.9 M213.3 1170.6 L216.7 1176.1 L215.0 1183.1 M228.6 1173.3 L232.2 1178.9 L230.6 1184.4 M238.9 1220.6 L242.5 1225.6 L241.1 1231.7 M202.8 1190.0 L204.4 1195.6 L203.3 1201.1 M252.2 1233.1 L256.4 1235.8 L260.6 1231.7 L263.3 1234.4 L266.7 1224.7 L268.9 1230.3 L271.1 1235.8 L274.4 1223.3 L275.8 1234.4 L278.6 1241.4 L282.2 1246.9 L285.6 1244.2 L287.2 1248.3 L283.3 1253.9 L282.2 1259.4 M256.4 1240.0 L260.6 1244.2 L258.3 1248.3 M268.9 1242.8 L272.2 1248.3 L274.4 1245.6 M260.6 1251.1 L263.3 1255.3 M280.2 1018.8 L281.7 1025.0 L279.6 1031.2 L282.1 1037.5 L280.0 1043.8 L281.2 1052.1 L280.2 1058.3 M300.0 1046.9 L303.1 1054.2 L306.2 1053.1" fill="none" stroke="#000" stroke-width="2.3" stroke-linejoin="round" stroke-linecap="round"/>
<g fill="#000"><circle cx="378.0" cy="729.7" r="1.6"/><circle cx="374.7" cy="749.7" r="1.6"/><circle cx="376.3" cy="768.0" r="1.6"/><circle cx="381.3" cy="771.3" r="1.6"/><circle cx="389.7" cy="781.3" r="1.6"/><circle cx="433.0" cy="781.3" r="1.6"/><circle cx="438.0" cy="778.0" r="1.6"/><circle cx="444.7" cy="779.7" r="1.6"/><circle cx="454.7" cy="778.0" r="1.6"/><circle cx="511.3" cy="836.3" r="1.6"/><circle cx="519.7" cy="834.7" r="1.6"/><circle cx="514.7" cy="844.7" r="1.6"/><circle cx="521.3" cy="843.0" r="1.6"/><circle cx="364.7" cy="748.0" r="1.0"/><circle cx="293.3" cy="992.0" r="3.0"/><circle cx="308.3" cy="1007.0" r="1.4"/><circle cx="250.0" cy="957.0" r="1.4"/><circle cx="253.3" cy="952.0" r="1.4"/><circle cx="260.0" cy="957.0" r="1.4"/><circle cx="246.7" cy="963.7" r="1.4"/><circle cx="248.3" cy="970.3" r="1.4"/><circle cx="241.7" cy="978.7" r="1.4"/><circle cx="243.3" cy="988.7" r="1.4"/><circle cx="263.3" cy="927.0" r="1.4"/><circle cx="268.3" cy="932.0" r="1.4"/><circle cx="270.0" cy="907.0" r="1.4"/><circle cx="248.3" cy="1055.3" r="1.4"/><circle cx="260.0" cy="1063.7" r="1.4"/><circle cx="173.3" cy="1015.3" r="2.0"/><circle cx="176.7" cy="1010.3" r="2.0"/><circle cx="180.0" cy="1007.0" r="2.0"/><circle cx="175.0" cy="1022.0" r="2.0"/><circle cx="180.0" cy="1025.3" r="2.0"/><circle cx="176.7" cy="1032.0" r="2.0"/><circle cx="183.3" cy="1037.0" r="2.0"/><circle cx="178.3" cy="1042.0" r="2.0"/><circle cx="168.3" cy="1043.7" r="2.0"/><circle cx="170.0" cy="1037.0" r="2.0"/><circle cx="164.0" cy="1068.7" r="2.0"/><circle cx="166.0" cy="1075.3" r="2.0"/><circle cx="162.7" cy="1082.0" r="2.0"/><circle cx="166.7" cy="1085.3" r="2.0"/><circle cx="164.0" cy="1092.0" r="2.0"/><circle cx="169.3" cy="1095.3" r="2.0"/><circle cx="156.7" cy="1127.0" r="2.0"/><circle cx="159.3" cy="1130.3" r="2.0"/><circle cx="175.0" cy="1142.0" r="2.0"/><circle cx="181.7" cy="1140.3" r="2.0"/><circle cx="188.3" cy="1138.7" r="2.0"/><circle cx="193.3" cy="1142.0" r="2.0"/><circle cx="198.3" cy="985.3" r="2.0"/><circle cx="195.0" cy="988.0" r="2.0"/><circle cx="121.7" cy="1080.3" r="1.4"/><circle cx="120.0" cy="1102.0" r="1.4"/><circle cx="105.0" cy="1117.0" r="1.4"/><circle cx="105.0" cy="1122.0" r="1.4"/><circle cx="105.0" cy="1128.7" r="1.4"/><circle cx="203.3" cy="1192.7" r="1.8"/><circle cx="204.0" cy="1197.7" r="1.8"/><circle cx="211.7" cy="1206.0" r="1.8"/><circle cx="241.7" cy="1224.3" r="1.8"/><circle cx="245.0" cy="1231.0" r="1.8"/><circle cx="256.7" cy="1249.3" r="1.8"/><circle cx="260.0" cy="1252.7" r="1.8"/><circle cx="263.3" cy="1257.7" r="1.8"/><circle cx="270.0" cy="1272.7" r="1.8"/><circle cx="268.3" cy="1266.0" r="1.8"/><circle cx="290.0" cy="1277.7" r="1.8"/><circle cx="295.0" cy="1282.7" r="1.8"/><circle cx="298.3" cy="1287.7" r="1.8"/><circle cx="306.7" cy="1297.7" r="1.8"/><circle cx="238.3" cy="1298.7" r="1.8"/><circle cx="245.0" cy="1297.7" r="1.8"/><circle cx="250.0" cy="1300.0" r="1.8"/><circle cx="261.7" cy="1296.0" r="1.8"/><circle cx="246.7" cy="1301.3" r="1.8"/><circle cx="241.7" cy="1300.0" r="1.8"/></g>
</g>
<rect x="68.3" y="97.3" width="737.7" height="1290.2" fill="none" stroke="#000" stroke-width="1.7"/>
<g font-size="22.5" fill="#262626">
<text x="59.8" y="147.9" text-anchor="end">20</text>
<text x="59.8" y="578" text-anchor="end">15</text>
<text x="59.8" y="1008" text-anchor="end">10</text>
<text x="136.5" y="1418.5" text-anchor="middle">98</text>
<text x="308" y="1418.5" text-anchor="middle">100</text>
<text x="479.5" y="1418.5" text-anchor="middle">102</text>
<text x="651.5" y="1418.5" text-anchor="middle">104</text>
</g>
<text x="437.3" y="1451.6" font-size="20.65" text-anchor="middle" fill="#111">|---------light--------||-mod.rain-||----heavy rain----||--------violent rain--------|</text>
<rect x="70.5" y="1464.5" width="61.3" height="40.8" fill="#ffffff"/>
<rect x="131.5" y="1464.5" width="61.3" height="40.8" fill="#cfe3fd"/>
<rect x="192.4" y="1464.5" width="61.3" height="40.8" fill="#b0d4fc"/>
<rect x="253.4" y="1464.5" width="61.3" height="40.8" fill="#99e8ad"/>
<rect x="314.4" y="1464.5" width="61.3" height="40.8" fill="#66c804"/>
<rect x="375.4" y="1464.5" width="61.3" height="40.8" fill="#fed700"/>
<rect x="436.3" y="1464.5" width="61.3" height="40.8" fill="#fe8c05"/>
<rect x="497.3" y="1464.5" width="61.3" height="40.8" fill="#cc6608"/>
<rect x="558.3" y="1464.5" width="61.3" height="40.8" fill="#fe2f08"/>
<rect x="619.2" y="1464.5" width="61.3" height="40.8" fill="#cc2828"/>
<rect x="680.2" y="1464.5" width="61.3" height="40.8" fill="#891c1c"/>
<rect x="741.2" y="1464.5" width="61.3" height="40.8" fill="#9932cc"/>
<rect x="70.5" y="1464.5" width="731.6" height="40.8" fill="none" stroke="#555" stroke-width="0.8"/>
<line x1="131.5" y1="1498.3" x2="131.5" y2="1505.3" stroke="#444" stroke-width="0.8"/>
<text x="131.5" y="1531.8" font-size="18" text-anchor="middle" fill="#262626">1</text>
<line x1="192.4" y1="1498.3" x2="192.4" y2="1505.3" stroke="#444" stroke-width="0.8"/>
<text x="192.4" y="1531.8" font-size="18" text-anchor="middle" fill="#262626">5</text>
<line x1="253.4" y1="1498.3" x2="253.4" y2="1505.3" stroke="#444" stroke-width="0.8"/>
<text x="253.4" y="1531.8" font-size="18" text-anchor="middle" fill="#262626">10</text>
<line x1="314.4" y1="1498.3" x2="314.4" y2="1505.3" stroke="#444" stroke-width="0.8"/>
<text x="314.4" y="1531.8" font-size="18" text-anchor="middle" fill="#262626">20</text>
<line x1="375.4" y1="1498.3" x2="375.4" y2="1505.3" stroke="#444" stroke-width="0.8"/>
<text x="375.4" y="1531.8" font-size="18" text-anchor="middle" fill="#262626">35</text>
<line x1="436.3" y1="1498.3" x2="436.3" y2="1505.3" stroke="#444" stroke-width="0.8"/>
<text x="436.3" y="1531.8" font-size="18" text-anchor="middle" fill="#262626">50</text>
<line x1="497.3" y1="1498.3" x2="497.3" y2="1505.3" stroke="#444" stroke-width="0.8"/>
<text x="497.3" y="1531.8" font-size="18" text-anchor="middle" fill="#262626">70</text>
<line x1="558.3" y1="1498.3" x2="558.3" y2="1505.3" stroke="#444" stroke-width="0.8"/>
<text x="558.3" y="1531.8" font-size="18" text-anchor="middle" fill="#262626">90</text>
<line x1="619.2" y1="1498.3" x2="619.2" y2="1505.3" stroke="#444" stroke-width="0.8"/>
<text x="619.2" y="1531.8" font-size="18" text-anchor="middle" fill="#262626">150</text>
<line x1="680.2" y1="1498.3" x2="680.2" y2="1505.3" stroke="#444" stroke-width="0.8"/>
<text x="680.2" y="1531.8" font-size="18" text-anchor="middle" fill="#262626">200</text>
<line x1="741.2" y1="1498.3" x2="741.2" y2="1505.3" stroke="#444" stroke-width="0.8"/>
<text x="741.2" y="1531.8" font-size="18" text-anchor="middle" fill="#262626">300</text>
<text x="428.5" y="1565.6" font-size="24.8" text-anchor="middle" fill="#111">Precipitation (mm/day)</text>
<text x="752.5" y="1577.8" font-size="16.6" text-anchor="middle" fill="#111">Created by HII</text>
</svg>
</body></html>
